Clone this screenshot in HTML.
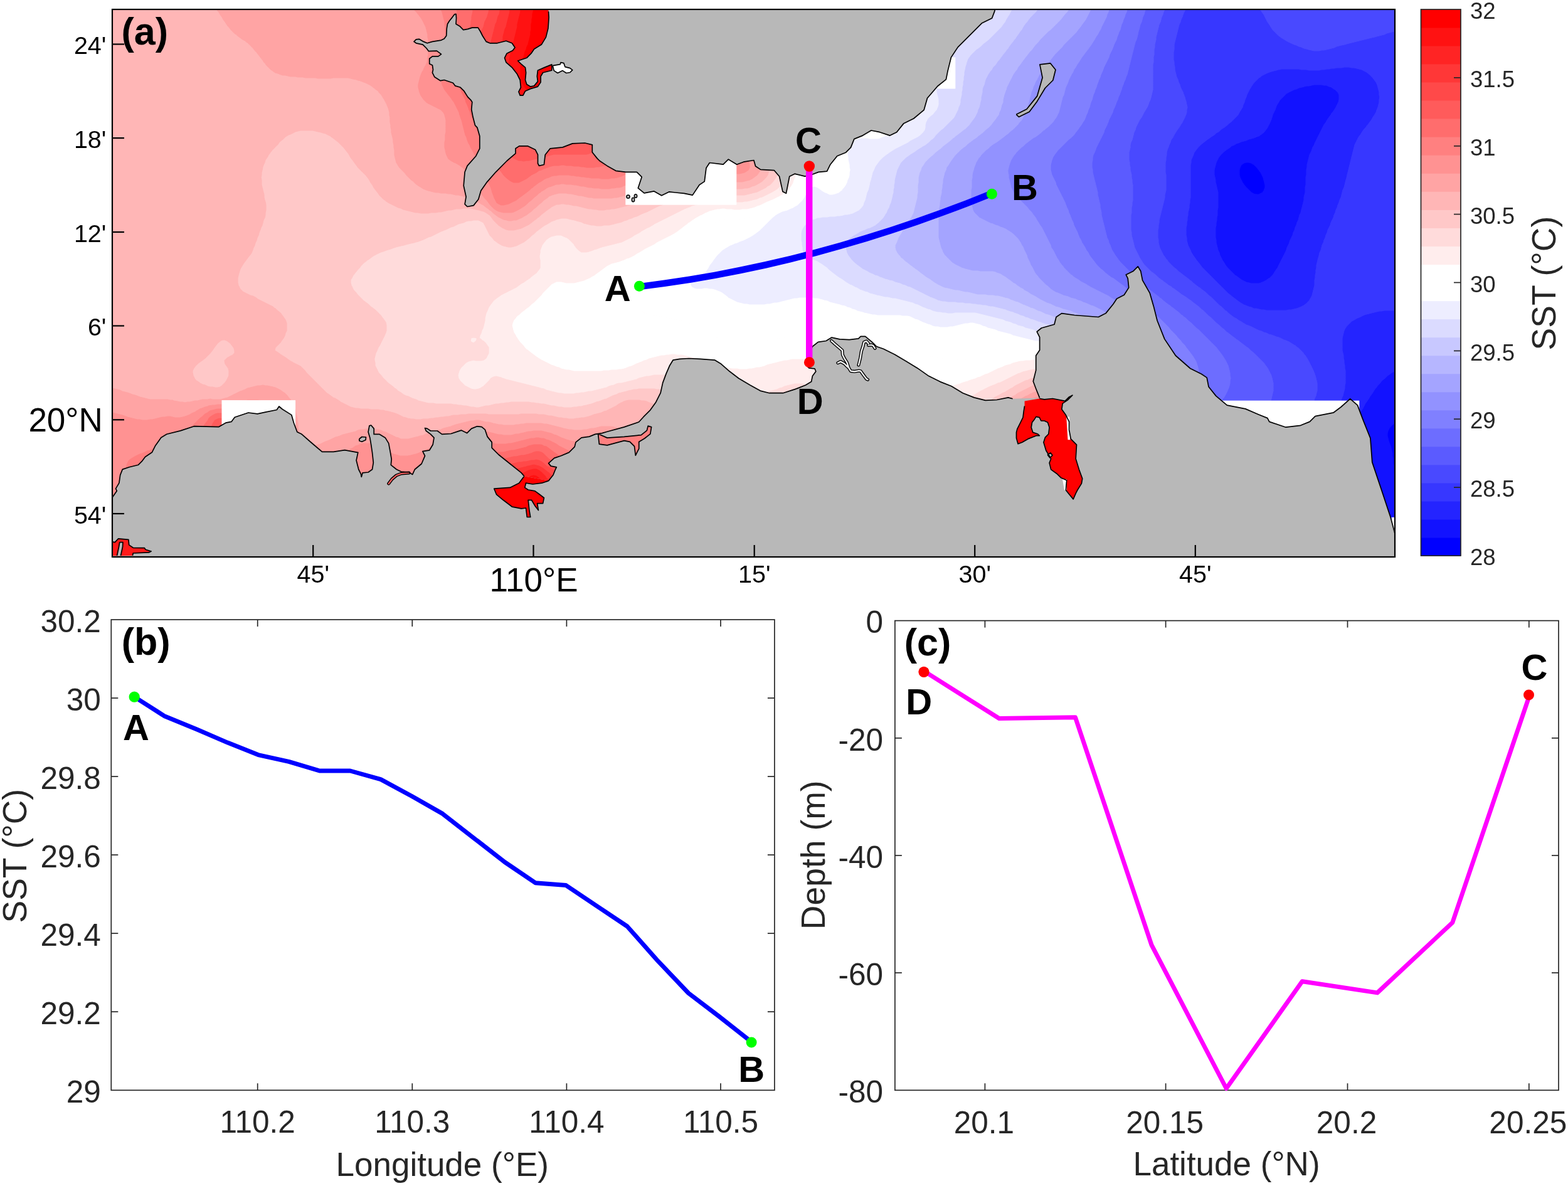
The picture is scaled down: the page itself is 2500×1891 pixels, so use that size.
<!DOCTYPE html>
<html><head><meta charset="utf-8"><title>SST figure</title>
<style>html,body{margin:0;padding:0;background:#fff;overflow:hidden}svg{display:block}</style>
</head><body>
<svg xmlns="http://www.w3.org/2000/svg" width="2500" height="1891" viewBox="0 0 2500 1891" font-family='"Liberation Sans", Arial, sans-serif'><rect x="179" y="15" width="2045" height="873" fill="#fbb"/>
<defs><clipPath id="mclip"><rect x="179" y="15" width="2045" height="872"/></clipPath></defs><g clip-path="url(#mclip)"><path d="M1987,259 1991,259 1995,260 1999,262 2003,266 2007,271 2010,275 2011,277 2014,283 2015,287 2016,291 2017,295 2017,299 2016,303 2013,307 2011,308 2007,310 2003,310 1999,309 1996,307 1991,303 1987,299 1984,295 1981,291 1979,287 1977,283 1976,279 1976,275 1976,271 1977,267 1979,263 1983,260 1987,259ZM2231,671 2231,675 2231,679 2231,683 2231,687 2231,691 2231,695 2231,699 2231,703 2231,707 2231,711 2231,715 2231,719 2231,723 2231,727 2231,731 2231,735 2231,739 2231,743 2231,747 2231,751 2231,755 2231,759 2231,763 2231,767 2231,771 2231,775 2231,779 2231,783 2231,787 2231,791 2231,795 2231,799 2231,803 2231,807 2231,811 2231,815 2231,819 2231,823 2231,827 2231,831 2231,835 2231,839 2231,843 2231,847 2231,851 2231,855 2231,859 2231,863 2231,867 2231,871 2231,875 2231,879 2231,883 2231,887 2231,891 2231,895 2227,895 2224,895 2224,891 2224,887 2224,883 2224,879 2224,875 2224,871 2224,867 2224,863 2224,859 2224,855 2224,851 2224,847 2224,843 2224,839 2224,835 2224,831 2224,827 2224,823 2224,819 2224,815 2224,811 2224,807 2224,803 2224,799 2224,795 2224,791 2224,787 2224,783 2223,779 2223,775 2223,771 2223,768 2223,763 2223,759 2222,755 2222,751 2222,747 2222,743 2221,739 2221,735 2221,731 2220,727 2220,723 2219,720 2218,715 2217,711 2215,707 2214,703 2213,699 2212,695 2212,691 2213,687 2215,683 2218,679 2223,675 2227,673 2230,671Z" fill="#0000ff" stroke="#0000ff" stroke-width="1.2" fill-rule="evenodd"/>
<path d="M2103,135 2107,135 2111,136 2115,136 2119,138 2122,139 2127,142 2129,143 2131,145 2133,147 2135,151 2135,155 2135,159 2134,163 2132,167 2131,169 2128,175 2125,179 2123,181 2122,183 2119,187 2116,191 2114,195 2111,199 2109,203 2107,207 2105,211 2103,215 2101,219 2099,223 2097,227 2095,231 2093,235 2092,239 2090,243 2088,247 2087,251 2086,255 2085,259 2084,263 2084,267 2083,271 2083,275 2083,279 2082,283 2082,287 2082,291 2082,295 2081,299 2081,303 2081,307 2080,311 2079,315 2079,319 2078,323 2077,327 2076,331 2075,334 2074,339 2072,343 2071,347 2070,351 2068,355 2067,358 2065,363 2064,367 2062,371 2061,375 2059,379 2057,383 2056,387 2054,391 2052,395 2051,398 2049,403 2047,407 2045,411 2043,414 2041,419 2039,422 2037,427 2035,430 2032,435 2029,439 2027,441 2025,443 2023,444 2019,447 2015,449 2011,451 2007,452 2003,452 1999,452 1995,452 1992,451 1987,450 1983,448 1979,446 1975,443 1971,440 1969,439 1967,437 1965,435 1963,433 1961,431 1959,429 1957,427 1955,424 1952,419 1949,415 1947,411 1945,407 1944,403 1942,399 1941,395 1940,391 1939,387 1939,384 1938,379 1938,375 1938,371 1938,367 1938,363 1939,359 1939,355 1940,351 1940,347 1941,343 1941,339 1941,335 1942,331 1942,327 1942,323 1942,319 1942,315 1942,311 1942,307 1941,303 1940,299 1939,295 1938,291 1938,287 1937,283 1936,279 1936,275 1936,271 1937,267 1938,263 1939,259 1941,255 1943,251 1946,247 1950,243 1955,239 1959,236 1963,233 1967,231 1971,229 1975,228 1979,226 1983,225 1987,224 1991,222 1995,221 1999,220 2002,219 2007,217 2010,215 2015,211 2018,207 2021,203 2023,199 2025,195 2027,191 2028,187 2029,183 2031,179 2033,175 2034,171 2036,167 2039,163 2041,159 2043,157 2045,155 2047,153 2049,151 2051,149 2054,147 2059,145 2063,143 2067,142 2071,140 2075,139 2079,138 2083,137 2087,137 2091,136 2095,135 2099,135 2103,135ZM1987,259 1983,260 1979,263 1977,267 1976,271 1976,275 1976,279 1977,283 1979,287 1981,291 1983,294 1987,299 1991,303 1995,307 1999,309 2003,310 2007,310 2011,308 2013,307 2015,304 2017,299 2017,295 2016,291 2015,287 2014,283 2012,279 2010,275 2007,271 2004,267 2000,263 1995,260 1991,259 1987,259ZM2227,590 2231,588 2231,591 2231,595 2231,599 2231,603 2231,607 2231,611 2231,615 2231,619 2231,623 2231,627 2231,631 2231,635 2231,639 2231,643 2231,647 2231,651 2231,655 2231,659 2231,663 2231,667 2231,671 2227,673 2223,675 2219,678 2215,683 2213,687 2212,691 2212,695 2213,699 2214,703 2215,706 2217,711 2218,715 2219,719 2220,723 2220,727 2221,731 2221,735 2221,739 2222,743 2222,747 2222,751 2222,755 2223,759 2223,763 2223,767 2223,771 2223,775 2223,779 2224,783 2224,787 2224,791 2224,795 2224,799 2224,803 2224,807 2224,811 2224,815 2224,819 2224,823 2224,827 2224,831 2224,835 2224,839 2224,843 2224,847 2224,851 2224,855 2224,859 2224,863 2224,867 2224,871 2224,875 2224,879 2224,883 2224,887 2224,891 2224,895 2219,895 2215,895 2211,895 2207,895 2203,895 2199,895 2195,895 2191,895 2187,895 2183,895 2179,895 2175,895 2171,895 2167,895 2163,895 2163,891 2162,887 2162,883 2162,879 2162,875 2162,871 2162,867 2161,863 2161,859 2161,855 2161,851 2161,847 2160,843 2160,839 2160,835 2160,831 2159,827 2159,823 2159,820 2159,815 2158,811 2158,807 2158,803 2158,799 2157,795 2157,791 2157,787 2157,783 2157,779 2156,775 2156,771 2156,767 2156,763 2155,759 2155,755 2155,751 2155,747 2155,743 2155,739 2155,735 2155,731 2155,727 2155,723 2155,719 2155,715 2155,711 2155,707 2156,703 2156,699 2157,695 2158,691 2158,687 2159,683 2161,679 2162,675 2163,671 2165,667 2167,663 2168,659 2170,655 2173,651 2175,647 2177,643 2179,641 2183,635 2185,631 2187,628 2190,623 2193,619 2195,617 2196,615 2199,612 2203,607 2207,604 2211,600 2215,597 2218,595 2223,592 2227,590Z" fill="#1212ff" stroke="#1212ff" stroke-width="1.2" fill-rule="evenodd"/>
<path d="M2039,111 2043,110 2047,110 2051,110 2055,110 2059,110 2063,110 2067,110 2071,110 2075,111 2079,111 2083,111 2087,112 2091,112 2095,112 2099,112 2103,112 2107,111 2111,111 2115,110 2119,110 2123,109 2127,109 2131,108 2135,108 2139,108 2143,107 2147,107 2151,107 2155,108 2159,108 2163,109 2167,110 2171,111 2175,113 2179,115 2183,118 2187,122 2191,127 2194,131 2195,134 2197,139 2198,143 2199,147 2199,151 2200,155 2199,159 2199,163 2198,167 2197,171 2195,175 2194,179 2192,183 2189,187 2187,190 2184,195 2181,199 2179,201 2178,203 2175,206 2171,211 2169,215 2167,217 2164,223 2162,227 2160,231 2159,235 2158,239 2157,243 2156,247 2155,250 2154,255 2153,259 2152,263 2151,267 2150,271 2149,275 2148,279 2147,283 2146,287 2145,291 2144,295 2143,298 2141,303 2140,307 2139,311 2138,315 2136,319 2135,322 2133,327 2132,331 2131,333 2129,339 2127,343 2126,347 2124,351 2123,353 2121,359 2119,363 2117,367 2116,371 2114,375 2113,379 2111,383 2110,387 2108,391 2107,395 2106,399 2104,403 2103,407 2102,411 2101,415 2100,419 2099,423 2099,426 2098,431 2098,435 2097,439 2097,443 2096,447 2096,451 2096,455 2095,459 2094,463 2093,467 2092,471 2091,474 2088,479 2084,483 2079,487 2075,489 2071,491 2067,492 2063,493 2059,494 2055,494 2051,495 2048,495 2043,495 2039,495 2035,495 2031,495 2027,495 2023,495 2019,495 2015,494 2011,494 2007,493 2003,492 1999,492 1995,490 1991,489 1987,488 1983,486 1979,484 1975,481 1972,479 1967,475 1963,472 1959,468 1955,465 1953,463 1951,461 1949,459 1947,457 1945,455 1943,453 1941,451 1939,449 1937,447 1935,445 1933,443 1931,441 1929,439 1927,437 1925,435 1923,433 1921,431 1919,429 1917,427 1915,424 1911,419 1908,415 1905,411 1903,408 1900,403 1898,399 1896,395 1895,393 1893,387 1892,383 1892,379 1891,375 1891,371 1891,367 1891,363 1892,359 1892,355 1893,351 1893,347 1894,343 1894,339 1895,336 1896,331 1896,327 1897,323 1897,319 1898,315 1898,311 1898,307 1898,303 1898,299 1898,295 1898,291 1898,287 1898,283 1898,279 1898,275 1898,271 1898,267 1898,263 1899,259 1899,255 1901,251 1902,247 1904,243 1907,239 1910,235 1914,231 1919,227 1923,224 1927,221 1930,219 1935,215 1939,212 1941,211 1943,210 1946,207 1951,203 1955,200 1959,197 1962,195 1966,191 1970,187 1974,183 1975,181 1976,179 1979,175 1981,171 1982,167 1984,163 1985,159 1987,155 1988,151 1990,147 1991,145 1994,139 1997,135 1999,132 2003,128 2007,124 2009,123 2011,121 2015,119 2019,117 2023,115 2027,114 2031,113 2035,112 2038,111ZM2101,135 2095,135 2091,136 2087,137 2083,137 2079,138 2076,139 2071,140 2067,142 2063,143 2059,145 2055,147 2051,149 2049,151 2047,153 2045,155 2043,157 2041,159 2039,162 2036,167 2035,169 2033,175 2031,179 2029,183 2028,187 2027,190 2025,195 2023,199 2021,203 2019,206 2015,211 2011,214 2007,217 2003,218 1999,220 1995,221 1991,222 1987,224 1983,225 1979,226 1977,227 1971,229 1968,231 1963,233 1961,235 1955,239 1951,242 1947,246 1943,251 1941,255 1939,259 1938,263 1937,267 1936,271 1936,275 1936,279 1937,283 1938,287 1938,291 1939,294 1940,299 1941,303 1942,307 1942,311 1942,315 1942,319 1942,323 1942,327 1942,331 1941,335 1941,339 1941,343 1940,347 1940,351 1939,355 1939,359 1938,363 1938,367 1938,371 1938,375 1938,379 1939,383 1939,387 1940,391 1941,395 1942,399 1944,403 1945,407 1947,411 1949,415 1951,418 1954,423 1957,427 1959,429 1961,431 1963,433 1965,435 1967,437 1969,439 1971,440 1975,443 1979,446 1981,447 1987,450 1991,451 1995,452 1999,452 2003,452 2007,452 2010,451 2015,449 2019,447 2023,444 2025,443 2027,441 2029,439 2031,436 2034,431 2037,427 2039,423 2041,419 2043,415 2045,411 2047,407 2049,403 2051,399 2052,395 2054,391 2055,389 2057,383 2059,379 2061,375 2062,371 2064,367 2065,363 2067,359 2068,355 2070,351 2071,347 2072,343 2074,339 2075,335 2076,331 2077,327 2078,323 2079,319 2079,315 2080,311 2081,307 2081,303 2081,299 2082,295 2082,291 2082,287 2082,283 2083,279 2083,275 2083,271 2084,267 2084,263 2085,259 2086,255 2087,251 2088,247 2090,243 2091,241 2093,235 2095,232 2097,227 2099,223 2101,219 2103,215 2105,211 2107,207 2109,203 2111,199 2114,195 2115,193 2119,187 2122,183 2123,181 2125,179 2127,176 2130,171 2132,167 2134,163 2135,159 2135,155 2135,151 2133,147 2131,145 2129,143 2127,142 2123,139 2119,138 2115,136 2111,136 2107,135 2103,135ZM2227,495 2231,495 2231,499 2231,503 2231,507 2231,511 2231,515 2231,519 2231,523 2231,527 2231,531 2231,535 2231,539 2231,543 2231,547 2231,551 2231,555 2231,559 2231,563 2231,567 2231,571 2231,575 2231,579 2231,583 2231,587 2227,590 2225,591 2219,594 2215,597 2212,599 2208,603 2203,607 2200,611 2196,615 2195,617 2193,619 2191,622 2188,627 2185,631 2183,634 2180,639 2177,643 2175,647 2173,651 2171,654 2168,659 2167,662 2165,667 2163,671 2162,675 2161,679 2159,683 2158,687 2158,691 2157,695 2156,699 2156,703 2155,707 2155,711 2155,714 2155,719 2155,723 2155,727 2155,731 2155,735 2155,739 2155,743 2155,747 2155,751 2155,755 2155,759 2156,763 2156,767 2156,771 2156,775 2157,779 2157,783 2157,787 2157,791 2157,795 2158,799 2158,803 2158,807 2158,811 2159,815 2159,819 2159,823 2159,827 2160,831 2160,835 2160,839 2160,843 2161,847 2161,851 2161,855 2161,859 2161,863 2162,867 2162,871 2162,875 2162,879 2162,883 2162,887 2163,891 2163,895 2159,895 2155,895 2151,895 2147,895 2143,895 2139,895 2135,895 2131,895 2127,895 2123,895 2119,895 2115,895 2111,895 2108,891 2108,887 2107,883 2107,879 2107,875 2107,871 2106,867 2106,863 2106,859 2105,855 2105,851 2105,847 2104,843 2104,839 2104,835 2103,831 2103,827 2103,823 2102,819 2102,815 2102,811 2102,807 2102,803 2102,799 2101,795 2101,791 2101,787 2101,783 2102,779 2102,775 2102,771 2102,767 2102,763 2103,759 2103,755 2104,751 2104,747 2105,743 2106,739 2106,735 2107,731 2108,727 2109,723 2110,719 2111,715 2112,711 2113,707 2114,703 2115,700 2117,695 2118,691 2119,688 2121,683 2122,679 2123,677 2125,671 2127,667 2128,663 2130,659 2131,657 2133,651 2135,647 2136,643 2138,639 2139,636 2141,631 2142,627 2143,623 2144,619 2144,615 2145,611 2145,607 2145,603 2145,599 2145,595 2145,591 2144,587 2144,583 2143,579 2143,575 2142,571 2142,567 2141,563 2140,559 2140,555 2140,551 2140,547 2140,543 2140,539 2141,535 2142,531 2143,527 2145,523 2147,520 2151,516 2155,512 2157,511 2159,510 2163,508 2167,506 2171,504 2173,503 2179,501 2183,500 2186,499 2191,498 2195,497 2199,496 2203,496 2207,495 2211,495 2215,495 2219,495 2223,495 2227,495Z" fill="#2424ff" stroke="#2424ff" stroke-width="1.2" fill-rule="evenodd"/>
<path d="M1895,7 1899,7 1903,7 1907,7 1911,7 1915,7 1919,7 1923,7 1927,7 1931,7 1935,7 1939,7 1943,7 1947,7 1951,7 1955,7 1959,7 1963,7 1967,7 1971,7 1975,7 1979,7 1983,7 1987,7 1991,7 1995,7 1999,7 2003,7 2006,11 2009,15 2011,17 2012,19 2015,23 2017,27 2019,30 2021,35 2023,38 2026,43 2029,47 2031,49 2033,51 2035,53 2037,55 2039,57 2042,59 2047,62 2051,65 2055,67 2059,69 2063,71 2067,72 2071,74 2074,75 2079,77 2083,78 2086,79 2091,80 2095,81 2099,81 2103,81 2107,80 2111,80 2114,79 2119,78 2123,77 2127,76 2131,74 2135,73 2139,72 2143,71 2147,70 2151,69 2155,68 2159,67 2163,66 2167,65 2171,64 2175,63 2179,62 2183,61 2187,60 2191,59 2195,58 2199,57 2203,56 2206,55 2211,53 2215,52 2219,51 2223,50 2227,50 2231,50 2231,55 2231,59 2231,63 2231,67 2231,71 2231,75 2231,79 2231,83 2231,87 2231,91 2231,95 2231,99 2231,103 2231,107 2231,111 2231,115 2231,119 2231,123 2231,127 2231,131 2231,135 2231,139 2231,143 2231,147 2231,151 2231,155 2231,159 2231,163 2231,167 2231,171 2231,175 2231,179 2231,183 2231,187 2231,191 2231,195 2231,199 2231,203 2231,207 2231,211 2231,215 2231,219 2231,223 2231,227 2231,231 2231,235 2231,239 2231,243 2231,247 2231,251 2231,255 2231,259 2231,263 2231,267 2231,271 2231,275 2231,279 2231,283 2231,287 2231,291 2231,295 2231,299 2231,303 2231,307 2231,311 2231,315 2231,319 2231,323 2231,327 2231,331 2231,335 2231,339 2231,343 2231,347 2231,351 2231,355 2231,359 2231,363 2231,367 2231,371 2231,375 2231,379 2231,383 2231,387 2231,391 2231,395 2231,399 2231,403 2231,407 2231,411 2231,415 2231,419 2231,423 2231,427 2231,431 2231,435 2231,439 2231,443 2231,447 2231,451 2231,455 2231,459 2231,463 2231,467 2231,471 2231,475 2231,479 2231,483 2231,487 2231,491 2231,495 2227,495 2224,495 2219,495 2215,495 2211,495 2207,495 2203,496 2199,496 2195,497 2191,498 2187,499 2183,500 2179,501 2175,502 2171,504 2167,506 2164,507 2159,510 2157,511 2155,512 2152,515 2148,519 2145,523 2143,527 2142,531 2141,535 2140,539 2140,543 2140,547 2140,551 2140,555 2140,559 2141,563 2142,567 2142,571 2143,575 2143,579 2144,583 2144,587 2145,591 2145,595 2145,599 2145,603 2145,607 2145,611 2144,615 2144,619 2143,623 2142,627 2141,631 2139,635 2138,639 2136,643 2135,647 2133,651 2132,655 2130,659 2128,663 2127,667 2125,671 2124,675 2122,679 2121,683 2119,687 2118,691 2117,695 2115,699 2114,703 2113,707 2112,711 2111,714 2110,719 2109,723 2108,727 2107,731 2106,735 2106,739 2105,743 2104,747 2104,751 2103,755 2103,759 2102,763 2102,767 2102,771 2102,775 2102,779 2101,783 2101,787 2101,791 2101,795 2102,799 2102,803 2102,807 2102,811 2102,815 2102,819 2103,823 2103,827 2103,831 2104,835 2104,839 2104,843 2105,847 2105,851 2105,855 2106,859 2106,863 2106,867 2107,871 2107,875 2107,879 2107,883 2108,887 2108,891 2108,895 2103,895 2099,895 2095,895 2091,895 2087,895 2083,895 2079,895 2075,895 2071,895 2067,895 2063,895 2059,895 2056,895 2055,891 2055,887 2054,883 2054,879 2053,875 2053,871 2052,867 2052,863 2051,859 2050,855 2050,851 2049,847 2048,843 2047,839 2047,835 2046,831 2045,827 2045,823 2044,819 2043,815 2043,811 2042,807 2042,803 2041,799 2041,795 2041,791 2041,787 2041,783 2041,779 2041,775 2041,771 2042,767 2042,763 2043,759 2044,755 2045,751 2046,747 2047,743 2048,739 2049,735 2051,731 2052,727 2054,723 2056,719 2058,715 2059,712 2061,707 2063,703 2065,699 2067,695 2069,691 2071,688 2073,683 2075,680 2077,675 2079,672 2082,667 2083,664 2086,659 2087,656 2090,651 2091,648 2093,643 2095,639 2096,635 2098,631 2099,627 2100,623 2100,619 2100,615 2100,611 2099,607 2098,603 2097,599 2096,595 2094,591 2092,587 2091,584 2088,579 2087,577 2084,571 2081,567 2079,565 2078,563 2075,560 2071,556 2067,553 2065,551 2063,550 2059,547 2055,545 2051,543 2047,542 2043,540 2040,539 2035,537 2031,536 2027,534 2023,533 2019,531 2015,530 2011,528 2008,527 2003,525 1999,523 1995,521 1991,520 1987,518 1983,516 1979,513 1975,511 1971,508 1969,507 1967,506 1963,503 1959,500 1955,496 1953,495 1951,493 1949,491 1947,489 1944,487 1940,483 1936,479 1932,475 1927,471 1923,467 1919,464 1915,461 1913,459 1911,458 1908,455 1903,452 1899,448 1897,447 1895,445 1892,443 1887,439 1883,436 1879,433 1877,431 1875,429 1872,427 1868,423 1864,419 1861,415 1859,413 1858,411 1855,407 1853,403 1851,399 1849,395 1848,391 1847,387 1847,383 1846,379 1846,375 1846,371 1846,367 1847,363 1847,359 1848,355 1848,351 1849,347 1850,343 1851,339 1852,335 1853,331 1854,327 1855,323 1856,319 1857,315 1857,311 1858,307 1859,303 1859,299 1859,295 1859,291 1859,287 1859,283 1859,279 1858,275 1858,271 1858,267 1858,263 1858,259 1859,255 1859,251 1860,247 1860,243 1861,239 1863,235 1864,231 1866,227 1867,224 1870,219 1871,216 1874,211 1877,207 1879,204 1882,199 1885,195 1887,191 1889,187 1891,183 1892,179 1892,175 1893,171 1892,167 1891,163 1890,159 1889,155 1887,151 1886,147 1884,143 1883,141 1881,135 1879,131 1878,127 1876,123 1875,119 1874,115 1873,111 1873,107 1872,103 1872,99 1871,95 1871,91 1871,87 1871,83 1872,79 1872,75 1872,71 1873,67 1874,63 1875,59 1876,55 1877,51 1878,47 1879,43 1880,39 1882,35 1883,31 1885,27 1886,23 1888,19 1890,15 1893,11 1895,7ZM2038,111 2035,112 2031,113 2027,114 2024,115 2019,117 2015,119 2011,121 2009,123 2007,124 2004,127 2000,131 1997,135 1995,138 1992,143 1990,147 1988,151 1987,154 1985,159 1984,163 1982,167 1981,171 1979,174 1976,179 1975,181 1974,183 1971,186 1967,190 1963,194 1959,197 1957,199 1952,203 1947,206 1943,210 1941,211 1939,212 1936,215 1931,218 1927,221 1924,223 1919,227 1915,230 1911,234 1907,239 1904,243 1903,246 1901,251 1899,255 1899,259 1898,263 1898,267 1898,271 1898,275 1898,279 1898,283 1898,287 1898,291 1898,295 1898,299 1898,303 1898,307 1898,311 1898,315 1897,319 1897,323 1896,327 1896,331 1895,335 1894,339 1894,343 1893,347 1893,351 1892,355 1892,359 1891,363 1891,367 1891,371 1891,375 1892,379 1892,383 1893,387 1894,391 1896,395 1898,399 1899,402 1902,407 1905,411 1907,414 1911,419 1914,423 1917,427 1919,429 1921,431 1923,433 1925,435 1927,437 1929,439 1931,441 1933,443 1935,445 1937,447 1939,449 1941,451 1943,453 1945,455 1947,457 1949,459 1951,461 1953,463 1955,465 1957,467 1962,471 1967,475 1971,478 1975,481 1978,483 1983,486 1986,487 1991,489 1995,490 1999,492 2003,492 2007,493 2011,494 2015,494 2019,495 2023,495 2027,495 2031,495 2035,495 2039,495 2043,495 2047,495 2051,495 2055,494 2059,494 2063,493 2067,492 2070,491 2075,489 2079,487 2083,484 2087,480 2090,475 2092,471 2093,467 2094,463 2095,459 2096,455 2096,451 2096,447 2097,443 2097,439 2098,435 2098,431 2099,427 2099,423 2100,419 2101,415 2102,411 2103,408 2104,403 2106,399 2107,395 2108,391 2110,387 2111,383 2113,379 2114,375 2116,371 2117,367 2119,363 2121,359 2122,355 2124,351 2126,347 2127,343 2129,339 2130,335 2132,331 2133,327 2135,323 2136,319 2138,315 2139,311 2140,307 2141,303 2143,299 2144,295 2145,291 2146,287 2147,284 2148,279 2149,275 2150,271 2151,267 2152,263 2153,259 2154,255 2155,251 2156,247 2157,243 2158,239 2159,235 2160,231 2162,227 2163,225 2166,219 2169,215 2171,212 2174,207 2178,203 2179,201 2181,199 2183,196 2187,191 2189,187 2191,184 2194,179 2195,176 2197,171 2198,167 2199,163 2199,159 2200,155 2199,151 2199,147 2198,143 2197,139 2196,135 2194,131 2191,127 2188,123 2184,119 2179,115 2175,113 2171,111 2167,110 2163,109 2159,108 2155,108 2151,107 2147,107 2143,107 2139,108 2135,108 2131,108 2127,109 2123,109 2119,110 2115,110 2111,111 2107,111 2103,112 2099,112 2095,112 2091,112 2087,112 2083,111 2080,111 2075,111 2071,110 2067,110 2063,110 2059,110 2055,110 2051,110 2047,110 2043,110 2039,111Z" fill="#3737ff" stroke="#3737ff" stroke-width="1.2" fill-rule="evenodd"/>
<path d="M1859,10 1860,7 1867,7 1871,7 1875,7 1879,7 1883,7 1887,7 1891,7 1895,7 1893,11 1891,13 1888,19 1887,21 1885,27 1883,31 1882,35 1880,39 1879,43 1878,47 1877,51 1876,55 1875,59 1874,63 1873,67 1872,71 1872,75 1872,79 1871,83 1871,87 1871,91 1871,95 1872,99 1872,103 1873,107 1873,111 1874,115 1875,119 1876,123 1878,127 1879,131 1881,135 1882,139 1884,143 1886,147 1887,150 1889,155 1890,159 1891,162 1892,167 1893,171 1892,175 1892,179 1891,182 1889,187 1887,191 1885,195 1883,198 1880,203 1877,207 1875,210 1872,215 1870,219 1867,223 1866,227 1864,231 1863,234 1861,239 1860,243 1860,247 1859,251 1859,255 1858,259 1858,263 1858,267 1858,271 1858,275 1859,279 1859,283 1859,287 1859,290 1859,295 1859,299 1859,303 1858,307 1857,311 1857,315 1856,319 1855,323 1854,327 1853,331 1852,335 1851,339 1850,343 1849,347 1848,351 1848,355 1847,359 1847,363 1846,367 1846,371 1846,375 1846,379 1847,383 1847,387 1848,391 1849,395 1851,399 1853,403 1855,407 1858,411 1859,413 1861,415 1863,418 1867,422 1871,426 1875,429 1877,431 1879,433 1882,435 1887,439 1891,442 1895,445 1897,447 1899,448 1902,451 1907,455 1911,458 1913,459 1915,461 1918,463 1923,467 1927,471 1931,474 1935,478 1939,482 1943,486 1947,489 1949,491 1951,493 1953,495 1955,496 1958,499 1963,503 1967,506 1969,507 1971,508 1975,511 1979,513 1982,515 1987,518 1990,519 1995,521 1999,523 2003,525 2007,527 2011,528 2015,530 2019,531 2023,533 2027,534 2030,535 2035,537 2039,538 2043,540 2047,542 2050,543 2055,545 2058,547 2063,550 2065,551 2067,553 2070,555 2074,559 2078,563 2079,565 2081,567 2083,570 2086,575 2088,579 2090,583 2092,587 2094,591 2095,594 2097,599 2098,603 2099,607 2100,611 2100,615 2100,619 2100,623 2099,626 2098,631 2096,635 2095,639 2093,643 2091,647 2090,651 2088,655 2086,659 2084,663 2082,667 2080,671 2077,675 2075,679 2073,683 2071,687 2069,691 2067,695 2065,699 2063,703 2061,707 2059,711 2058,715 2056,719 2054,723 2052,727 2051,731 2049,735 2048,739 2047,743 2046,747 2045,751 2044,755 2043,759 2042,763 2042,767 2041,771 2041,775 2041,779 2041,783 2041,787 2041,791 2041,795 2041,799 2042,803 2042,807 2043,811 2043,815 2044,819 2045,823 2045,827 2046,831 2047,835 2047,839 2048,843 2049,847 2050,851 2050,855 2051,859 2052,863 2052,867 2053,871 2053,875 2054,879 2054,883 2055,887 2055,891 2056,895 2051,895 2047,895 2043,895 2039,895 2035,895 2031,895 2027,895 2023,895 2019,895 2015,895 2011,895 2007,895 2003,895 2001,891 2000,887 1999,883 1998,879 1997,875 1995,871 1994,867 1992,863 1991,860 1989,855 1987,851 1985,847 1983,843 1981,839 1980,835 1978,831 1976,827 1973,823 1971,819 1969,815 1967,811 1965,807 1963,803 1961,799 1959,795 1957,791 1955,787 1954,783 1952,779 1950,775 1949,771 1948,767 1946,763 1946,759 1945,755 1945,751 1945,747 1946,743 1947,740 1949,735 1951,732 1954,727 1958,723 1961,719 1963,717 1965,715 1967,713 1969,711 1971,709 1974,707 1978,703 1982,699 1986,695 1990,691 1994,687 1997,683 1999,681 2001,679 2003,677 2007,672 2010,667 2013,663 2015,660 2018,655 2021,651 2023,647 2024,643 2026,639 2027,636 2028,631 2029,627 2030,623 2030,619 2030,615 2030,611 2029,607 2028,603 2027,600 2025,595 2023,591 2021,587 2019,585 2015,579 2011,575 2008,571 2003,567 1999,563 1995,559 1991,556 1987,553 1984,551 1979,547 1975,544 1971,541 1968,539 1963,535 1959,532 1955,529 1953,527 1951,525 1948,523 1944,519 1939,515 1935,511 1931,507 1927,504 1923,500 1919,496 1915,493 1913,491 1911,489 1908,487 1903,483 1899,480 1895,477 1892,475 1887,471 1883,469 1881,467 1875,463 1871,460 1869,459 1867,457 1864,455 1859,452 1855,449 1853,447 1851,446 1848,443 1843,439 1839,436 1835,433 1833,431 1831,429 1829,427 1827,425 1825,423 1823,420 1819,415 1817,411 1815,408 1813,403 1811,399 1809,395 1808,391 1807,388 1806,383 1805,379 1804,375 1804,371 1803,367 1803,363 1803,359 1803,355 1803,351 1803,347 1803,343 1804,339 1804,335 1804,331 1805,327 1805,323 1806,319 1806,315 1806,311 1806,307 1806,303 1806,299 1806,295 1805,291 1805,287 1804,283 1804,279 1803,275 1802,271 1802,267 1801,263 1801,259 1800,255 1800,251 1800,247 1800,243 1801,239 1802,235 1802,231 1803,227 1805,223 1806,219 1807,215 1808,211 1810,207 1811,204 1813,199 1815,195 1817,191 1819,188 1822,183 1824,179 1827,175 1829,171 1831,167 1832,163 1834,159 1835,156 1836,151 1837,147 1838,143 1838,139 1838,135 1838,131 1838,127 1838,123 1838,119 1838,115 1838,111 1838,107 1838,103 1839,99 1839,95 1839,91 1840,87 1840,83 1840,79 1841,75 1841,71 1842,67 1843,63 1843,59 1844,55 1845,51 1846,47 1847,44 1848,39 1850,35 1851,31 1852,27 1854,23 1855,20 1857,15 1858,11ZM2003,7 2007,7 2011,7 2015,7 2019,7 2023,7 2027,7 2031,7 2035,7 2039,7 2043,7 2047,7 2051,7 2055,7 2059,7 2063,7 2067,7 2071,7 2075,7 2079,7 2083,7 2087,7 2091,7 2095,7 2099,7 2103,7 2107,7 2111,7 2115,7 2119,7 2123,7 2127,7 2131,7 2135,7 2139,7 2143,7 2147,7 2151,7 2155,7 2159,7 2163,7 2167,7 2171,7 2175,7 2179,7 2183,7 2187,7 2191,7 2195,7 2199,7 2203,7 2207,7 2211,7 2215,7 2219,7 2223,7 2227,7 2231,7 2231,11 2231,15 2231,19 2231,23 2231,27 2231,31 2231,35 2231,39 2231,43 2231,47 2227,50 2223,50 2219,51 2215,52 2211,53 2207,55 2203,56 2199,57 2195,58 2192,59 2187,60 2183,61 2179,62 2175,63 2171,64 2167,65 2163,66 2159,67 2155,68 2151,69 2147,70 2144,71 2139,72 2135,73 2131,74 2127,76 2123,77 2119,78 2115,79 2111,80 2107,80 2103,81 2099,81 2095,81 2091,80 2087,79 2083,78 2079,77 2075,75 2071,74 2067,72 2064,71 2059,69 2055,67 2051,65 2048,63 2043,60 2039,57 2037,55 2035,53 2033,51 2031,49 2029,47 2027,44 2024,39 2021,35 2019,31 2017,27 2015,23 2012,19 2011,17 2009,15 2007,12 2003,7Z" fill="#4949ff" stroke="#4949ff" stroke-width="1.2" fill-rule="evenodd"/>
<path d="M1831,7 1835,7 1839,7 1843,7 1847,7 1851,7 1855,7 1859,7 1858,11 1857,15 1855,19 1854,23 1852,27 1851,31 1850,35 1848,39 1847,43 1846,47 1845,51 1844,55 1843,59 1843,63 1842,67 1841,71 1841,75 1840,79 1840,83 1840,87 1839,91 1839,94 1839,99 1838,103 1838,107 1838,111 1838,115 1838,119 1838,123 1838,127 1838,131 1838,135 1838,139 1838,143 1837,147 1836,151 1835,155 1834,159 1832,163 1831,166 1829,171 1827,174 1824,179 1823,181 1820,187 1817,191 1815,195 1813,199 1811,203 1810,207 1808,211 1807,215 1806,219 1805,223 1803,227 1802,231 1802,235 1801,239 1800,243 1800,247 1800,251 1800,255 1801,259 1801,263 1802,267 1802,271 1803,275 1804,279 1804,283 1805,287 1805,291 1806,295 1806,299 1806,303 1806,307 1806,311 1806,315 1806,319 1805,323 1805,327 1804,331 1804,335 1804,339 1803,343 1803,347 1803,351 1803,355 1803,359 1803,363 1803,367 1804,371 1804,375 1805,379 1806,383 1807,387 1808,391 1809,395 1811,399 1813,403 1815,407 1817,411 1819,414 1822,419 1825,423 1827,425 1829,427 1831,429 1833,431 1835,433 1838,435 1843,439 1847,443 1851,446 1853,447 1855,449 1858,451 1863,455 1867,457 1869,459 1871,460 1875,463 1879,466 1883,469 1886,471 1891,474 1895,477 1898,479 1903,483 1907,486 1911,489 1913,491 1915,493 1918,495 1922,499 1926,503 1931,507 1935,511 1939,515 1943,518 1947,522 1951,525 1953,527 1955,529 1958,531 1963,535 1967,538 1971,541 1974,543 1979,547 1983,550 1987,553 1990,555 1994,559 1999,563 2003,567 2007,571 2011,575 2015,579 2018,583 2021,587 2023,591 2025,595 2027,599 2028,603 2029,607 2030,611 2030,615 2030,619 2030,623 2029,627 2028,631 2027,635 2026,639 2024,643 2023,646 2021,651 2019,654 2016,659 2013,663 2011,666 2007,671 2004,675 2001,679 1999,681 1997,683 1995,686 1991,690 1987,694 1983,698 1979,702 1975,706 1971,709 1969,711 1967,713 1965,715 1963,717 1961,719 1959,721 1955,726 1951,731 1949,735 1947,739 1946,743 1945,747 1945,751 1945,755 1946,759 1946,763 1948,767 1949,771 1950,775 1952,779 1954,783 1955,786 1957,791 1959,795 1961,799 1963,803 1965,807 1967,810 1969,815 1971,818 1973,823 1975,826 1978,831 1979,834 1981,839 1983,842 1985,847 1987,851 1989,855 1991,859 1992,863 1994,867 1995,870 1997,875 1998,879 1999,883 2000,887 2001,891 2001,895 1995,895 1991,895 1987,895 1983,895 1979,895 1975,895 1971,895 1967,895 1963,895 1959,895 1955,895 1951,895 1947,895 1943,895 1939,891 1938,887 1936,883 1935,879 1933,875 1931,871 1929,867 1927,863 1925,859 1923,855 1921,851 1919,847 1917,843 1915,840 1912,835 1910,831 1907,827 1905,823 1903,820 1900,815 1897,811 1895,808 1892,803 1889,799 1887,795 1884,791 1883,789 1882,787 1879,783 1877,779 1875,776 1872,771 1870,767 1867,763 1865,759 1863,755 1861,751 1859,747 1857,743 1855,739 1854,735 1853,731 1852,727 1851,724 1851,719 1851,715 1851,712 1852,707 1854,703 1856,699 1859,696 1863,692 1867,688 1871,685 1874,683 1879,680 1881,679 1887,676 1889,675 1895,672 1898,671 1903,669 1907,667 1911,665 1915,663 1919,661 1922,659 1927,656 1931,653 1934,651 1939,647 1943,644 1947,639 1951,635 1953,631 1955,628 1957,623 1959,619 1960,615 1961,611 1961,607 1962,603 1961,599 1961,595 1960,591 1959,587 1958,583 1956,579 1954,575 1951,571 1949,567 1947,564 1943,559 1939,555 1936,551 1932,547 1928,543 1924,539 1920,535 1916,531 1912,527 1907,523 1903,519 1899,515 1895,512 1891,508 1887,505 1885,503 1883,502 1880,499 1875,495 1871,492 1867,489 1865,487 1863,486 1860,483 1855,480 1851,476 1849,475 1847,473 1844,471 1839,467 1835,464 1831,460 1829,459 1827,457 1825,455 1823,454 1820,451 1816,447 1811,443 1807,439 1803,435 1799,431 1795,427 1791,423 1787,419 1784,415 1781,411 1779,408 1776,403 1773,399 1771,395 1770,391 1768,387 1767,384 1765,379 1764,375 1763,372 1762,367 1761,363 1760,359 1759,356 1758,351 1757,347 1756,343 1756,339 1755,335 1754,331 1754,327 1753,323 1752,319 1751,315 1750,311 1750,307 1749,303 1748,299 1747,296 1746,291 1745,287 1744,283 1743,280 1742,275 1742,271 1741,267 1741,263 1741,259 1742,255 1742,251 1743,247 1745,243 1746,239 1748,235 1750,231 1751,229 1754,223 1755,221 1758,215 1759,212 1761,207 1763,204 1765,199 1767,195 1768,191 1770,187 1772,183 1774,179 1775,175 1777,171 1779,167 1780,163 1782,159 1783,156 1785,151 1786,147 1788,143 1789,139 1791,135 1792,131 1794,127 1795,124 1797,119 1798,115 1799,112 1800,107 1801,103 1802,99 1803,95 1804,91 1805,87 1806,83 1807,79 1808,75 1809,71 1810,67 1812,63 1813,59 1814,55 1815,51 1816,47 1817,43 1818,39 1820,35 1821,31 1822,27 1823,25 1825,19 1826,15 1828,11 1829,7Z" fill="#5b5bff" stroke="#5b5bff" stroke-width="1.2" fill-rule="evenodd"/>
<path d="M1799,9 1800,7 1803,7 1807,7 1811,7 1815,7 1819,7 1823,7 1827,7 1828,11 1827,13 1825,19 1824,23 1822,27 1821,31 1820,35 1818,39 1817,43 1816,47 1815,50 1814,55 1813,59 1812,63 1810,67 1809,71 1808,75 1807,79 1806,83 1805,87 1804,91 1803,95 1802,99 1801,103 1800,107 1799,111 1798,115 1797,119 1795,123 1794,127 1792,131 1791,134 1789,139 1788,143 1787,145 1785,151 1783,155 1782,159 1780,163 1779,166 1777,171 1775,175 1774,179 1772,183 1770,187 1768,191 1767,194 1765,199 1763,203 1761,207 1760,211 1758,215 1756,219 1754,223 1752,227 1750,231 1748,235 1747,238 1745,243 1743,247 1742,251 1742,255 1741,259 1741,263 1741,267 1742,271 1742,275 1743,279 1744,283 1745,287 1746,291 1747,295 1748,299 1749,303 1750,307 1750,311 1751,314 1752,319 1753,323 1754,327 1754,331 1755,335 1756,339 1756,343 1757,347 1758,351 1759,355 1760,359 1761,363 1762,367 1763,371 1764,375 1765,379 1767,383 1768,387 1770,391 1771,394 1773,399 1775,402 1778,407 1781,411 1783,414 1787,419 1791,423 1795,427 1799,431 1803,435 1807,439 1811,443 1815,446 1819,450 1823,454 1825,455 1827,457 1829,459 1831,460 1834,463 1839,467 1843,470 1847,473 1849,475 1851,476 1854,479 1859,483 1863,486 1865,487 1867,489 1870,491 1875,495 1879,498 1883,502 1885,503 1887,505 1890,507 1894,511 1899,515 1903,519 1907,523 1911,526 1915,530 1919,534 1923,538 1927,542 1931,546 1935,550 1939,554 1943,559 1946,563 1949,567 1951,570 1954,575 1955,577 1958,583 1959,587 1960,591 1961,595 1961,599 1962,603 1961,607 1961,611 1960,615 1959,618 1957,623 1955,627 1953,631 1951,634 1947,639 1944,643 1939,647 1935,651 1931,653 1929,655 1923,659 1919,661 1915,663 1911,665 1907,667 1903,669 1899,671 1895,672 1891,674 1887,676 1883,678 1879,680 1875,683 1871,685 1869,687 1864,691 1860,695 1856,699 1855,701 1852,707 1851,711 1851,715 1851,719 1851,723 1852,727 1853,731 1854,735 1855,738 1857,743 1859,747 1861,751 1863,755 1865,759 1867,763 1870,767 1871,770 1874,775 1877,779 1879,783 1882,787 1883,789 1884,791 1887,795 1889,799 1891,801 1895,807 1897,811 1899,814 1902,819 1905,823 1907,827 1910,831 1911,833 1914,839 1917,843 1919,847 1921,851 1923,854 1925,859 1927,862 1929,867 1931,870 1933,875 1935,879 1936,883 1938,887 1939,890 1941,895 1935,895 1931,895 1927,895 1923,895 1919,895 1915,895 1911,895 1907,895 1903,895 1899,895 1895,895 1892,895 1891,893 1889,887 1888,883 1887,880 1885,875 1884,871 1882,867 1881,863 1879,859 1877,855 1876,851 1874,847 1872,843 1871,841 1868,835 1867,832 1865,827 1863,824 1861,819 1859,815 1857,811 1855,807 1853,803 1851,799 1849,795 1847,791 1845,787 1843,783 1841,779 1839,775 1837,771 1836,767 1834,763 1832,759 1831,757 1829,751 1827,747 1826,743 1824,739 1823,736 1821,731 1820,727 1819,723 1818,719 1818,715 1818,711 1818,707 1818,703 1819,699 1820,695 1822,691 1823,689 1826,683 1829,679 1831,676 1835,672 1839,667 1843,663 1847,659 1851,655 1855,652 1859,649 1861,647 1863,646 1867,643 1871,640 1875,637 1878,635 1883,631 1887,629 1889,627 1891,626 1894,623 1899,619 1903,615 1906,611 1908,607 1910,603 1911,599 1911,596 1911,593 1910,587 1909,583 1908,579 1906,575 1904,571 1901,567 1899,564 1895,559 1892,555 1889,551 1887,549 1885,547 1883,545 1879,540 1875,535 1871,531 1867,527 1864,523 1860,519 1856,515 1852,511 1848,507 1843,503 1839,499 1835,495 1831,492 1827,488 1823,485 1821,483 1819,481 1817,479 1815,477 1812,475 1808,471 1804,467 1799,463 1795,459 1791,456 1787,453 1785,451 1779,447 1775,444 1773,443 1771,442 1767,439 1763,436 1759,432 1755,429 1753,427 1751,425 1749,423 1747,420 1743,415 1740,411 1737,407 1735,403 1732,399 1731,397 1728,391 1725,387 1723,383 1721,379 1719,375 1718,371 1716,367 1714,363 1712,359 1711,356 1709,351 1707,347 1706,343 1704,339 1703,336 1701,331 1699,327 1698,323 1696,319 1694,315 1692,311 1691,309 1688,303 1687,300 1684,295 1683,292 1681,287 1679,283 1677,279 1676,275 1675,271 1675,267 1675,263 1676,259 1677,255 1678,251 1681,247 1683,244 1687,239 1691,235 1695,231 1699,227 1703,223 1707,220 1711,216 1715,211 1718,207 1721,203 1723,201 1726,195 1729,191 1730,187 1732,183 1734,179 1735,176 1737,171 1738,167 1739,164 1741,159 1742,155 1743,152 1745,147 1746,143 1748,139 1749,135 1751,131 1752,127 1754,123 1755,120 1757,115 1759,111 1760,107 1762,103 1764,99 1766,95 1767,93 1769,87 1771,84 1773,79 1775,75 1776,71 1778,67 1779,64 1781,59 1783,55 1784,51 1786,47 1787,43 1788,39 1790,35 1791,32 1793,27 1794,23 1795,20 1797,15 1798,11Z" fill="#6d6dff" stroke="#6d6dff" stroke-width="1.2" fill-rule="evenodd"/>
<path d="M1771,8 1775,7 1779,7 1783,7 1787,7 1791,7 1795,7 1799,7 1798,11 1797,15 1796,19 1794,23 1793,27 1791,31 1790,35 1788,39 1787,43 1786,47 1784,51 1783,54 1781,59 1780,63 1778,67 1776,71 1775,74 1773,79 1771,83 1769,87 1768,91 1766,95 1764,99 1763,101 1760,107 1759,110 1757,115 1755,119 1754,123 1752,127 1751,130 1749,135 1748,139 1746,143 1745,147 1743,151 1742,155 1741,159 1739,163 1738,167 1737,171 1735,175 1734,179 1732,183 1731,186 1729,191 1727,194 1724,199 1721,203 1719,206 1715,211 1712,215 1708,219 1703,223 1699,227 1695,231 1691,235 1687,239 1684,243 1681,247 1679,250 1677,255 1676,259 1675,263 1675,267 1675,271 1676,275 1677,279 1679,283 1681,287 1683,291 1684,295 1686,299 1688,303 1690,307 1692,311 1694,315 1695,317 1698,323 1699,326 1701,331 1703,335 1704,339 1706,343 1707,346 1709,351 1711,355 1712,359 1714,363 1715,365 1718,371 1719,374 1721,379 1723,382 1725,387 1727,390 1730,395 1732,399 1735,403 1737,407 1739,410 1743,415 1746,419 1749,423 1751,425 1753,427 1755,429 1758,431 1762,435 1767,439 1771,442 1773,443 1775,444 1779,447 1783,450 1787,453 1790,455 1795,459 1799,463 1803,466 1807,470 1811,474 1815,477 1817,479 1819,481 1821,483 1823,485 1826,487 1830,491 1835,495 1839,499 1843,503 1847,506 1851,510 1855,514 1859,518 1863,522 1867,527 1871,531 1875,535 1878,539 1882,543 1885,547 1887,549 1889,551 1891,554 1895,559 1898,563 1901,567 1903,570 1906,575 1907,577 1909,583 1910,587 1911,591 1911,595 1911,599 1910,603 1908,607 1907,609 1903,615 1899,619 1895,623 1891,626 1889,627 1887,629 1884,631 1879,634 1875,637 1872,639 1867,643 1863,646 1861,647 1859,649 1856,651 1851,655 1847,659 1843,663 1839,667 1835,671 1832,675 1829,679 1827,682 1824,687 1822,691 1820,695 1819,698 1818,703 1818,707 1818,711 1818,715 1818,719 1819,722 1820,727 1821,731 1823,735 1824,739 1826,743 1827,747 1829,751 1830,755 1832,759 1834,763 1835,766 1837,771 1839,774 1841,779 1843,783 1845,787 1847,791 1849,795 1851,799 1853,803 1855,807 1857,811 1859,815 1861,819 1863,823 1865,827 1866,831 1868,835 1870,839 1872,843 1874,847 1875,850 1877,855 1879,859 1881,863 1882,867 1883,869 1885,875 1887,879 1888,883 1889,887 1891,891 1892,895 1887,895 1883,895 1879,895 1875,895 1871,895 1867,895 1863,895 1859,895 1855,895 1854,891 1853,887 1852,883 1851,879 1850,875 1849,871 1848,867 1847,863 1846,859 1845,855 1843,851 1842,847 1841,843 1839,839 1838,835 1837,831 1835,827 1834,823 1833,819 1831,815 1830,811 1828,807 1827,803 1825,799 1824,795 1823,792 1821,787 1820,783 1818,779 1817,775 1815,771 1814,767 1813,763 1811,759 1810,755 1809,751 1808,747 1806,743 1805,739 1804,735 1803,731 1802,727 1802,723 1801,719 1800,715 1800,711 1800,707 1800,703 1800,699 1801,695 1802,691 1804,687 1806,683 1807,680 1810,675 1811,672 1814,667 1816,663 1819,659 1821,655 1823,652 1827,647 1829,643 1831,640 1835,635 1837,631 1839,628 1843,623 1845,619 1847,616 1850,611 1851,608 1853,603 1855,599 1856,595 1857,591 1857,587 1857,583 1856,579 1856,575 1855,572 1853,567 1852,563 1850,559 1848,555 1846,551 1844,547 1841,543 1839,540 1836,535 1832,531 1831,529 1829,527 1827,524 1823,520 1819,515 1815,511 1811,507 1807,503 1803,499 1799,496 1795,492 1791,489 1789,487 1787,486 1784,483 1779,480 1775,477 1772,475 1767,472 1765,471 1759,468 1755,466 1751,464 1747,462 1743,460 1739,458 1735,456 1731,453 1727,451 1723,449 1720,447 1715,444 1711,441 1709,439 1707,438 1704,435 1700,431 1696,427 1695,425 1693,423 1691,420 1688,415 1685,411 1683,407 1681,403 1679,400 1676,395 1675,392 1673,387 1671,384 1669,379 1667,375 1665,371 1663,367 1661,363 1659,360 1656,355 1653,351 1651,348 1648,343 1645,339 1643,337 1641,335 1639,332 1635,328 1631,324 1627,320 1623,316 1619,311 1616,307 1615,305 1614,303 1612,299 1611,296 1610,291 1609,287 1608,283 1608,279 1607,275 1607,271 1608,267 1609,263 1610,259 1612,255 1614,251 1617,247 1619,245 1620,243 1623,240 1627,236 1631,233 1633,231 1635,229 1638,227 1643,223 1647,220 1649,219 1651,218 1655,215 1659,212 1663,208 1665,207 1667,205 1670,203 1674,199 1678,195 1681,191 1683,189 1686,183 1688,179 1689,175 1690,171 1691,167 1692,163 1693,159 1694,155 1696,151 1697,147 1698,143 1699,140 1701,135 1703,131 1704,127 1706,123 1708,119 1710,115 1712,111 1715,107 1717,103 1719,100 1723,95 1725,91 1727,89 1731,83 1734,79 1737,75 1739,72 1742,67 1745,63 1747,60 1750,55 1751,53 1752,51 1754,47 1756,43 1758,39 1760,35 1762,31 1763,28 1765,23 1767,19 1768,15 1770,11 1771,8Z" fill="#8080ff" stroke="#8080ff" stroke-width="1.2" fill-rule="evenodd"/>
<path d="M1743,7 1747,7 1751,7 1755,7 1759,7 1763,7 1767,7 1771,7 1770,11 1768,15 1767,19 1765,23 1764,27 1762,31 1760,35 1759,37 1756,43 1755,46 1752,51 1751,53 1750,55 1747,59 1745,63 1743,66 1740,71 1737,75 1735,78 1731,83 1728,87 1725,91 1723,94 1720,99 1717,103 1715,107 1712,111 1711,114 1708,119 1707,121 1704,127 1703,130 1701,135 1699,139 1698,143 1697,147 1696,151 1694,155 1693,159 1692,163 1691,167 1690,171 1689,175 1688,179 1686,183 1684,187 1681,191 1679,194 1675,198 1671,202 1667,205 1665,207 1663,208 1660,211 1655,215 1651,218 1649,219 1647,220 1643,223 1639,226 1635,229 1633,231 1631,233 1628,235 1624,239 1620,243 1619,245 1617,247 1615,250 1612,255 1611,257 1609,263 1608,267 1607,271 1607,275 1608,279 1608,283 1609,287 1610,291 1611,295 1612,299 1614,303 1615,305 1616,307 1619,311 1623,315 1626,319 1630,323 1634,327 1638,331 1641,335 1643,337 1645,339 1647,342 1651,347 1653,351 1655,354 1658,359 1661,363 1663,367 1665,371 1667,375 1669,379 1671,383 1673,387 1675,391 1676,395 1679,399 1681,403 1683,407 1685,411 1687,414 1690,419 1693,423 1695,425 1696,427 1699,430 1703,434 1707,438 1709,439 1711,441 1714,443 1719,446 1723,449 1727,451 1731,453 1734,455 1739,458 1741,459 1747,462 1749,463 1755,466 1757,467 1763,470 1767,472 1771,475 1775,477 1778,479 1783,483 1787,486 1789,487 1791,489 1794,491 1798,495 1803,499 1807,503 1811,507 1815,511 1819,515 1822,519 1826,523 1829,527 1831,529 1832,531 1835,534 1838,539 1841,543 1843,546 1846,551 1847,553 1850,559 1851,561 1853,567 1855,571 1856,575 1856,579 1857,583 1857,587 1857,591 1856,595 1855,598 1853,603 1852,607 1850,611 1847,615 1845,619 1843,622 1840,627 1837,631 1835,634 1832,639 1829,643 1827,646 1824,651 1821,655 1819,659 1816,663 1815,665 1812,671 1810,675 1808,679 1806,683 1804,687 1803,689 1801,695 1800,699 1800,703 1800,707 1800,711 1800,715 1801,719 1802,723 1802,727 1803,730 1804,735 1805,739 1806,743 1808,747 1809,751 1810,755 1811,758 1813,763 1814,767 1815,770 1817,775 1818,779 1819,781 1821,787 1823,791 1824,795 1825,799 1827,803 1828,807 1830,811 1831,814 1833,819 1834,823 1835,826 1837,831 1838,835 1839,838 1841,843 1842,847 1843,850 1845,855 1846,859 1847,863 1848,867 1849,871 1850,875 1851,879 1852,883 1853,887 1854,891 1855,895 1851,895 1847,895 1843,895 1839,895 1835,895 1831,895 1827,895 1824,891 1823,887 1823,883 1822,879 1822,875 1821,871 1821,867 1820,863 1819,859 1819,855 1818,851 1817,847 1816,843 1815,839 1814,835 1814,831 1813,827 1812,823 1811,820 1810,815 1809,811 1808,807 1807,804 1806,799 1805,795 1804,791 1803,787 1801,783 1800,779 1799,775 1798,771 1797,767 1796,763 1795,759 1795,755 1794,751 1793,747 1792,743 1791,739 1791,735 1790,731 1789,727 1789,723 1788,719 1788,715 1788,711 1788,707 1788,703 1789,699 1789,695 1790,691 1791,687 1792,683 1794,679 1795,675 1797,671 1798,667 1800,663 1802,659 1803,656 1805,651 1807,647 1809,643 1810,639 1812,635 1814,631 1815,628 1817,623 1818,619 1819,616 1821,611 1822,607 1822,603 1823,599 1824,595 1824,591 1824,587 1824,583 1823,579 1822,575 1822,571 1820,567 1819,563 1817,559 1816,555 1814,551 1811,547 1809,543 1807,540 1803,535 1800,531 1797,527 1795,525 1793,523 1791,521 1789,519 1787,517 1785,515 1783,513 1780,511 1775,507 1771,504 1767,501 1763,499 1759,496 1757,495 1751,492 1749,491 1743,488 1740,487 1735,485 1731,483 1727,482 1723,480 1720,479 1715,477 1711,476 1708,475 1703,473 1699,472 1696,471 1691,469 1687,467 1683,466 1679,463 1675,461 1673,459 1671,457 1668,455 1664,451 1660,447 1656,443 1655,441 1653,439 1651,436 1648,431 1646,427 1644,423 1642,419 1640,415 1639,413 1637,407 1635,403 1633,399 1631,395 1629,391 1627,387 1624,383 1621,379 1619,377 1617,375 1615,373 1612,371 1607,367 1603,365 1599,363 1595,362 1591,360 1588,359 1583,357 1579,356 1575,354 1571,352 1568,351 1563,348 1559,345 1557,343 1555,341 1553,339 1551,335 1550,331 1549,327 1548,323 1548,319 1548,315 1548,311 1548,307 1548,303 1549,299 1549,295 1549,291 1549,287 1550,283 1550,279 1551,275 1552,271 1553,267 1554,263 1556,259 1559,255 1561,251 1563,249 1564,247 1567,244 1571,240 1575,237 1577,235 1579,233 1582,231 1587,228 1591,225 1593,223 1599,219 1603,216 1607,213 1609,211 1611,209 1614,207 1618,203 1622,199 1625,195 1627,193 1629,191 1631,187 1633,183 1635,180 1637,175 1638,171 1639,168 1640,163 1641,159 1642,155 1643,152 1644,147 1646,143 1647,139 1649,135 1650,131 1653,127 1655,123 1657,119 1659,117 1663,111 1666,107 1669,103 1671,100 1675,95 1678,91 1682,87 1685,83 1687,81 1689,79 1691,77 1693,75 1695,72 1699,68 1703,64 1707,60 1711,56 1715,52 1719,47 1722,43 1725,39 1727,37 1731,31 1733,27 1735,23 1737,19 1739,15 1741,11 1742,7Z" fill="#9292ff" stroke="#9292ff" stroke-width="1.2" fill-rule="evenodd"/>
<path d="M1707,9 1708,7 1715,7 1719,7 1723,7 1727,7 1731,7 1735,7 1739,7 1742,7 1741,11 1739,15 1737,19 1735,23 1733,27 1731,31 1728,35 1725,39 1723,42 1719,47 1716,51 1712,55 1708,59 1704,63 1700,67 1696,71 1693,75 1691,77 1689,79 1687,81 1685,83 1683,85 1679,90 1675,95 1672,99 1669,103 1667,105 1663,111 1660,115 1657,119 1655,123 1653,127 1651,130 1649,135 1647,139 1646,143 1644,147 1643,151 1642,155 1641,159 1640,163 1639,167 1638,171 1637,175 1635,179 1633,183 1631,187 1629,191 1627,193 1625,195 1623,198 1619,202 1615,206 1611,209 1609,211 1607,213 1604,215 1599,219 1595,222 1591,225 1588,227 1583,230 1579,233 1577,235 1575,237 1572,239 1568,243 1564,247 1563,249 1561,251 1559,254 1556,259 1555,262 1553,267 1552,271 1551,274 1550,279 1550,283 1549,287 1549,291 1549,295 1549,299 1548,303 1548,307 1548,311 1548,315 1548,319 1548,323 1549,327 1550,331 1551,335 1553,339 1555,341 1557,343 1559,345 1561,347 1567,350 1571,352 1575,354 1579,356 1583,357 1587,359 1591,360 1595,362 1598,363 1603,365 1606,367 1611,370 1615,373 1617,375 1619,377 1621,379 1623,381 1627,387 1629,391 1631,394 1633,399 1635,403 1637,407 1638,411 1640,415 1642,419 1643,422 1646,427 1647,429 1650,435 1653,439 1655,441 1656,443 1659,446 1663,450 1667,454 1671,457 1673,459 1675,461 1678,463 1683,466 1686,467 1691,469 1695,471 1699,472 1703,473 1707,475 1711,476 1715,477 1719,479 1723,480 1727,482 1730,483 1735,485 1739,487 1743,488 1747,490 1751,492 1755,494 1759,496 1763,499 1767,501 1770,503 1775,507 1779,510 1783,513 1785,515 1787,517 1789,519 1791,521 1793,523 1795,525 1797,527 1799,530 1803,535 1806,539 1809,543 1811,546 1814,551 1815,554 1817,559 1819,563 1820,567 1822,571 1822,575 1823,578 1824,583 1824,587 1824,591 1824,595 1823,599 1822,603 1822,607 1821,611 1819,615 1818,619 1817,623 1815,627 1814,631 1812,635 1811,638 1809,643 1807,647 1805,651 1803,655 1802,659 1800,663 1799,665 1797,671 1795,675 1794,679 1792,683 1791,687 1790,691 1789,695 1789,699 1788,703 1788,707 1788,711 1788,715 1788,719 1789,723 1789,727 1790,731 1791,735 1791,738 1792,743 1793,747 1794,751 1795,755 1795,759 1796,763 1797,767 1798,771 1799,775 1800,779 1801,783 1803,787 1804,791 1805,795 1806,799 1807,803 1808,807 1809,811 1810,815 1811,819 1812,823 1813,827 1814,831 1814,835 1815,839 1816,843 1817,847 1818,851 1819,855 1819,859 1820,863 1821,867 1821,871 1822,875 1822,879 1823,883 1823,887 1824,891 1824,895 1819,895 1815,895 1811,895 1807,895 1803,895 1799,895 1798,891 1798,887 1798,883 1798,879 1797,875 1797,871 1797,867 1797,863 1797,859 1796,855 1796,851 1796,847 1795,843 1795,839 1794,835 1794,831 1793,827 1793,823 1792,819 1791,815 1791,812 1790,807 1790,803 1789,799 1788,795 1787,791 1787,788 1786,783 1785,779 1785,775 1784,771 1783,767 1783,763 1782,759 1782,755 1781,751 1780,747 1780,743 1779,739 1779,735 1779,731 1778,727 1778,723 1778,719 1778,715 1778,711 1778,707 1778,703 1779,699 1779,695 1780,691 1781,687 1782,683 1783,679 1784,675 1785,671 1786,667 1787,664 1789,659 1790,655 1791,651 1792,647 1794,643 1795,639 1796,635 1797,631 1798,627 1799,623 1800,619 1800,615 1801,611 1801,607 1801,603 1802,599 1801,595 1801,591 1801,587 1800,583 1799,579 1798,575 1797,571 1795,567 1794,563 1792,559 1790,555 1787,551 1784,547 1783,545 1781,543 1779,540 1775,536 1771,532 1767,528 1763,525 1761,523 1759,522 1755,519 1751,516 1749,515 1747,514 1743,512 1739,509 1735,508 1731,506 1727,504 1725,503 1719,501 1715,499 1711,498 1707,496 1703,495 1699,494 1695,493 1691,491 1687,490 1683,489 1679,487 1675,485 1671,484 1667,482 1663,480 1659,478 1655,476 1651,473 1647,471 1643,469 1640,467 1635,464 1631,461 1627,459 1623,456 1619,453 1615,451 1611,448 1607,445 1604,443 1599,440 1595,437 1591,436 1587,434 1583,433 1579,433 1575,433 1571,433 1567,433 1563,433 1559,432 1555,432 1551,432 1547,431 1543,430 1539,429 1535,428 1531,426 1527,424 1525,423 1519,419 1515,416 1511,412 1507,408 1504,403 1502,399 1500,395 1499,392 1498,387 1497,383 1496,379 1496,375 1496,371 1496,367 1496,363 1496,359 1496,355 1496,351 1496,347 1496,343 1496,339 1497,335 1497,331 1498,327 1498,323 1499,319 1499,315 1500,311 1501,307 1501,303 1502,299 1502,295 1503,291 1503,288 1504,283 1505,279 1506,275 1507,273 1509,267 1511,264 1514,259 1517,255 1519,252 1523,247 1527,243 1531,239 1535,236 1539,233 1541,231 1543,229 1546,227 1551,223 1555,220 1559,217 1562,215 1567,211 1571,207 1575,204 1579,200 1583,195 1587,191 1589,187 1591,184 1593,179 1595,175 1596,171 1597,167 1599,163 1599,159 1600,155 1601,151 1603,147 1604,143 1605,139 1607,135 1609,131 1611,127 1613,123 1615,120 1618,115 1621,111 1623,107 1626,103 1629,99 1631,96 1635,91 1638,87 1641,83 1643,81 1645,79 1647,76 1651,71 1655,67 1659,63 1662,59 1666,55 1670,51 1674,47 1679,43 1683,39 1687,35 1691,31 1694,27 1698,23 1701,19 1703,16 1706,11Z" fill="#a4a4ff" stroke="#a4a4ff" stroke-width="1.2" fill-rule="evenodd"/>
<path d="M1659,10 1662,7 1667,7 1671,7 1675,7 1679,7 1683,7 1687,7 1691,7 1695,7 1699,7 1703,7 1707,7 1706,11 1704,15 1701,19 1699,21 1695,26 1691,31 1687,35 1683,39 1679,43 1675,47 1671,50 1667,54 1663,58 1659,62 1655,67 1651,71 1648,75 1645,79 1643,81 1641,83 1639,86 1635,91 1632,95 1629,99 1627,102 1623,107 1621,111 1619,113 1615,119 1613,123 1611,127 1609,131 1607,135 1605,139 1604,143 1603,145 1601,151 1600,155 1599,159 1599,163 1597,167 1596,171 1595,175 1593,179 1592,183 1589,187 1587,190 1583,195 1580,199 1576,203 1571,207 1567,211 1563,214 1559,217 1557,219 1551,223 1547,226 1543,229 1541,231 1539,233 1536,235 1531,239 1527,243 1523,247 1520,251 1517,255 1515,258 1512,263 1509,267 1508,271 1506,275 1505,279 1504,283 1503,287 1503,291 1502,295 1502,299 1501,303 1501,307 1500,311 1499,315 1499,318 1498,323 1498,327 1497,331 1497,335 1496,339 1496,343 1496,347 1496,351 1496,355 1496,359 1496,363 1496,367 1496,371 1496,375 1496,379 1497,383 1498,387 1499,391 1500,395 1502,399 1503,402 1506,407 1510,411 1514,415 1518,419 1523,422 1527,424 1531,426 1533,427 1539,429 1543,430 1547,431 1551,432 1555,432 1559,432 1563,433 1567,433 1571,433 1575,433 1579,433 1583,433 1587,434 1589,435 1595,437 1598,439 1603,442 1607,445 1610,447 1615,451 1619,453 1621,455 1627,459 1631,461 1633,463 1639,466 1643,469 1647,471 1651,473 1654,475 1659,478 1661,479 1667,482 1669,483 1675,485 1679,487 1683,489 1687,490 1690,491 1695,493 1699,494 1703,495 1707,496 1711,498 1714,499 1719,501 1723,502 1727,504 1731,506 1734,507 1739,509 1742,511 1747,514 1749,515 1751,516 1755,519 1759,522 1761,523 1763,525 1766,527 1770,531 1774,535 1778,539 1781,543 1783,545 1784,547 1787,551 1790,555 1791,558 1794,563 1795,566 1797,571 1798,575 1799,578 1800,583 1801,587 1801,591 1801,595 1802,599 1801,603 1801,607 1801,611 1800,615 1800,619 1799,622 1798,627 1797,631 1796,635 1795,638 1794,643 1792,647 1791,651 1790,655 1789,659 1787,663 1786,667 1785,671 1784,675 1783,678 1782,683 1781,687 1780,691 1779,695 1779,699 1778,703 1778,707 1778,711 1778,715 1778,719 1778,723 1778,727 1779,731 1779,735 1779,739 1780,743 1780,747 1781,751 1782,755 1782,759 1783,763 1783,767 1784,771 1785,775 1785,779 1786,783 1787,787 1787,791 1788,795 1789,799 1790,803 1790,807 1791,811 1791,815 1792,819 1793,823 1793,827 1794,831 1794,835 1795,839 1795,842 1796,847 1796,851 1796,855 1797,859 1797,863 1797,867 1797,871 1797,875 1798,879 1798,883 1798,887 1798,891 1798,895 1791,895 1787,895 1783,895 1779,895 1775,895 1773,891 1774,887 1774,883 1775,879 1775,875 1775,871 1776,867 1776,863 1776,859 1776,855 1776,851 1776,847 1776,843 1776,839 1776,835 1776,831 1776,827 1775,823 1775,819 1775,815 1775,811 1774,807 1774,803 1774,799 1773,795 1773,791 1773,787 1772,783 1772,779 1771,775 1771,771 1771,767 1770,763 1770,759 1770,755 1769,751 1769,747 1769,743 1769,739 1768,735 1768,731 1768,727 1768,723 1768,719 1768,715 1769,711 1769,707 1769,703 1770,699 1770,695 1771,691 1771,687 1772,683 1773,679 1774,675 1775,671 1776,667 1777,663 1777,659 1778,655 1779,652 1780,647 1781,643 1782,639 1782,635 1783,632 1784,627 1784,623 1784,619 1785,615 1785,611 1785,607 1784,603 1784,599 1784,595 1783,592 1782,587 1781,583 1780,579 1778,575 1776,571 1775,569 1772,563 1769,559 1767,556 1763,551 1759,547 1755,543 1751,539 1747,536 1743,533 1740,531 1735,528 1731,526 1727,523 1723,522 1719,520 1715,518 1711,516 1708,515 1703,513 1699,512 1695,510 1691,509 1687,508 1683,506 1679,505 1675,503 1671,502 1667,501 1663,499 1659,497 1655,496 1651,494 1647,492 1644,491 1639,489 1635,487 1631,486 1627,484 1624,483 1619,481 1615,479 1611,478 1607,476 1603,475 1599,474 1595,473 1591,472 1587,472 1583,471 1579,471 1575,471 1571,470 1567,470 1563,470 1559,470 1555,469 1551,468 1547,467 1543,466 1539,466 1535,465 1531,464 1527,463 1524,463 1519,462 1515,461 1511,460 1507,459 1503,458 1499,456 1497,455 1491,452 1487,449 1484,447 1479,444 1475,441 1472,439 1467,435 1463,432 1459,429 1456,427 1451,423 1447,420 1443,417 1441,415 1439,413 1436,411 1435,409 1433,407 1431,405 1428,399 1427,395 1427,391 1429,387 1430,383 1432,379 1434,375 1437,371 1439,367 1441,363 1443,360 1446,355 1449,351 1451,348 1454,343 1455,340 1457,335 1458,331 1459,328 1460,323 1461,319 1462,315 1462,311 1463,307 1463,303 1463,300 1463,295 1464,291 1464,287 1464,283 1465,279 1466,275 1467,273 1469,267 1471,264 1474,259 1478,255 1482,251 1487,247 1491,243 1495,240 1499,237 1501,235 1503,233 1506,231 1511,227 1515,224 1519,220 1521,219 1523,217 1526,215 1531,211 1535,208 1539,205 1541,203 1543,201 1545,199 1547,196 1551,191 1554,187 1555,185 1558,179 1559,176 1561,171 1562,167 1563,163 1564,159 1564,155 1565,151 1566,147 1566,143 1567,139 1569,135 1570,131 1571,128 1573,123 1575,120 1578,115 1581,111 1583,108 1587,103 1590,99 1593,95 1595,92 1599,87 1602,83 1605,79 1607,77 1608,75 1611,72 1614,67 1617,63 1619,61 1620,59 1623,55 1626,51 1629,47 1631,43 1634,39 1637,35 1639,32 1643,27 1647,23 1651,19 1654,15 1658,11Z" fill="#b6b6ff" stroke="#b6b6ff" stroke-width="1.2" fill-rule="evenodd"/>
<path d="M1615,11 1617,7 1623,7 1627,7 1631,7 1635,7 1639,7 1643,7 1647,7 1651,7 1655,7 1659,7 1659,10 1655,14 1651,19 1647,23 1643,27 1640,31 1637,35 1635,37 1631,43 1629,47 1627,49 1623,55 1620,59 1619,61 1617,63 1615,66 1611,71 1608,75 1607,77 1605,79 1603,82 1599,87 1596,91 1593,95 1591,97 1587,103 1583,107 1581,111 1579,113 1575,119 1573,123 1571,127 1570,131 1569,135 1567,139 1566,143 1566,147 1565,151 1564,155 1564,159 1563,162 1562,167 1561,171 1559,175 1558,179 1556,183 1554,187 1551,191 1548,195 1545,199 1543,201 1541,203 1539,205 1536,207 1531,211 1527,214 1523,217 1521,219 1519,220 1516,223 1511,227 1507,230 1503,233 1501,235 1499,237 1496,239 1491,243 1487,247 1483,250 1479,254 1475,258 1472,263 1469,267 1468,271 1466,275 1465,279 1464,283 1464,287 1464,291 1463,295 1463,299 1463,303 1463,307 1462,311 1462,315 1461,319 1460,323 1459,327 1458,331 1457,335 1456,339 1454,343 1452,347 1449,351 1447,354 1444,359 1441,363 1439,367 1437,371 1435,374 1432,379 1431,382 1429,387 1427,391 1427,395 1428,399 1430,403 1433,407 1435,409 1436,411 1439,413 1441,415 1443,417 1446,419 1451,423 1455,426 1459,429 1462,431 1467,435 1471,438 1475,441 1478,443 1483,446 1487,449 1490,451 1495,454 1499,456 1503,458 1506,459 1511,460 1515,461 1519,462 1523,463 1527,463 1531,464 1535,465 1539,466 1543,466 1547,467 1551,468 1555,469 1559,470 1563,470 1567,470 1571,470 1575,471 1579,471 1583,471 1587,472 1591,472 1595,473 1599,474 1602,475 1607,476 1611,478 1614,479 1619,481 1623,482 1627,484 1631,486 1634,487 1639,489 1643,491 1647,492 1651,494 1655,496 1659,497 1663,499 1667,501 1671,502 1674,503 1679,505 1683,506 1685,507 1691,509 1695,510 1699,512 1703,513 1707,515 1711,516 1715,518 1718,519 1723,522 1726,523 1731,526 1733,527 1739,530 1743,533 1746,535 1751,539 1755,543 1759,547 1763,551 1766,555 1769,559 1771,562 1774,567 1776,571 1778,575 1779,578 1781,583 1782,587 1783,591 1784,595 1784,599 1784,603 1785,607 1785,611 1785,615 1784,619 1784,623 1784,627 1783,631 1782,635 1782,639 1781,643 1780,647 1779,651 1778,655 1777,659 1777,663 1776,667 1775,669 1774,675 1773,679 1772,683 1771,687 1771,691 1770,695 1770,699 1769,703 1769,707 1769,711 1768,715 1768,719 1768,723 1768,727 1768,731 1768,735 1769,739 1769,743 1769,747 1769,751 1770,755 1770,759 1770,763 1771,767 1771,770 1771,775 1772,779 1772,783 1773,787 1773,791 1773,795 1774,799 1774,803 1774,807 1775,811 1775,815 1775,819 1775,823 1776,827 1776,831 1776,835 1776,839 1776,843 1776,847 1776,851 1776,855 1776,859 1776,863 1776,867 1775,871 1775,875 1775,879 1774,883 1774,887 1773,891 1773,895 1767,895 1763,895 1759,895 1755,895 1751,895 1750,891 1751,887 1752,883 1752,879 1753,875 1754,871 1755,867 1755,863 1756,859 1756,855 1757,851 1757,847 1758,843 1758,839 1758,835 1759,831 1759,827 1759,823 1759,819 1759,815 1759,811 1759,807 1759,803 1759,799 1759,795 1759,791 1759,787 1759,783 1759,779 1759,775 1759,771 1759,767 1759,763 1759,759 1759,755 1759,751 1759,747 1758,743 1759,739 1759,735 1759,731 1759,727 1759,723 1759,719 1759,715 1760,711 1760,707 1760,703 1761,699 1761,695 1762,691 1763,687 1763,684 1764,679 1765,675 1765,671 1766,667 1767,663 1767,659 1768,655 1769,651 1769,647 1770,643 1770,639 1771,635 1771,631 1771,627 1771,623 1771,619 1771,615 1771,611 1770,607 1770,603 1769,599 1768,595 1767,592 1765,587 1764,583 1762,579 1760,575 1757,571 1755,568 1751,563 1748,559 1744,555 1739,551 1735,548 1731,545 1729,543 1723,540 1719,537 1715,535 1711,533 1707,531 1703,530 1699,528 1696,527 1691,525 1687,524 1683,522 1679,521 1675,520 1671,518 1667,517 1663,516 1659,514 1655,513 1651,511 1647,510 1643,509 1639,507 1635,506 1631,504 1628,503 1623,501 1619,500 1615,498 1611,497 1607,496 1603,494 1599,493 1595,492 1591,491 1587,490 1583,489 1579,489 1575,488 1571,487 1567,487 1563,486 1559,486 1555,485 1551,485 1547,484 1543,484 1539,484 1535,483 1532,483 1527,483 1523,482 1519,482 1515,482 1511,482 1507,481 1503,481 1499,480 1496,479 1491,477 1487,476 1483,474 1479,472 1475,470 1471,468 1467,466 1463,464 1459,462 1455,460 1453,459 1447,457 1443,455 1439,454 1435,452 1431,451 1427,450 1423,448 1419,447 1415,446 1411,445 1407,443 1403,442 1399,440 1395,439 1391,437 1387,435 1383,433 1379,431 1375,429 1373,427 1367,423 1363,420 1359,416 1355,411 1352,407 1351,405 1349,399 1348,395 1348,391 1349,387 1351,384 1355,379 1359,376 1363,374 1367,371 1371,369 1375,368 1379,366 1383,364 1386,363 1391,361 1394,359 1399,356 1403,352 1407,348 1410,343 1413,339 1415,335 1417,331 1418,327 1419,325 1421,319 1422,315 1423,311 1424,307 1424,303 1425,299 1425,295 1426,291 1426,287 1427,283 1428,279 1429,275 1430,271 1432,267 1434,263 1435,261 1436,259 1439,256 1443,252 1447,249 1450,247 1455,244 1459,241 1462,239 1467,236 1471,233 1474,231 1479,228 1483,224 1487,221 1489,219 1491,216 1495,212 1499,208 1503,205 1505,203 1507,201 1509,199 1511,197 1513,195 1515,193 1517,191 1519,189 1521,187 1523,183 1525,179 1527,175 1528,171 1530,167 1531,163 1531,159 1532,155 1533,151 1533,147 1534,143 1534,139 1535,135 1535,132 1536,127 1536,123 1537,119 1537,115 1538,111 1539,107 1540,103 1541,99 1542,95 1545,91 1547,88 1551,84 1555,80 1559,77 1561,75 1566,71 1571,67 1575,64 1579,60 1583,56 1587,52 1591,48 1595,44 1599,39 1602,35 1603,33 1604,31 1607,27 1609,23 1611,19 1613,15 1615,11Z" fill="#c8c8ff" stroke="#c8c8ff" stroke-width="1.2" fill-rule="evenodd"/>
<path d="M1575,11 1578,7 1583,7 1587,7 1591,7 1595,7 1599,7 1603,7 1607,7 1611,7 1615,7 1615,11 1613,15 1611,19 1609,23 1607,26 1604,31 1603,33 1602,35 1599,39 1596,43 1592,47 1588,51 1584,55 1580,59 1576,63 1571,67 1567,70 1563,74 1559,77 1556,79 1552,83 1548,87 1545,91 1543,94 1541,99 1540,103 1539,106 1538,111 1537,115 1537,119 1536,123 1536,127 1535,131 1535,135 1534,139 1534,143 1533,147 1533,151 1532,155 1531,159 1531,163 1530,167 1528,171 1527,175 1525,179 1523,183 1521,187 1519,189 1517,191 1515,193 1513,195 1511,197 1509,199 1507,201 1505,203 1503,205 1500,207 1496,211 1492,215 1489,219 1487,221 1484,223 1480,227 1475,231 1471,233 1468,235 1463,238 1459,241 1456,243 1451,246 1447,249 1444,251 1440,255 1436,259 1435,261 1434,263 1432,267 1430,271 1429,275 1428,279 1427,283 1426,287 1426,291 1425,295 1425,299 1424,303 1424,307 1423,310 1422,315 1421,319 1420,323 1418,327 1417,331 1415,334 1413,339 1411,342 1408,347 1404,351 1400,355 1395,359 1391,361 1387,363 1383,364 1379,366 1376,367 1371,369 1368,371 1363,374 1361,375 1355,379 1352,383 1349,387 1348,391 1348,395 1349,399 1350,403 1352,407 1355,411 1358,415 1362,419 1367,423 1371,426 1375,429 1379,431 1383,433 1386,435 1391,437 1395,439 1399,440 1403,442 1406,443 1411,445 1415,446 1418,447 1423,448 1427,450 1431,451 1435,452 1439,454 1443,455 1447,457 1451,458 1455,460 1459,462 1461,463 1467,466 1469,467 1475,470 1477,471 1483,474 1486,475 1491,477 1495,479 1499,480 1503,481 1507,481 1511,482 1515,482 1519,482 1523,482 1527,483 1531,483 1535,483 1539,484 1543,484 1547,484 1551,485 1555,485 1559,486 1563,486 1567,487 1571,487 1575,488 1579,489 1583,489 1587,490 1591,491 1595,492 1599,493 1603,494 1605,495 1611,497 1615,498 1617,499 1623,501 1627,503 1631,504 1635,506 1639,507 1643,509 1647,510 1650,511 1655,513 1659,514 1661,515 1667,517 1671,518 1675,520 1679,521 1683,522 1687,524 1691,525 1695,527 1699,528 1703,530 1706,531 1711,533 1715,535 1719,537 1722,539 1727,542 1731,545 1734,547 1739,551 1743,554 1747,558 1751,563 1754,567 1757,571 1759,574 1762,579 1763,582 1765,587 1767,591 1768,595 1769,599 1770,603 1770,607 1771,611 1771,615 1771,619 1771,623 1771,627 1771,630 1771,635 1770,639 1770,643 1769,647 1769,651 1768,655 1767,659 1767,663 1766,667 1765,671 1765,675 1764,679 1763,683 1763,687 1762,691 1761,695 1761,699 1760,703 1760,707 1760,711 1759,715 1759,719 1759,723 1759,727 1759,731 1759,735 1759,739 1758,743 1759,747 1759,751 1759,755 1759,759 1759,763 1759,767 1759,771 1759,774 1759,779 1759,783 1759,787 1759,791 1759,795 1759,799 1759,803 1759,807 1759,811 1759,815 1759,819 1759,823 1759,827 1759,831 1758,835 1758,839 1758,843 1757,847 1757,851 1756,855 1756,859 1755,863 1755,867 1754,871 1753,875 1752,879 1752,883 1751,886 1750,891 1749,895 1743,895 1739,895 1735,895 1731,895 1727,895 1723,895 1725,891 1727,887 1728,883 1730,879 1731,875 1732,871 1734,867 1735,863 1736,859 1737,855 1738,851 1739,847 1740,843 1740,839 1741,835 1742,831 1742,827 1743,823 1744,819 1744,815 1744,811 1745,807 1745,803 1746,799 1746,795 1746,791 1746,787 1747,783 1747,779 1747,775 1747,771 1747,767 1747,763 1748,759 1748,755 1748,751 1748,747 1748,743 1749,739 1749,735 1749,731 1749,727 1750,723 1750,719 1750,715 1751,711 1751,707 1752,703 1752,699 1753,695 1753,691 1754,687 1755,683 1755,680 1756,675 1756,671 1757,667 1757,663 1758,659 1758,655 1759,651 1759,647 1759,643 1760,639 1760,635 1760,631 1760,627 1759,623 1759,619 1758,615 1758,611 1757,607 1756,603 1755,600 1753,595 1751,591 1749,587 1747,583 1745,579 1743,577 1742,575 1739,572 1735,567 1731,564 1727,560 1723,557 1720,555 1715,552 1711,550 1707,547 1703,546 1699,544 1695,542 1691,540 1687,539 1683,538 1679,536 1675,535 1671,534 1667,532 1663,531 1659,530 1655,529 1651,528 1647,526 1643,525 1639,524 1636,523 1631,521 1627,520 1624,519 1619,517 1615,516 1611,514 1607,513 1603,512 1599,510 1595,509 1591,508 1588,507 1583,506 1579,505 1575,504 1571,503 1567,502 1563,501 1559,500 1555,499 1551,499 1547,499 1543,499 1539,499 1535,499 1531,499 1527,499 1523,499 1519,500 1515,500 1511,500 1507,499 1503,499 1499,498 1495,498 1491,497 1487,496 1483,494 1479,493 1475,491 1471,490 1467,488 1463,486 1459,485 1455,483 1451,482 1447,481 1443,480 1439,479 1435,478 1431,477 1427,476 1423,476 1419,475 1415,474 1411,474 1407,473 1403,472 1399,471 1395,470 1391,469 1387,468 1385,467 1379,465 1375,463 1371,462 1367,460 1363,458 1359,456 1355,454 1351,451 1347,449 1344,447 1339,444 1335,441 1332,439 1327,435 1323,431 1319,428 1315,425 1312,423 1307,419 1303,417 1299,415 1295,414 1291,412 1287,410 1283,407 1281,403 1279,399 1279,395 1278,391 1278,387 1277,383 1277,379 1277,375 1277,371 1278,367 1279,365 1283,359 1287,355 1291,353 1294,351 1299,349 1303,347 1307,347 1311,346 1315,346 1319,346 1323,345 1327,345 1331,345 1335,344 1339,344 1343,343 1347,342 1351,342 1355,341 1359,340 1363,338 1367,336 1369,335 1371,333 1373,331 1375,328 1377,323 1379,319 1380,315 1381,311 1382,307 1384,303 1385,299 1386,295 1387,291 1388,287 1389,283 1390,279 1391,276 1393,271 1395,267 1397,263 1399,260 1403,255 1407,251 1411,248 1415,245 1417,243 1423,239 1427,237 1431,235 1435,233 1439,231 1443,229 1446,227 1451,224 1454,223 1459,220 1461,219 1467,215 1471,212 1474,207 1475,203 1475,199 1476,195 1478,191 1479,189 1481,187 1483,185 1485,183 1490,179 1493,175 1495,171 1496,167 1496,163 1496,159 1495,156 1494,151 1493,147 1493,143 1493,139 1493,135 1493,131 1494,127 1494,123 1495,120 1496,115 1496,111 1497,107 1498,103 1498,99 1499,95 1500,91 1501,87 1502,83 1503,81 1505,75 1507,72 1510,67 1513,63 1515,60 1519,56 1523,52 1527,48 1531,45 1534,43 1539,39 1543,37 1545,35 1551,31 1555,28 1557,27 1559,26 1562,23 1567,19 1571,15 1575,11Z" fill="#dbdbff" stroke="#dbdbff" stroke-width="1.2" fill-rule="evenodd"/>
<path d="M1471,11 1475,8 1479,7 1483,7 1487,7 1491,7 1495,7 1499,7 1503,7 1507,7 1511,7 1515,7 1519,7 1523,7 1527,7 1531,7 1535,7 1539,7 1543,7 1547,7 1551,7 1555,7 1559,7 1563,7 1567,7 1571,7 1575,7 1575,11 1571,15 1567,19 1563,23 1559,26 1557,27 1555,28 1551,31 1547,34 1543,37 1539,39 1535,42 1531,45 1529,47 1524,51 1520,55 1516,59 1513,63 1511,66 1508,71 1505,75 1504,79 1502,83 1501,87 1500,91 1499,95 1498,99 1498,103 1497,107 1496,111 1496,115 1495,119 1494,123 1494,127 1493,131 1493,135 1493,139 1493,143 1493,147 1494,151 1495,155 1496,159 1496,163 1496,167 1495,170 1493,175 1491,177 1487,182 1483,185 1481,187 1479,189 1478,191 1476,195 1475,199 1475,203 1474,207 1471,211 1467,215 1463,218 1459,220 1455,222 1451,224 1447,227 1443,229 1439,231 1435,233 1431,235 1427,237 1424,239 1419,242 1415,245 1412,247 1407,251 1403,255 1400,259 1397,263 1395,266 1393,271 1391,275 1390,279 1389,283 1388,287 1387,290 1386,295 1385,299 1384,303 1382,307 1381,311 1380,315 1379,319 1377,323 1376,327 1373,331 1371,333 1369,335 1367,336 1363,338 1359,340 1355,341 1351,342 1347,342 1344,343 1339,344 1335,344 1331,345 1327,345 1323,345 1319,346 1315,346 1311,346 1307,347 1303,347 1299,349 1295,350 1291,353 1287,355 1283,359 1280,363 1278,367 1277,371 1277,375 1277,379 1277,383 1278,387 1278,391 1279,395 1279,399 1281,403 1283,407 1287,410 1289,411 1295,414 1298,415 1303,417 1306,419 1311,422 1315,425 1318,427 1322,431 1327,435 1331,438 1335,441 1338,443 1343,446 1347,449 1350,451 1355,454 1358,455 1363,458 1366,459 1371,462 1374,463 1379,465 1383,466 1387,468 1391,469 1395,470 1398,471 1403,472 1407,473 1411,474 1415,474 1419,475 1423,476 1427,476 1431,477 1435,478 1439,479 1443,480 1447,481 1451,482 1455,483 1459,485 1463,486 1467,488 1471,490 1474,491 1479,493 1483,494 1487,496 1491,497 1495,498 1499,498 1503,499 1507,499 1511,500 1515,500 1519,500 1523,499 1527,499 1531,499 1535,499 1539,499 1543,499 1547,499 1551,499 1555,499 1559,500 1563,501 1567,502 1571,503 1575,504 1579,505 1583,506 1587,507 1591,508 1595,509 1599,510 1603,512 1607,513 1611,514 1615,516 1619,517 1623,519 1627,520 1631,521 1635,523 1639,524 1643,525 1647,526 1651,528 1655,529 1659,530 1662,531 1667,532 1671,534 1675,535 1679,536 1683,538 1687,539 1691,540 1695,542 1697,543 1703,546 1706,547 1711,550 1713,551 1719,554 1723,557 1725,559 1730,563 1735,567 1738,571 1742,575 1743,577 1745,579 1747,583 1749,587 1751,590 1753,595 1755,599 1756,603 1757,607 1758,611 1758,615 1759,619 1759,623 1760,627 1760,631 1760,635 1760,639 1759,643 1759,647 1759,651 1758,655 1758,659 1757,663 1757,667 1756,671 1756,675 1755,679 1755,683 1754,687 1753,691 1753,695 1752,699 1752,703 1751,707 1751,710 1750,715 1750,719 1750,723 1749,727 1749,731 1749,735 1749,739 1748,743 1748,747 1748,751 1748,755 1748,759 1747,763 1747,767 1747,771 1747,775 1747,779 1747,783 1746,787 1746,791 1746,795 1746,799 1745,803 1745,807 1744,811 1744,815 1744,819 1743,823 1742,827 1742,831 1741,835 1740,839 1740,843 1739,846 1738,851 1737,855 1736,859 1735,862 1734,867 1732,871 1731,875 1730,879 1728,883 1727,886 1725,891 1723,895 1719,895 1715,895 1711,895 1707,895 1703,895 1699,895 1695,895 1698,891 1699,889 1700,887 1703,883 1705,879 1707,875 1709,871 1711,867 1713,863 1715,859 1716,855 1718,851 1719,848 1721,843 1722,839 1723,836 1725,831 1726,827 1727,823 1728,819 1729,815 1729,811 1730,807 1731,803 1732,799 1732,795 1733,791 1733,787 1734,783 1734,779 1735,775 1735,771 1736,767 1736,763 1736,759 1737,755 1737,751 1738,747 1738,743 1739,739 1739,736 1740,731 1740,727 1741,723 1741,719 1742,715 1742,711 1743,707 1743,703 1744,699 1744,695 1745,691 1746,687 1746,683 1747,679 1747,676 1748,671 1748,667 1749,663 1749,659 1749,655 1749,651 1750,647 1750,643 1750,639 1749,635 1749,631 1749,627 1748,623 1747,619 1746,615 1745,611 1744,607 1743,604 1741,599 1739,596 1736,591 1735,589 1734,587 1731,584 1727,579 1723,575 1719,571 1715,568 1713,567 1711,566 1707,563 1703,561 1699,559 1695,557 1691,555 1687,554 1683,552 1679,551 1675,550 1671,549 1667,547 1663,546 1659,545 1655,544 1651,544 1649,543 1643,542 1639,541 1635,540 1631,539 1627,538 1623,537 1619,536 1616,535 1611,533 1607,532 1603,531 1599,530 1595,529 1591,528 1587,526 1583,525 1579,524 1576,523 1571,521 1567,520 1565,519 1559,517 1555,516 1551,515 1547,515 1543,516 1539,516 1535,517 1531,518 1528,519 1523,520 1519,521 1515,521 1511,522 1507,522 1503,522 1499,522 1495,521 1491,521 1487,520 1483,518 1479,517 1475,516 1471,514 1467,512 1464,511 1459,509 1456,507 1451,505 1447,504 1443,504 1439,504 1435,503 1431,503 1427,503 1423,503 1419,503 1415,503 1411,503 1407,503 1404,503 1399,503 1395,502 1391,502 1387,501 1383,500 1379,499 1375,498 1371,497 1367,496 1363,494 1359,493 1355,491 1351,490 1347,488 1343,487 1339,486 1335,485 1331,484 1328,483 1323,482 1319,480 1315,479 1311,478 1307,477 1303,476 1299,476 1295,475 1291,475 1287,475 1283,475 1279,475 1275,475 1271,476 1267,476 1263,477 1259,478 1255,479 1251,480 1247,481 1243,482 1239,483 1235,483 1231,484 1227,485 1223,485 1219,486 1215,486 1211,486 1207,486 1203,486 1199,486 1195,486 1191,485 1187,485 1183,484 1179,483 1175,482 1171,480 1168,479 1163,476 1159,473 1156,471 1151,467 1147,465 1143,463 1139,462 1135,461 1131,461 1127,460 1123,460 1119,461 1115,461 1111,461 1107,460 1105,459 1103,458 1101,455 1101,451 1103,447 1107,447 1111,446 1115,445 1118,443 1122,439 1123,437 1124,435 1127,431 1129,427 1131,423 1134,419 1137,415 1139,412 1143,408 1147,403 1151,399 1155,396 1159,394 1163,391 1167,390 1171,388 1174,387 1179,385 1183,384 1187,382 1191,380 1193,379 1199,376 1203,373 1206,371 1211,367 1215,363 1219,360 1223,355 1227,351 1231,347 1235,344 1239,341 1242,339 1247,337 1251,336 1254,335 1259,333 1263,331 1267,329 1270,327 1275,323 1279,319 1282,315 1284,311 1286,307 1288,303 1291,299 1295,298 1299,297 1303,299 1307,301 1310,303 1315,306 1319,308 1323,310 1327,310 1331,309 1335,308 1339,305 1342,303 1343,301 1345,299 1347,296 1350,291 1351,288 1353,283 1354,279 1354,275 1355,271 1354,267 1354,263 1353,259 1352,255 1352,251 1351,247 1351,243 1351,239 1352,235 1354,231 1357,227 1359,225 1362,223 1367,221 1371,220 1375,220 1379,220 1383,220 1387,221 1391,221 1395,221 1399,221 1403,220 1405,219 1411,217 1415,215 1419,213 1422,211 1425,207 1427,204 1429,199 1430,195 1431,192 1432,187 1434,183 1435,180 1437,175 1438,171 1439,168 1440,163 1440,159 1440,155 1440,151 1439,147 1438,143 1437,139 1436,135 1435,132 1433,127 1431,123 1430,119 1428,115 1426,111 1424,107 1423,104 1421,99 1419,95 1418,91 1417,87 1416,83 1416,79 1416,75 1417,71 1418,67 1420,63 1422,59 1425,55 1427,52 1431,47 1435,43 1439,39 1443,35 1447,31 1451,27 1455,24 1459,20 1461,19 1463,17 1466,15 1471,11ZM1255,23 1259,22 1263,21 1267,21 1271,20 1275,20 1279,20 1283,20 1287,20 1291,20 1295,21 1299,21 1303,22 1307,23 1311,24 1315,25 1319,26 1322,27 1327,29 1331,31 1335,32 1339,35 1343,37 1347,39 1351,42 1355,45 1357,47 1362,51 1366,55 1369,59 1371,62 1374,67 1375,69 1377,75 1377,79 1376,83 1375,87 1374,91 1372,95 1371,98 1368,103 1367,105 1366,107 1363,111 1361,115 1359,118 1355,123 1353,127 1351,129 1350,131 1347,134 1343,139 1339,143 1335,147 1331,150 1327,153 1323,155 1319,157 1315,158 1311,159 1307,160 1303,161 1299,162 1295,162 1291,162 1287,163 1283,163 1279,163 1275,163 1271,163 1267,163 1263,163 1259,163 1255,163 1252,163 1247,163 1243,163 1239,162 1235,162 1231,161 1227,160 1223,159 1219,158 1215,156 1212,155 1207,152 1203,149 1201,147 1199,145 1196,143 1193,139 1191,137 1189,135 1187,132 1184,127 1181,123 1179,119 1178,115 1176,111 1175,107 1175,103 1174,99 1174,95 1175,91 1176,87 1177,83 1178,79 1179,77 1182,71 1184,67 1187,63 1190,59 1194,55 1198,51 1203,47 1207,44 1211,41 1214,39 1219,36 1223,34 1227,32 1231,30 1235,28 1239,27 1243,26 1247,24 1251,23 1255,23Z" fill="#ededff" stroke="#ededff" stroke-width="1.2" fill-rule="evenodd"/>
<path d="M1179,8 1183,7 1187,7 1191,7 1195,7 1199,7 1203,7 1207,7 1211,7 1215,7 1219,7 1223,7 1227,7 1231,7 1235,7 1239,7 1243,7 1247,7 1251,7 1255,7 1259,7 1263,7 1267,7 1271,7 1275,7 1279,7 1283,7 1287,7 1291,7 1295,7 1299,7 1303,7 1307,7 1311,7 1315,7 1319,7 1323,7 1327,7 1331,7 1335,7 1339,7 1343,7 1347,7 1351,7 1355,7 1359,7 1363,7 1367,7 1371,7 1375,7 1379,7 1383,7 1387,7 1391,7 1395,7 1399,7 1403,7 1407,7 1411,7 1415,7 1419,7 1423,7 1427,7 1431,7 1435,7 1439,7 1443,7 1447,7 1451,7 1455,7 1459,7 1463,7 1467,7 1471,7 1475,7 1471,11 1467,14 1463,17 1461,19 1459,20 1456,23 1451,27 1447,31 1443,35 1439,39 1435,43 1431,47 1428,51 1425,55 1423,58 1420,63 1418,67 1417,71 1416,75 1416,79 1416,83 1417,87 1418,91 1419,94 1421,99 1423,103 1424,107 1426,111 1428,115 1430,119 1431,122 1433,127 1434,131 1436,135 1437,139 1438,143 1439,146 1440,151 1440,155 1440,159 1440,163 1439,167 1438,171 1437,175 1435,179 1434,183 1432,187 1431,191 1430,195 1429,199 1427,203 1425,207 1423,210 1419,213 1416,215 1411,217 1407,218 1403,220 1399,221 1395,221 1391,221 1387,221 1383,220 1379,220 1375,220 1371,220 1367,221 1363,223 1359,225 1357,227 1355,230 1352,235 1351,239 1351,242 1351,247 1352,251 1352,255 1353,259 1354,263 1354,267 1355,271 1354,275 1354,279 1353,283 1351,287 1350,291 1348,295 1345,299 1343,301 1342,303 1339,305 1337,307 1331,309 1327,310 1323,310 1319,308 1316,307 1311,304 1307,301 1304,299 1299,297 1295,298 1292,299 1288,303 1287,305 1284,311 1283,313 1279,319 1275,323 1271,327 1267,329 1264,331 1259,333 1255,335 1251,336 1247,337 1243,339 1239,341 1236,343 1231,347 1227,351 1223,355 1219,359 1215,363 1211,367 1207,370 1203,373 1200,375 1195,378 1191,380 1187,382 1185,383 1179,385 1175,387 1171,388 1167,390 1164,391 1159,394 1157,395 1151,399 1147,403 1143,407 1140,411 1137,415 1135,418 1131,423 1129,427 1127,430 1124,435 1123,437 1122,439 1119,442 1115,445 1111,446 1107,447 1103,447 1101,451 1101,455 1103,458 1105,459 1107,460 1111,461 1115,461 1119,461 1123,460 1127,460 1131,461 1135,461 1139,462 1142,463 1147,465 1151,467 1155,470 1159,473 1161,475 1167,478 1171,480 1175,482 1179,483 1183,484 1187,485 1191,485 1195,486 1199,486 1203,486 1207,486 1211,486 1215,486 1219,486 1223,485 1227,485 1231,484 1235,483 1239,483 1243,482 1247,481 1251,480 1255,479 1259,478 1263,477 1267,476 1271,476 1275,475 1279,475 1283,475 1287,475 1291,475 1295,475 1299,476 1303,476 1307,477 1311,478 1314,479 1319,480 1323,482 1327,483 1331,484 1335,485 1339,486 1342,487 1347,488 1351,490 1355,491 1359,493 1363,494 1367,496 1371,497 1375,498 1378,499 1383,500 1387,501 1391,502 1395,502 1399,503 1403,503 1407,503 1411,503 1415,503 1419,503 1423,503 1427,503 1431,503 1435,503 1439,504 1443,504 1447,504 1451,505 1455,507 1459,509 1463,510 1467,512 1471,514 1474,515 1479,517 1483,518 1487,520 1491,521 1495,521 1499,522 1503,522 1507,522 1511,522 1515,521 1519,521 1523,520 1527,519 1531,518 1535,517 1539,516 1543,516 1547,515 1551,515 1555,516 1559,517 1563,518 1567,520 1571,521 1575,523 1579,524 1583,525 1587,526 1591,528 1595,529 1599,530 1603,531 1607,532 1611,533 1615,535 1619,536 1623,537 1627,538 1631,539 1635,540 1639,541 1643,542 1647,543 1651,544 1655,544 1659,545 1663,546 1667,547 1671,549 1675,550 1679,551 1683,552 1687,554 1690,555 1695,557 1699,559 1703,561 1707,563 1711,566 1713,567 1715,568 1718,571 1723,575 1727,579 1731,583 1734,587 1735,589 1736,591 1739,595 1741,599 1743,603 1744,607 1745,611 1746,615 1747,619 1748,623 1749,627 1749,631 1749,635 1750,639 1750,643 1750,647 1749,651 1749,655 1749,659 1749,663 1748,667 1748,671 1747,675 1747,679 1746,683 1746,687 1745,691 1744,695 1744,699 1743,703 1743,707 1742,711 1742,715 1741,719 1741,723 1740,727 1740,731 1739,735 1739,739 1738,743 1738,747 1737,751 1737,755 1736,759 1736,763 1736,767 1735,771 1735,775 1734,779 1734,783 1733,787 1733,791 1732,795 1732,799 1731,802 1730,807 1729,811 1729,815 1728,819 1727,822 1726,827 1725,831 1723,835 1722,839 1721,843 1719,847 1718,851 1716,855 1715,858 1713,863 1711,867 1709,871 1707,875 1705,879 1703,882 1700,887 1699,889 1698,891 1695,895 1691,895 1687,895 1683,895 1679,895 1675,895 1671,895 1667,895 1663,895 1659,895 1663,891 1667,887 1671,883 1675,879 1678,875 1681,871 1683,869 1684,867 1687,863 1690,859 1693,855 1695,851 1697,847 1699,844 1702,839 1703,836 1705,831 1707,828 1709,823 1710,819 1712,815 1713,811 1715,807 1716,803 1717,799 1718,795 1719,791 1720,787 1720,783 1721,779 1722,775 1723,771 1724,767 1724,763 1725,759 1726,755 1726,751 1727,748 1728,743 1729,739 1729,735 1730,731 1731,727 1731,723 1732,719 1733,715 1733,711 1734,707 1735,703 1735,699 1736,695 1736,691 1737,687 1738,683 1738,679 1739,675 1739,672 1739,667 1740,663 1740,659 1740,655 1740,651 1740,647 1740,643 1740,639 1739,635 1739,631 1738,627 1737,623 1736,619 1735,616 1733,611 1731,607 1729,603 1727,599 1724,595 1721,591 1719,589 1717,587 1715,585 1713,583 1711,582 1708,579 1703,576 1699,574 1695,571 1691,570 1687,568 1684,567 1679,565 1675,564 1671,563 1667,562 1663,561 1659,560 1655,560 1651,559 1647,559 1643,558 1639,558 1635,558 1631,557 1627,557 1623,557 1619,557 1615,557 1611,557 1607,557 1603,557 1599,557 1595,557 1591,557 1587,558 1583,559 1579,560 1575,561 1571,562 1567,564 1563,566 1559,568 1555,570 1552,571 1547,573 1543,573 1539,574 1535,574 1531,574 1527,574 1523,573 1519,573 1515,573 1511,573 1507,572 1503,572 1499,571 1495,571 1491,570 1487,569 1483,568 1479,568 1475,566 1471,565 1467,564 1463,563 1459,562 1455,561 1451,560 1447,560 1443,560 1439,560 1435,560 1431,560 1427,561 1423,562 1419,562 1415,563 1412,563 1407,563 1403,563 1399,563 1395,562 1391,561 1387,559 1383,558 1379,557 1375,555 1371,554 1367,553 1363,551 1359,550 1355,549 1351,548 1347,546 1343,545 1339,544 1335,543 1331,542 1327,542 1323,541 1319,540 1315,540 1311,539 1308,539 1303,538 1299,538 1295,538 1291,537 1287,537 1283,537 1279,537 1275,537 1271,537 1267,537 1263,537 1259,537 1255,538 1251,538 1247,539 1243,539 1239,540 1235,541 1231,541 1227,542 1223,543 1220,543 1215,544 1211,544 1207,545 1203,545 1199,546 1195,546 1191,546 1187,547 1183,547 1179,546 1175,546 1171,546 1167,545 1163,545 1159,544 1155,543 1151,542 1147,540 1144,539 1139,537 1135,535 1131,533 1128,531 1123,528 1119,525 1115,523 1111,521 1107,519 1103,517 1099,515 1095,514 1091,513 1087,512 1084,511 1079,510 1075,509 1071,508 1067,507 1063,507 1059,506 1055,505 1051,504 1047,504 1043,503 1039,502 1035,502 1031,500 1028,499 1023,496 1021,495 1019,493 1016,487 1015,484 1015,479 1015,475 1015,471 1016,467 1018,463 1019,460 1021,455 1023,451 1025,447 1027,445 1028,443 1031,440 1035,436 1039,433 1041,431 1043,430 1047,427 1051,424 1053,423 1055,422 1059,419 1063,417 1066,415 1071,412 1073,411 1075,410 1079,407 1083,405 1085,403 1087,402 1090,399 1095,395 1099,391 1103,387 1107,383 1110,379 1114,375 1118,371 1123,367 1127,363 1131,361 1133,359 1139,356 1143,354 1147,352 1151,351 1155,351 1159,350 1163,350 1167,350 1171,350 1175,350 1179,350 1183,349 1187,349 1191,348 1195,347 1199,346 1203,344 1206,343 1211,341 1214,339 1219,336 1221,335 1227,332 1231,330 1235,328 1239,326 1243,324 1246,323 1251,321 1255,319 1259,317 1261,315 1266,311 1270,307 1271,305 1274,299 1275,297 1278,291 1279,289 1280,287 1283,283 1286,279 1289,275 1291,272 1295,267 1298,263 1300,259 1301,255 1302,251 1302,247 1302,243 1302,239 1301,235 1299,231 1297,227 1295,223 1292,219 1289,215 1287,213 1285,211 1279,207 1275,204 1273,203 1267,200 1265,199 1259,197 1255,196 1251,194 1247,193 1243,192 1239,192 1236,191 1231,190 1227,189 1223,189 1219,188 1215,187 1211,186 1207,185 1203,183 1199,181 1196,179 1191,176 1187,173 1185,171 1183,170 1180,167 1175,163 1171,160 1167,156 1165,155 1163,153 1161,151 1159,149 1156,147 1152,143 1148,139 1144,135 1141,131 1139,129 1135,123 1133,119 1131,115 1129,111 1128,107 1127,103 1127,99 1127,95 1127,91 1128,87 1128,83 1129,79 1131,75 1132,71 1134,67 1135,64 1138,59 1139,56 1142,51 1145,47 1147,44 1150,39 1153,35 1155,33 1157,31 1159,28 1163,24 1167,19 1171,15 1175,12 1179,8ZM1253,23 1247,24 1243,26 1239,27 1235,28 1231,30 1227,32 1223,34 1221,35 1215,38 1211,41 1208,43 1203,47 1199,50 1195,54 1191,58 1187,63 1184,67 1183,69 1180,75 1178,79 1177,83 1176,87 1175,90 1174,95 1174,99 1175,103 1175,107 1176,111 1178,115 1179,118 1181,123 1183,126 1186,131 1189,135 1191,137 1193,139 1195,142 1199,145 1201,147 1203,149 1206,151 1211,154 1215,156 1219,158 1222,159 1227,160 1231,161 1235,162 1239,162 1243,163 1247,163 1251,163 1255,163 1259,163 1263,163 1267,163 1271,163 1275,163 1279,163 1283,163 1287,163 1291,162 1295,162 1299,162 1303,161 1307,160 1311,159 1315,158 1319,157 1323,155 1327,153 1330,151 1335,147 1339,143 1343,139 1346,135 1350,131 1351,129 1353,127 1355,124 1358,119 1361,115 1363,112 1366,107 1367,105 1368,103 1370,99 1372,95 1374,91 1375,88 1376,83 1377,79 1377,75 1376,71 1374,67 1372,63 1369,59 1367,57 1363,52 1359,48 1355,45 1352,43 1347,39 1343,37 1340,35 1335,32 1332,31 1327,29 1323,27 1319,26 1315,25 1311,24 1309,23 1303,22 1299,21 1295,21 1291,20 1287,20 1283,20 1279,20 1275,20 1271,20 1267,21 1263,21 1259,22 1255,23Z" fill="#ffffff" stroke="#ffffff" stroke-width="1.2" fill-rule="evenodd"/>
<path d="M1135,8 1139,7 1143,7 1147,7 1151,7 1155,7 1159,7 1163,7 1167,7 1171,7 1175,7 1179,7 1176,11 1172,15 1167,19 1164,23 1160,27 1157,31 1155,33 1153,35 1151,38 1147,43 1145,47 1143,50 1140,55 1138,59 1136,63 1134,67 1132,71 1131,74 1129,79 1128,83 1128,87 1127,91 1127,95 1127,99 1127,103 1128,107 1129,111 1131,115 1133,119 1135,123 1138,127 1141,131 1143,133 1147,138 1151,142 1155,146 1159,149 1161,151 1163,153 1165,155 1167,156 1170,159 1175,163 1179,166 1183,170 1185,171 1187,173 1190,175 1195,179 1199,181 1203,183 1207,185 1211,186 1214,187 1219,188 1223,189 1227,189 1231,190 1235,191 1239,192 1243,192 1247,193 1251,194 1255,196 1259,197 1263,198 1267,200 1271,202 1275,204 1279,207 1283,210 1287,213 1289,215 1291,218 1295,223 1297,227 1299,231 1301,235 1302,239 1302,243 1302,247 1302,251 1301,255 1300,259 1299,261 1295,267 1292,271 1289,275 1287,277 1283,283 1280,287 1279,289 1278,291 1276,295 1274,299 1272,303 1270,307 1267,310 1263,314 1259,317 1255,319 1251,321 1247,323 1243,324 1239,326 1237,327 1231,330 1229,331 1223,334 1219,336 1215,339 1211,341 1207,343 1203,344 1199,346 1195,347 1191,348 1187,349 1183,349 1179,350 1175,350 1171,350 1167,350 1163,350 1159,350 1155,351 1152,351 1147,352 1143,354 1140,355 1135,358 1131,361 1128,363 1123,367 1119,370 1115,374 1111,378 1107,383 1103,387 1099,391 1095,395 1091,398 1087,402 1085,403 1083,405 1079,407 1075,410 1073,411 1071,412 1067,415 1063,417 1059,419 1055,422 1053,423 1051,424 1047,427 1043,430 1041,431 1039,433 1036,435 1032,439 1028,443 1027,445 1025,447 1023,451 1021,455 1020,459 1018,463 1016,467 1015,471 1015,474 1015,479 1015,483 1016,487 1018,491 1021,495 1023,496 1027,499 1031,500 1035,502 1039,502 1042,503 1047,504 1051,504 1055,505 1059,506 1063,507 1066,507 1071,508 1075,509 1079,510 1083,511 1087,512 1091,513 1095,514 1098,515 1103,517 1107,519 1111,521 1115,523 1119,525 1122,527 1127,530 1131,533 1135,535 1139,537 1143,539 1147,540 1151,542 1155,543 1159,544 1163,545 1167,545 1171,546 1175,546 1179,546 1183,547 1187,547 1191,546 1195,546 1199,546 1203,545 1207,545 1211,544 1215,544 1219,543 1223,543 1227,542 1231,541 1235,541 1239,540 1243,539 1246,539 1251,538 1255,538 1259,537 1263,537 1267,537 1271,537 1275,537 1279,537 1283,537 1287,537 1291,537 1295,538 1299,538 1303,538 1307,539 1311,539 1315,540 1319,540 1323,541 1327,542 1331,542 1335,543 1339,544 1343,545 1347,546 1351,548 1355,549 1359,550 1362,551 1367,553 1371,554 1374,555 1379,557 1383,558 1386,559 1391,561 1395,562 1399,563 1403,563 1407,563 1411,563 1415,563 1419,562 1423,562 1427,561 1431,560 1435,560 1439,560 1443,560 1447,560 1451,560 1455,561 1459,562 1463,563 1467,564 1471,565 1475,566 1479,568 1483,568 1487,569 1491,570 1495,571 1499,571 1503,572 1507,572 1511,573 1515,573 1519,573 1523,573 1527,574 1531,574 1535,574 1539,574 1543,573 1547,573 1551,571 1555,570 1559,568 1561,567 1567,564 1569,563 1575,561 1579,560 1582,559 1587,558 1591,557 1595,557 1599,557 1603,557 1607,557 1611,557 1615,557 1619,557 1623,557 1627,557 1631,557 1635,558 1639,558 1643,558 1647,559 1651,559 1655,560 1659,560 1663,561 1667,562 1671,563 1675,564 1679,565 1683,566 1687,568 1691,570 1694,571 1699,574 1701,575 1707,579 1711,582 1713,583 1715,585 1717,587 1719,589 1721,591 1723,594 1727,599 1729,603 1731,606 1733,611 1735,615 1736,619 1737,623 1738,627 1739,631 1739,635 1740,639 1740,643 1740,647 1740,651 1740,655 1740,659 1740,663 1739,667 1739,671 1739,675 1738,679 1738,683 1737,687 1736,691 1736,695 1735,699 1735,703 1734,707 1733,711 1733,715 1732,719 1731,723 1731,727 1730,731 1729,735 1729,739 1728,743 1727,747 1726,751 1726,755 1725,759 1724,763 1724,767 1723,770 1722,775 1721,779 1720,783 1720,787 1719,790 1718,795 1717,799 1716,803 1715,806 1713,811 1712,815 1711,818 1709,823 1707,827 1705,831 1704,835 1702,839 1700,843 1697,847 1695,851 1693,855 1691,857 1687,863 1684,867 1683,869 1681,871 1679,874 1675,878 1671,883 1667,887 1663,891 1659,894 1655,895 1651,895 1647,895 1643,895 1639,895 1635,895 1631,895 1627,895 1623,895 1619,895 1615,895 1611,895 1607,895 1603,895 1599,895 1595,895 1591,895 1587,895 1583,895 1579,895 1575,895 1571,895 1567,895 1563,895 1559,895 1555,895 1551,895 1547,895 1543,895 1539,895 1535,895 1531,895 1527,895 1523,895 1519,895 1515,895 1511,895 1507,895 1503,895 1499,895 1495,895 1491,895 1487,895 1483,895 1479,895 1475,895 1471,895 1467,895 1463,895 1459,895 1455,895 1451,895 1447,895 1443,895 1439,895 1435,895 1431,895 1427,895 1423,895 1419,895 1415,895 1411,895 1407,895 1403,895 1399,895 1395,895 1391,895 1387,895 1383,895 1379,895 1375,895 1371,895 1367,895 1363,895 1359,895 1355,895 1351,895 1347,895 1343,895 1339,895 1335,895 1331,895 1327,895 1323,895 1319,895 1315,895 1311,895 1307,895 1303,895 1299,895 1295,895 1291,895 1287,895 1283,895 1279,895 1275,895 1271,895 1267,895 1263,895 1259,895 1255,895 1251,895 1247,895 1243,895 1239,895 1235,895 1231,895 1227,895 1223,895 1219,895 1215,895 1211,895 1207,895 1203,895 1199,895 1195,895 1191,895 1187,895 1183,895 1179,895 1175,895 1171,895 1167,895 1163,895 1159,895 1155,895 1151,895 1147,895 1143,895 1139,895 1135,895 1131,895 1127,895 1123,895 1119,895 1115,895 1111,895 1107,895 1103,895 1099,895 1095,895 1091,895 1095,892 1099,890 1103,888 1106,887 1111,885 1115,884 1119,882 1123,881 1127,880 1131,878 1135,877 1139,876 1143,875 1147,874 1151,873 1155,872 1159,871 1163,870 1167,870 1171,869 1175,868 1179,867 1183,867 1187,866 1191,866 1195,865 1199,864 1203,864 1207,864 1211,863 1215,863 1219,862 1223,862 1227,862 1231,861 1235,861 1239,861 1243,861 1247,861 1251,860 1255,860 1259,860 1263,860 1267,860 1271,860 1275,860 1279,860 1283,860 1287,860 1291,860 1295,860 1299,860 1303,860 1307,860 1311,860 1315,860 1319,861 1323,861 1327,861 1331,861 1335,861 1339,862 1343,862 1347,862 1351,863 1355,863 1359,863 1363,864 1367,864 1371,865 1375,865 1379,866 1383,866 1387,867 1391,867 1395,868 1399,869 1403,869 1407,870 1411,871 1415,871 1419,872 1423,873 1427,873 1431,874 1435,875 1439,876 1443,876 1447,877 1451,878 1455,879 1459,880 1463,880 1467,881 1471,882 1475,882 1478,883 1483,884 1487,885 1491,885 1495,886 1499,887 1503,888 1507,888 1511,889 1515,890 1519,891 1523,891 1527,892 1531,892 1535,893 1539,893 1543,894 1547,894 1551,894 1555,894 1559,894 1563,894 1567,894 1571,894 1575,893 1579,893 1583,892 1587,892 1591,891 1595,890 1599,889 1603,888 1606,887 1611,885 1615,884 1617,883 1623,881 1626,879 1631,877 1634,875 1639,872 1643,869 1646,867 1651,864 1655,860 1657,859 1659,857 1661,855 1663,853 1665,851 1667,849 1669,847 1671,845 1673,843 1675,841 1679,836 1682,831 1685,827 1687,824 1690,819 1693,815 1695,811 1697,807 1699,803 1700,799 1702,795 1703,792 1705,787 1706,783 1707,780 1708,775 1710,771 1711,767 1712,763 1713,759 1714,755 1715,751 1716,747 1717,743 1718,739 1719,735 1720,731 1721,727 1722,723 1722,719 1723,717 1724,711 1725,707 1726,703 1727,699 1727,696 1728,691 1729,687 1729,683 1730,679 1730,675 1731,671 1731,667 1731,664 1731,659 1731,655 1731,651 1731,647 1731,643 1730,639 1729,635 1728,631 1727,627 1726,623 1725,619 1723,616 1721,611 1719,608 1715,603 1712,599 1708,595 1703,591 1699,588 1695,586 1691,584 1687,582 1683,580 1680,579 1675,578 1671,577 1667,576 1663,575 1660,575 1655,575 1651,574 1647,574 1643,575 1639,575 1635,575 1631,576 1627,576 1623,577 1619,578 1616,579 1611,581 1607,582 1604,583 1599,585 1595,587 1591,588 1587,590 1583,592 1579,594 1577,595 1571,597 1567,599 1563,601 1559,602 1557,603 1551,605 1547,606 1543,608 1539,609 1535,610 1531,612 1527,613 1523,614 1519,616 1515,617 1511,618 1507,620 1503,621 1499,622 1496,623 1491,624 1487,625 1483,626 1479,627 1475,628 1471,629 1467,630 1463,631 1460,631 1455,632 1451,632 1447,632 1443,633 1439,633 1435,633 1431,633 1427,633 1423,632 1419,632 1415,631 1411,630 1407,630 1403,628 1399,627 1395,626 1391,624 1389,623 1383,620 1380,619 1375,616 1371,614 1367,611 1363,609 1361,607 1355,603 1351,600 1349,599 1343,595 1339,593 1336,591 1331,588 1329,587 1323,584 1320,583 1315,581 1311,579 1307,578 1303,577 1299,576 1295,575 1291,574 1287,574 1283,573 1279,573 1275,573 1271,573 1267,573 1263,573 1259,574 1255,575 1251,575 1247,576 1243,577 1239,578 1236,579 1231,580 1227,581 1223,582 1219,584 1215,585 1211,586 1207,586 1204,587 1199,588 1195,588 1191,589 1187,589 1183,589 1179,589 1175,588 1171,588 1167,588 1163,587 1159,587 1155,586 1151,585 1147,584 1143,583 1139,582 1135,581 1131,579 1127,578 1123,577 1119,575 1115,574 1111,572 1107,571 1103,570 1099,569 1095,568 1091,567 1087,566 1083,566 1079,566 1075,565 1071,565 1067,566 1063,566 1059,567 1055,567 1051,568 1047,569 1043,570 1039,571 1035,572 1031,574 1027,575 1023,577 1019,578 1015,580 1011,582 1009,583 1003,585 999,587 995,588 991,589 987,589 983,590 979,590 975,590 971,591 968,591 963,591 959,592 955,592 951,592 947,592 943,592 939,592 935,592 931,592 927,592 923,592 919,592 915,592 911,591 907,590 903,590 899,589 895,588 891,586 887,585 883,583 879,582 875,580 871,578 867,576 863,574 859,571 855,569 852,567 847,563 843,560 839,557 837,555 835,553 831,548 827,543 824,539 822,535 819,531 818,527 817,523 816,519 817,515 819,511 822,507 823,505 825,503 827,502 830,499 835,495 839,492 843,489 845,487 847,485 850,483 854,479 858,475 862,471 865,467 867,465 869,463 871,461 873,459 875,457 877,455 879,453 882,451 887,449 891,449 895,449 899,450 903,451 906,451 911,451 915,451 919,450 923,449 927,448 930,447 935,445 939,443 943,441 947,439 951,436 955,433 958,431 963,427 967,424 969,423 975,420 979,419 983,418 987,417 991,415 995,414 999,412 1002,411 1007,409 1010,407 1015,404 1018,403 1023,400 1027,397 1031,395 1035,393 1039,391 1043,389 1046,387 1051,384 1053,383 1059,380 1061,379 1067,376 1071,374 1075,371 1079,369 1082,367 1087,363 1091,360 1095,357 1097,355 1099,354 1103,351 1107,348 1111,346 1115,344 1119,342 1123,340 1127,338 1131,336 1135,335 1139,334 1143,333 1147,333 1151,332 1155,332 1159,333 1163,333 1167,333 1171,334 1175,334 1179,334 1183,333 1187,333 1191,333 1195,332 1198,331 1203,330 1207,328 1210,327 1215,325 1219,323 1223,321 1227,320 1231,318 1235,316 1239,314 1243,312 1247,310 1251,307 1255,304 1259,299 1262,295 1263,293 1265,287 1267,283 1268,279 1270,275 1271,271 1272,267 1273,263 1273,259 1274,255 1274,251 1273,247 1272,243 1271,240 1269,235 1267,232 1263,227 1259,223 1255,220 1251,217 1248,215 1243,213 1239,211 1235,209 1231,208 1228,207 1223,206 1219,205 1215,204 1211,203 1207,202 1203,201 1199,200 1195,198 1191,195 1187,193 1184,191 1179,188 1175,185 1171,183 1167,180 1165,179 1163,178 1159,175 1155,173 1152,171 1147,168 1143,165 1139,163 1135,161 1132,159 1127,156 1123,153 1120,151 1115,148 1111,145 1108,143 1104,139 1100,135 1096,131 1093,127 1091,123 1090,119 1089,115 1088,111 1088,107 1088,103 1089,99 1089,95 1090,91 1091,88 1093,83 1094,79 1095,76 1097,71 1099,67 1101,63 1103,59 1105,55 1107,51 1109,47 1111,43 1114,39 1115,37 1119,31 1121,27 1123,25 1127,19 1130,15 1133,11 1135,8Z" fill="#ffffff" stroke="#ffffff" stroke-width="1.2" fill-rule="evenodd"/>
<path d="M1103,10 1105,7 1111,7 1115,7 1119,7 1123,7 1127,7 1131,7 1135,7 1133,11 1131,14 1127,19 1124,23 1121,27 1119,30 1116,35 1114,39 1111,43 1109,47 1107,51 1105,55 1103,58 1101,63 1099,67 1097,71 1095,75 1094,79 1093,83 1091,87 1090,91 1089,95 1089,99 1088,103 1088,107 1088,111 1089,115 1090,119 1091,122 1093,127 1095,129 1099,134 1103,138 1107,142 1111,145 1114,147 1119,151 1123,153 1126,155 1131,158 1135,161 1139,163 1143,165 1145,167 1151,170 1155,173 1159,175 1163,178 1165,179 1167,180 1171,183 1175,185 1178,187 1183,190 1187,193 1191,195 1195,198 1198,199 1203,201 1207,202 1211,203 1215,204 1219,205 1223,206 1227,207 1231,208 1235,209 1239,211 1243,213 1247,215 1251,217 1254,219 1259,223 1263,227 1266,231 1269,235 1271,239 1272,243 1273,247 1274,251 1274,255 1273,259 1273,263 1272,267 1271,271 1270,275 1268,279 1267,283 1265,287 1264,291 1262,295 1259,299 1256,303 1251,307 1247,310 1245,311 1239,314 1237,315 1231,318 1228,319 1223,321 1219,323 1215,325 1211,327 1207,328 1203,330 1199,331 1195,332 1191,333 1187,333 1183,333 1179,334 1175,334 1171,334 1167,333 1163,333 1159,333 1155,332 1151,332 1147,333 1143,333 1139,334 1135,335 1131,336 1127,338 1124,339 1119,342 1116,343 1111,346 1109,347 1103,351 1099,354 1097,355 1095,357 1092,359 1087,363 1083,366 1079,369 1076,371 1071,374 1069,375 1063,378 1059,380 1055,382 1051,384 1047,386 1043,389 1039,391 1035,393 1031,395 1027,397 1024,399 1019,402 1015,404 1011,407 1007,409 1003,411 999,412 995,414 992,415 987,417 983,418 979,419 975,420 971,422 967,424 963,427 959,430 955,433 952,435 947,439 943,441 940,443 935,445 931,447 927,448 923,449 919,450 915,451 911,451 907,451 903,451 899,450 895,449 891,449 887,449 883,451 879,453 877,455 875,457 873,459 871,461 869,463 867,465 865,467 863,470 859,474 855,478 851,482 847,485 845,487 843,489 840,491 835,495 831,498 827,502 825,503 823,505 822,507 819,510 817,515 816,519 817,523 818,527 819,530 822,535 823,537 827,543 830,547 834,551 837,555 839,557 842,559 847,563 851,566 855,569 858,571 863,574 865,575 871,578 873,579 879,582 882,583 887,585 891,586 895,588 899,589 903,590 907,590 911,591 915,592 919,592 923,592 927,592 931,592 935,592 939,592 943,592 947,592 951,592 955,592 959,592 963,591 967,591 971,591 975,590 979,590 983,590 987,589 991,589 995,588 998,587 1003,585 1007,584 1011,582 1015,580 1018,579 1023,577 1027,575 1031,574 1035,572 1039,571 1043,570 1047,569 1051,568 1055,567 1059,567 1063,566 1067,566 1071,565 1075,565 1079,566 1083,566 1087,566 1091,567 1095,568 1099,569 1103,570 1107,571 1111,572 1115,574 1119,575 1123,577 1127,578 1130,579 1135,581 1139,582 1143,583 1147,584 1151,585 1155,586 1159,587 1162,587 1167,588 1171,588 1175,588 1179,589 1183,589 1187,589 1191,589 1195,588 1199,588 1203,587 1207,586 1211,586 1215,585 1219,584 1223,582 1227,581 1231,580 1235,579 1239,578 1243,577 1247,576 1251,575 1255,575 1259,574 1263,573 1267,573 1271,573 1275,573 1279,573 1283,573 1287,574 1291,574 1295,575 1299,576 1303,577 1307,578 1310,579 1315,581 1319,583 1323,584 1327,586 1331,588 1335,590 1339,593 1343,595 1347,598 1351,600 1355,603 1359,606 1363,609 1367,611 1371,614 1373,615 1379,618 1383,620 1387,622 1391,624 1395,626 1399,627 1403,628 1407,630 1411,630 1414,631 1419,632 1423,632 1427,633 1431,633 1435,633 1439,633 1443,633 1447,632 1451,632 1455,632 1459,631 1463,631 1467,630 1471,629 1475,628 1479,627 1483,626 1487,625 1491,624 1495,623 1499,622 1503,621 1507,620 1511,618 1515,617 1519,616 1521,615 1527,613 1531,612 1533,611 1539,609 1543,608 1545,607 1551,605 1555,604 1559,602 1563,601 1567,599 1571,597 1575,596 1579,594 1583,592 1585,591 1591,588 1594,587 1599,585 1603,583 1607,582 1611,581 1615,579 1619,578 1623,577 1627,576 1631,576 1635,575 1638,575 1643,575 1647,574 1651,574 1655,575 1659,575 1663,575 1667,576 1671,577 1675,578 1679,579 1683,580 1687,582 1690,583 1695,586 1697,587 1703,591 1707,594 1711,598 1715,603 1718,607 1721,611 1723,615 1725,619 1726,623 1727,626 1728,631 1729,635 1730,639 1731,643 1731,647 1731,651 1731,655 1731,659 1731,663 1731,667 1731,671 1730,675 1730,679 1729,683 1729,687 1728,691 1727,695 1727,699 1726,703 1725,707 1724,711 1723,715 1722,719 1722,723 1721,727 1720,731 1719,734 1718,739 1717,743 1716,747 1715,751 1714,755 1713,759 1712,763 1711,766 1710,771 1708,775 1707,779 1706,783 1705,787 1703,791 1702,795 1700,799 1699,802 1697,807 1695,811 1693,815 1691,818 1688,823 1685,827 1683,830 1679,835 1676,839 1673,843 1671,845 1669,847 1667,849 1665,851 1663,853 1661,855 1659,857 1657,859 1655,860 1652,863 1647,867 1643,869 1640,871 1635,874 1631,877 1627,879 1623,881 1619,882 1615,884 1611,885 1607,887 1603,888 1599,889 1595,890 1591,891 1587,892 1583,892 1579,893 1575,893 1571,894 1567,894 1563,894 1559,894 1555,894 1551,894 1547,894 1543,894 1539,893 1535,893 1531,892 1527,892 1523,891 1519,891 1515,890 1511,889 1507,888 1503,888 1500,887 1495,886 1491,885 1487,885 1483,884 1479,883 1475,882 1471,882 1467,881 1463,880 1459,880 1456,879 1451,878 1447,877 1443,876 1439,876 1435,875 1431,874 1427,873 1423,873 1419,872 1415,871 1411,871 1407,870 1403,869 1399,869 1395,868 1391,867 1388,867 1383,866 1379,866 1375,865 1371,865 1367,864 1363,864 1359,863 1355,863 1351,863 1347,862 1343,862 1339,862 1335,861 1331,861 1327,861 1323,861 1319,861 1315,860 1311,860 1307,860 1303,860 1299,860 1295,860 1291,860 1287,860 1283,860 1279,860 1275,860 1271,860 1267,860 1263,860 1259,860 1255,860 1251,860 1247,861 1243,861 1239,861 1235,861 1231,861 1227,862 1223,862 1219,862 1215,863 1211,863 1207,864 1203,864 1199,864 1195,865 1191,866 1187,866 1183,867 1179,867 1175,868 1171,869 1167,870 1163,870 1160,871 1155,872 1151,873 1147,874 1143,875 1139,876 1135,877 1131,878 1127,880 1123,881 1119,882 1117,883 1111,885 1107,887 1103,888 1099,890 1097,891 1091,894 1088,895 1083,895 1079,895 1075,895 1071,895 1067,895 1063,895 1059,895 1055,895 1051,895 1047,895 1043,895 1039,895 1035,895 1031,895 1027,895 1030,891 1034,887 1039,883 1043,880 1047,877 1049,875 1051,874 1054,871 1059,868 1063,865 1066,863 1071,860 1075,857 1079,855 1083,853 1086,851 1091,848 1093,847 1099,844 1103,842 1107,840 1111,838 1115,836 1119,834 1123,832 1126,831 1131,829 1135,827 1139,825 1143,823 1147,822 1151,820 1154,819 1159,817 1163,816 1167,814 1171,813 1175,811 1179,810 1183,809 1187,807 1191,806 1195,805 1199,804 1202,803 1207,802 1211,800 1215,799 1219,798 1223,797 1227,796 1231,795 1235,794 1239,794 1243,793 1247,792 1251,791 1255,790 1259,789 1263,788 1267,788 1270,787 1275,786 1279,785 1283,784 1287,783 1291,783 1295,782 1299,781 1303,780 1307,779 1311,778 1315,777 1319,776 1323,776 1327,775 1331,774 1335,773 1339,772 1343,771 1347,770 1351,769 1355,768 1359,768 1362,767 1367,766 1371,766 1375,765 1379,765 1383,766 1387,766 1391,767 1395,768 1399,770 1402,771 1407,773 1409,775 1415,778 1419,781 1422,783 1427,787 1431,789 1433,791 1439,795 1443,798 1447,801 1450,803 1455,806 1459,809 1463,811 1467,814 1469,815 1475,818 1479,821 1483,823 1487,825 1491,827 1495,829 1499,831 1503,833 1507,835 1511,837 1515,838 1519,840 1523,841 1527,843 1531,844 1535,845 1539,847 1543,848 1547,849 1551,849 1555,850 1559,851 1563,851 1567,852 1571,852 1575,852 1579,852 1583,852 1587,852 1591,852 1595,851 1598,851 1603,850 1607,849 1611,848 1615,847 1619,846 1623,844 1626,843 1631,841 1634,839 1639,837 1641,835 1647,831 1651,829 1653,827 1655,825 1658,823 1662,819 1666,815 1670,811 1673,807 1675,805 1676,803 1679,799 1682,795 1684,791 1687,787 1689,783 1691,779 1692,775 1694,771 1696,767 1698,763 1699,759 1701,755 1702,751 1703,749 1705,743 1706,739 1708,735 1709,731 1710,727 1711,724 1712,719 1713,715 1715,711 1716,707 1717,703 1717,699 1718,695 1719,691 1720,687 1720,683 1721,679 1721,675 1722,671 1722,667 1722,663 1722,659 1722,655 1722,651 1722,647 1721,643 1720,639 1719,635 1718,631 1716,627 1715,624 1713,619 1711,616 1707,611 1704,607 1699,603 1695,600 1691,597 1687,595 1683,593 1679,592 1676,591 1671,590 1667,589 1663,589 1659,589 1655,589 1651,589 1647,589 1643,590 1639,591 1635,592 1631,593 1627,595 1623,596 1619,598 1615,600 1611,602 1609,603 1603,606 1601,607 1595,610 1592,611 1587,613 1583,614 1579,616 1575,618 1572,619 1567,622 1564,623 1559,626 1555,629 1551,631 1547,634 1545,635 1543,636 1539,639 1535,642 1531,645 1528,647 1523,650 1519,653 1517,655 1511,659 1507,662 1503,665 1500,667 1495,671 1491,674 1489,675 1487,676 1483,679 1479,682 1475,685 1472,687 1467,690 1463,693 1460,695 1455,698 1453,699 1451,700 1447,703 1443,705 1439,707 1435,709 1431,711 1427,712 1423,714 1419,715 1415,716 1411,717 1407,717 1403,717 1399,717 1395,716 1391,714 1387,712 1383,710 1379,707 1375,703 1371,700 1367,696 1363,692 1359,687 1355,683 1352,679 1349,675 1347,673 1345,671 1343,668 1339,663 1336,659 1332,655 1331,653 1329,651 1327,648 1323,644 1319,639 1315,635 1311,631 1307,627 1303,624 1299,621 1296,619 1291,616 1289,615 1283,613 1279,612 1275,612 1271,612 1267,612 1263,613 1259,614 1255,615 1251,616 1247,618 1243,619 1239,621 1235,622 1231,623 1227,624 1223,626 1219,627 1215,627 1211,628 1207,629 1203,629 1199,630 1195,630 1191,630 1187,630 1183,630 1179,629 1175,629 1171,628 1167,628 1163,627 1159,626 1155,625 1151,623 1147,622 1143,621 1139,620 1135,618 1131,617 1127,615 1123,614 1119,612 1116,611 1111,609 1107,607 1103,606 1099,605 1095,603 1091,602 1087,601 1083,600 1079,600 1075,599 1071,598 1067,598 1063,598 1059,598 1055,598 1051,598 1047,598 1043,598 1039,599 1035,600 1031,600 1027,601 1023,602 1021,603 1015,605 1011,606 1007,607 1003,608 999,609 995,610 991,611 987,611 983,612 979,614 975,615 971,616 967,618 963,619 959,620 955,621 951,622 947,623 943,624 939,624 935,625 931,626 927,626 923,627 919,627 915,628 911,628 907,628 903,628 899,628 895,627 891,627 887,626 883,625 879,624 876,623 871,622 867,620 863,619 859,618 855,617 851,616 847,615 843,614 839,613 835,612 831,611 827,610 823,609 819,608 816,607 811,606 807,605 803,603 799,602 795,601 791,600 787,601 784,603 780,607 776,611 772,615 767,618 763,620 759,621 755,621 751,620 748,619 743,616 741,615 739,613 736,611 733,607 731,603 730,599 731,595 732,591 734,587 738,583 742,579 747,576 750,575 755,574 759,575 763,575 767,575 771,574 775,571 777,567 779,563 779,559 779,555 777,551 775,548 771,544 769,543 767,541 764,539 765,535 767,531 768,527 770,523 771,521 772,515 773,511 773,507 774,503 775,500 777,495 778,491 781,487 783,484 787,479 791,476 795,473 798,471 803,468 806,467 811,464 814,463 819,460 821,459 823,458 827,455 831,452 833,451 835,450 839,447 843,444 847,441 850,439 855,435 859,431 861,427 861,423 861,419 861,415 860,411 860,407 861,403 861,399 862,395 864,391 867,387 870,383 875,379 879,377 883,376 887,375 891,375 895,375 899,377 903,378 907,381 909,383 911,385 913,387 915,389 916,391 919,395 923,399 927,402 931,402 935,402 939,401 943,400 947,398 951,397 955,395 959,394 963,393 967,392 970,391 975,390 979,389 983,388 987,387 991,386 995,384 997,383 1003,380 1007,378 1011,375 1015,373 1018,371 1023,368 1025,367 1031,364 1035,362 1039,359 1043,357 1047,355 1051,353 1055,351 1059,349 1063,347 1067,345 1071,343 1075,341 1079,339 1083,337 1087,335 1091,333 1095,331 1099,330 1103,328 1107,327 1111,326 1115,325 1119,324 1123,323 1127,322 1131,321 1135,321 1139,320 1143,320 1147,320 1151,320 1155,320 1159,321 1163,321 1167,321 1171,322 1175,322 1179,322 1183,322 1187,321 1191,321 1195,320 1199,319 1203,318 1207,317 1211,315 1215,314 1219,312 1223,310 1227,308 1231,306 1235,303 1239,301 1241,299 1243,297 1245,295 1247,293 1249,291 1251,287 1253,283 1254,279 1255,275 1256,271 1256,267 1256,263 1256,259 1256,255 1255,252 1253,247 1252,243 1249,239 1247,236 1243,232 1239,228 1237,227 1235,226 1231,223 1227,221 1223,219 1219,218 1215,216 1211,215 1207,214 1203,212 1199,211 1195,209 1191,208 1187,206 1183,204 1181,203 1175,200 1173,199 1167,196 1164,195 1159,193 1156,191 1151,189 1147,187 1143,186 1139,184 1137,183 1131,181 1127,179 1123,178 1119,176 1116,175 1111,173 1107,171 1103,170 1099,168 1096,167 1091,165 1087,163 1083,161 1079,159 1075,157 1072,155 1067,151 1063,148 1059,144 1055,139 1053,135 1052,131 1051,127 1051,123 1052,119 1052,115 1053,111 1054,107 1056,103 1057,99 1059,95 1060,91 1062,87 1063,85 1066,79 1067,76 1069,71 1071,68 1073,63 1075,60 1077,55 1079,52 1082,47 1083,45 1086,39 1088,35 1091,31 1093,27 1095,23 1098,19 1099,17 1103,11ZM755,538 759,539 760,543 755,547 751,545 750,543 751,539 755,538Z" fill="#ffeded" stroke="#ffeded" stroke-width="1.2" fill-rule="evenodd"/>
<path d="M1079,10 1081,7 1087,7 1091,7 1095,7 1099,7 1103,7 1103,10 1100,15 1098,19 1095,23 1093,27 1091,30 1088,35 1087,37 1084,43 1082,47 1080,51 1077,55 1075,59 1073,63 1071,67 1069,71 1067,75 1066,79 1064,83 1062,87 1060,91 1059,94 1057,99 1056,103 1054,107 1053,111 1052,115 1052,119 1051,123 1051,127 1052,131 1053,135 1055,139 1058,143 1062,147 1066,151 1071,154 1075,157 1079,159 1083,161 1087,163 1091,165 1095,166 1099,168 1103,170 1106,171 1111,173 1115,175 1119,176 1123,178 1126,179 1131,181 1135,182 1139,184 1143,186 1146,187 1151,189 1155,191 1159,193 1163,194 1167,196 1171,198 1175,200 1179,202 1183,204 1187,206 1189,207 1195,209 1199,211 1203,212 1207,214 1211,215 1215,216 1219,218 1222,219 1227,221 1231,223 1235,226 1237,227 1239,228 1242,231 1246,235 1249,239 1251,242 1253,247 1255,251 1256,255 1256,259 1256,263 1256,267 1256,271 1255,275 1254,279 1253,283 1251,287 1249,291 1247,293 1245,295 1243,297 1241,299 1239,301 1236,303 1231,306 1229,307 1223,310 1221,311 1215,314 1211,315 1207,317 1203,318 1199,319 1195,320 1191,321 1187,321 1183,322 1179,322 1175,322 1171,322 1167,321 1163,321 1159,321 1155,320 1151,320 1147,320 1143,320 1139,320 1135,321 1131,321 1127,322 1123,323 1119,324 1115,325 1111,326 1107,327 1103,328 1099,330 1096,331 1091,333 1087,335 1083,337 1079,339 1075,341 1071,343 1067,345 1063,347 1059,349 1055,351 1051,353 1047,355 1043,357 1040,359 1035,362 1032,363 1027,366 1023,368 1019,371 1015,373 1011,375 1007,378 1005,379 999,382 995,384 991,386 987,387 983,388 979,389 975,390 971,391 967,392 963,393 959,394 956,395 951,397 947,398 945,399 939,401 935,402 931,402 927,402 923,399 919,395 916,391 915,389 913,387 911,385 909,383 907,381 904,379 899,377 895,375 892,375 887,375 883,376 879,377 875,379 871,382 867,387 864,391 863,394 861,399 861,403 860,407 860,411 861,415 861,419 861,423 861,427 859,430 855,435 851,438 847,441 845,443 839,447 835,450 833,451 831,452 827,455 823,458 821,459 819,460 815,462 811,464 807,466 803,468 799,470 795,473 792,475 787,479 784,483 781,487 779,490 777,495 775,499 774,503 773,507 773,511 772,515 771,519 770,523 768,527 767,531 765,535 764,539 767,541 769,543 771,544 774,547 777,551 779,554 779,559 779,563 777,567 775,571 771,574 767,575 763,575 759,575 755,574 751,575 747,576 743,578 739,582 735,586 732,591 731,594 730,599 731,603 733,607 735,609 739,613 741,615 743,616 747,618 751,620 755,621 759,621 763,620 766,619 771,616 775,612 779,608 783,603 787,601 791,600 795,601 799,602 801,603 807,605 811,606 815,607 819,608 823,609 827,610 831,611 835,612 839,613 843,614 847,615 851,616 855,617 859,618 862,619 867,620 871,622 875,623 879,624 883,625 887,626 891,627 895,627 899,628 903,628 907,628 911,628 915,628 919,627 922,627 927,626 931,626 935,625 939,624 943,624 947,623 951,622 955,621 959,620 963,619 967,618 971,616 974,615 979,614 983,612 987,611 991,611 995,610 999,609 1003,608 1007,607 1011,606 1015,605 1019,603 1023,602 1027,601 1031,600 1035,600 1039,599 1043,598 1047,598 1051,598 1055,598 1059,598 1063,598 1067,598 1071,598 1075,599 1079,600 1083,600 1087,601 1091,602 1095,603 1099,605 1103,606 1106,607 1111,609 1115,610 1119,612 1123,614 1127,615 1131,617 1135,618 1138,619 1143,621 1147,622 1149,623 1155,625 1159,626 1163,627 1167,628 1171,628 1175,629 1179,629 1183,630 1187,630 1191,630 1195,630 1199,630 1203,629 1207,629 1211,628 1215,627 1219,627 1223,626 1227,624 1231,623 1235,622 1239,621 1243,619 1247,618 1251,616 1255,615 1259,614 1263,613 1267,612 1271,612 1275,612 1279,612 1283,613 1287,614 1291,616 1295,618 1299,621 1302,623 1307,627 1311,631 1315,635 1319,639 1322,643 1326,647 1329,651 1331,653 1332,655 1335,658 1339,663 1342,667 1345,671 1347,673 1349,675 1351,678 1355,683 1359,687 1362,691 1366,695 1370,699 1375,703 1379,707 1383,710 1385,711 1391,714 1394,715 1399,717 1403,717 1407,717 1411,717 1415,716 1419,715 1423,714 1427,712 1430,711 1435,709 1439,707 1443,705 1446,703 1451,700 1453,699 1455,698 1459,695 1463,693 1466,691 1471,688 1475,685 1478,683 1483,679 1487,676 1489,675 1491,674 1495,671 1499,668 1503,665 1506,663 1511,659 1515,656 1519,653 1522,651 1527,648 1531,645 1533,643 1539,639 1543,636 1545,635 1547,634 1551,631 1555,629 1558,627 1563,624 1567,622 1571,620 1575,618 1579,616 1582,615 1587,613 1591,611 1595,610 1599,608 1603,606 1607,604 1611,602 1615,600 1617,599 1623,596 1626,595 1631,593 1635,592 1639,591 1643,590 1647,589 1651,589 1655,589 1659,589 1663,589 1667,589 1671,590 1675,591 1679,592 1683,593 1687,595 1691,597 1694,599 1699,603 1703,606 1707,611 1710,615 1713,619 1715,623 1716,627 1718,631 1719,634 1720,639 1721,643 1722,647 1722,651 1722,655 1722,659 1722,663 1722,667 1722,671 1721,675 1721,679 1720,683 1720,687 1719,691 1718,695 1717,699 1717,703 1716,707 1715,711 1713,715 1712,719 1711,723 1710,727 1709,731 1708,735 1706,739 1705,743 1704,747 1702,751 1701,755 1699,759 1698,763 1696,767 1695,769 1692,775 1691,778 1689,783 1687,786 1684,791 1683,793 1679,799 1676,803 1675,805 1673,807 1671,810 1667,814 1663,818 1659,822 1655,825 1653,827 1651,829 1648,831 1643,834 1639,837 1635,839 1631,841 1627,843 1623,844 1619,846 1615,847 1611,848 1607,849 1603,850 1599,851 1595,851 1591,852 1587,852 1583,852 1579,852 1575,852 1571,852 1567,852 1563,851 1560,851 1555,850 1551,849 1547,849 1543,848 1541,847 1535,845 1531,844 1528,843 1523,841 1519,840 1515,838 1511,837 1507,835 1503,833 1499,831 1495,829 1491,827 1487,825 1483,823 1479,821 1476,819 1471,816 1467,814 1463,811 1459,809 1456,807 1451,803 1447,801 1445,799 1439,795 1435,792 1431,789 1428,787 1423,784 1419,781 1416,779 1411,776 1407,773 1403,771 1399,770 1395,768 1391,767 1387,766 1383,766 1379,765 1375,765 1371,766 1367,766 1363,767 1359,768 1355,768 1351,769 1347,770 1343,771 1339,772 1335,773 1331,774 1327,775 1323,776 1319,776 1315,777 1311,778 1308,779 1303,780 1299,781 1295,782 1291,783 1287,783 1283,784 1279,785 1275,786 1271,787 1267,788 1263,788 1259,789 1255,790 1251,791 1247,792 1243,793 1239,794 1235,794 1231,795 1227,796 1223,797 1219,798 1216,799 1211,800 1207,802 1203,803 1199,804 1195,805 1191,806 1188,807 1183,809 1179,810 1176,811 1171,813 1167,814 1163,816 1159,817 1155,819 1151,820 1147,822 1144,823 1139,825 1135,827 1131,829 1127,830 1123,832 1119,834 1117,835 1111,838 1109,839 1103,842 1101,843 1095,846 1091,848 1087,850 1083,853 1079,855 1075,857 1073,859 1067,863 1063,865 1060,867 1055,871 1051,874 1049,875 1047,877 1044,879 1039,883 1035,886 1031,890 1027,894 1023,895 1019,895 1015,895 1011,895 1007,895 1003,895 999,895 995,895 998,891 999,889 1003,883 1006,879 1010,875 1013,871 1015,869 1017,867 1019,865 1021,863 1023,861 1025,859 1027,857 1029,855 1031,853 1033,851 1038,847 1042,843 1047,839 1051,835 1055,832 1059,828 1063,825 1065,823 1067,821 1070,819 1075,815 1079,811 1083,808 1087,805 1089,803 1091,802 1094,799 1099,795 1103,792 1107,789 1109,787 1111,785 1114,783 1118,779 1123,775 1127,771 1131,768 1135,764 1139,760 1143,756 1147,751 1150,747 1153,743 1155,741 1158,735 1160,731 1162,727 1163,724 1164,719 1165,715 1164,711 1164,707 1163,704 1161,699 1159,695 1157,691 1155,688 1151,683 1147,679 1143,675 1139,671 1135,668 1131,664 1127,661 1125,659 1119,655 1115,652 1111,649 1108,647 1103,644 1099,641 1096,639 1091,636 1089,635 1083,632 1081,631 1075,628 1072,627 1067,625 1063,624 1059,623 1055,622 1051,621 1047,621 1043,620 1039,620 1035,620 1031,620 1027,620 1023,620 1019,620 1015,621 1011,621 1007,622 1003,623 999,624 995,625 991,626 987,627 983,629 979,630 975,632 971,634 968,635 963,637 959,639 955,640 951,641 947,643 943,644 939,645 935,646 931,647 927,648 923,648 919,649 915,649 911,650 907,650 903,650 899,650 895,649 891,649 887,648 883,647 879,647 875,646 871,645 867,644 863,644 859,643 855,643 851,642 847,642 843,641 839,641 835,641 831,641 827,641 823,641 819,641 815,641 811,642 807,642 803,643 799,643 795,644 791,644 787,645 783,646 779,647 775,647 771,648 767,649 763,650 759,650 755,649 751,649 747,648 743,647 740,647 735,646 731,646 727,645 723,645 719,644 715,644 711,644 707,644 703,644 699,644 695,644 691,643 687,643 683,643 679,642 675,641 671,640 668,639 663,637 659,636 655,634 651,632 648,631 643,629 640,627 635,623 631,620 629,619 627,617 624,615 619,611 615,607 611,603 607,599 604,595 603,593 602,591 600,587 599,585 598,579 597,575 597,571 598,567 599,564 601,559 603,555 605,551 607,547 609,543 611,540 613,535 615,531 616,527 616,523 616,519 615,515 613,511 611,508 607,504 603,499 599,495 595,492 591,489 589,487 587,485 584,483 579,479 575,475 571,471 568,467 564,463 563,461 562,459 560,455 559,451 559,447 561,443 563,439 567,435 570,431 573,427 575,425 579,420 583,417 585,415 587,414 591,411 595,408 597,407 603,404 606,403 611,401 615,399 619,398 623,397 627,395 631,394 635,393 639,392 643,391 647,390 651,389 655,388 659,387 663,386 667,385 671,384 675,382 679,380 682,379 687,377 690,375 695,373 699,371 703,369 707,368 711,366 715,364 718,363 723,361 727,359 731,357 735,356 738,355 743,353 747,352 751,352 755,351 759,351 763,351 767,353 771,355 773,359 775,362 777,367 779,371 781,375 783,377 785,379 787,382 791,385 793,387 799,390 803,392 807,393 811,394 815,394 819,393 823,392 825,391 831,388 833,387 835,386 838,383 843,379 847,376 851,373 853,371 855,369 858,367 863,363 867,360 869,359 875,355 879,353 883,352 887,350 891,349 895,348 899,348 903,348 907,349 911,350 915,351 919,352 923,353 927,354 931,356 935,357 939,358 943,359 946,359 951,360 955,360 959,360 963,359 967,359 971,359 975,358 979,357 983,356 986,355 991,354 995,352 999,351 1003,349 1007,348 1009,347 1015,345 1019,343 1023,341 1027,340 1031,338 1035,336 1039,334 1043,332 1045,331 1051,328 1054,327 1059,325 1063,323 1067,322 1071,320 1073,319 1079,317 1083,315 1087,314 1091,313 1095,312 1099,311 1103,310 1107,309 1111,309 1115,309 1119,308 1123,308 1127,308 1131,308 1135,308 1139,308 1143,309 1147,309 1151,309 1155,310 1159,310 1163,310 1167,311 1170,311 1175,311 1179,311 1183,311 1187,311 1191,310 1195,309 1199,308 1203,307 1207,306 1211,304 1213,303 1219,300 1223,297 1226,295 1231,291 1235,287 1237,283 1239,279 1240,275 1241,271 1241,267 1241,263 1241,259 1240,255 1239,252 1236,247 1235,245 1231,240 1227,236 1223,233 1220,231 1215,228 1213,227 1207,224 1204,223 1199,221 1195,220 1191,218 1187,217 1183,215 1179,214 1175,212 1172,211 1167,209 1163,208 1160,207 1155,205 1151,204 1147,203 1143,202 1139,201 1135,200 1131,199 1127,198 1123,197 1119,196 1115,195 1111,194 1107,193 1103,192 1099,191 1095,190 1091,189 1087,188 1084,187 1079,185 1075,184 1072,183 1067,181 1063,179 1059,177 1055,176 1051,173 1047,171 1043,169 1040,167 1035,163 1031,160 1027,156 1024,151 1022,147 1021,143 1020,139 1020,135 1021,131 1022,127 1023,123 1024,119 1026,115 1027,112 1029,107 1031,103 1033,99 1035,95 1037,91 1039,87 1041,83 1043,79 1045,75 1047,71 1049,67 1051,63 1053,59 1055,55 1057,51 1059,48 1061,43 1063,40 1066,35 1067,32 1070,27 1071,25 1072,23 1074,19 1076,15 1079,11ZM751,539 750,543 751,545 755,547 759,544 761,539 755,538 751,539ZM1647,603 1643,604 1639,606 1636,607 1631,609 1627,611 1623,613 1620,615 1615,618 1613,619 1611,620 1607,623 1603,625 1599,627 1595,629 1591,631 1587,633 1584,635 1579,639 1575,642 1571,645 1569,647 1567,649 1565,651 1563,653 1561,655 1559,657 1557,659 1555,661 1554,663 1551,666 1547,671 1544,675 1543,677 1542,679 1539,683 1536,687 1535,689 1532,695 1530,699 1528,703 1526,707 1524,711 1523,714 1521,719 1520,723 1519,727 1519,731 1518,735 1518,739 1518,743 1518,747 1519,751 1519,755 1520,759 1522,763 1523,766 1526,771 1527,773 1531,779 1534,783 1538,787 1542,791 1547,795 1551,798 1553,799 1559,802 1563,804 1567,806 1570,807 1575,809 1579,810 1583,811 1586,811 1591,812 1595,812 1599,812 1603,812 1607,812 1611,811 1615,811 1619,810 1623,809 1627,807 1631,806 1635,804 1638,803 1643,800 1645,799 1647,798 1651,795 1655,792 1659,788 1661,787 1663,785 1665,783 1667,780 1671,776 1675,771 1677,767 1679,765 1682,759 1685,755 1687,751 1689,747 1691,743 1693,739 1695,735 1697,731 1698,727 1700,723 1701,719 1703,715 1704,711 1705,707 1707,703 1708,699 1709,695 1710,691 1711,687 1711,683 1712,679 1712,675 1713,671 1713,667 1713,663 1713,659 1713,655 1713,651 1712,647 1711,643 1710,639 1709,635 1707,631 1705,627 1703,624 1699,619 1696,615 1691,611 1687,608 1685,607 1679,604 1675,603 1671,602 1667,602 1663,601 1659,601 1655,602 1651,602 1647,603Z" fill="#ffdbdb" stroke="#ffdbdb" stroke-width="1.2" fill-rule="evenodd"/>
<path d="M1059,9 1060,7 1067,7 1071,7 1075,7 1079,7 1079,10 1076,15 1075,18 1072,23 1071,25 1070,27 1068,31 1066,35 1064,39 1061,43 1059,47 1057,51 1055,55 1053,59 1051,63 1049,67 1047,71 1045,75 1043,79 1041,83 1039,86 1037,91 1035,95 1033,99 1031,103 1029,107 1028,111 1026,115 1024,119 1023,123 1022,127 1021,131 1020,135 1020,139 1021,143 1022,147 1023,150 1026,155 1030,159 1035,163 1039,166 1043,169 1047,171 1051,173 1054,175 1059,177 1062,179 1067,181 1071,183 1075,184 1079,185 1083,187 1087,188 1091,189 1095,190 1099,191 1103,192 1107,193 1111,194 1114,195 1119,196 1123,197 1127,198 1131,199 1135,200 1139,201 1143,202 1147,203 1151,204 1155,205 1159,207 1163,208 1167,209 1171,211 1175,212 1179,214 1183,215 1187,217 1191,218 1193,219 1199,221 1203,223 1207,224 1211,226 1215,228 1219,230 1223,233 1226,235 1230,239 1234,243 1236,247 1239,251 1240,255 1241,259 1241,263 1241,267 1241,271 1240,275 1239,279 1237,283 1235,286 1231,291 1227,295 1223,297 1221,299 1215,302 1211,304 1207,306 1203,307 1199,308 1195,309 1191,310 1187,311 1183,311 1179,311 1175,311 1171,311 1167,311 1163,310 1159,310 1155,310 1151,309 1147,309 1143,309 1139,308 1135,308 1131,308 1127,308 1123,308 1119,308 1115,309 1111,309 1107,309 1103,310 1099,311 1095,312 1091,313 1087,314 1084,315 1079,317 1075,318 1071,320 1067,322 1064,323 1059,325 1055,327 1051,328 1047,330 1043,332 1039,334 1037,335 1031,338 1028,339 1023,341 1019,343 1015,345 1011,346 1007,348 1003,349 999,351 995,352 991,354 987,355 983,356 979,357 975,358 971,359 968,359 963,359 959,360 955,360 951,360 947,359 943,359 939,358 935,357 931,356 927,354 923,353 919,352 916,351 911,350 907,349 903,348 899,348 895,348 891,349 887,350 885,351 879,353 876,355 871,358 867,360 863,363 859,366 855,369 853,371 851,373 848,375 844,379 839,383 835,386 833,387 831,388 827,390 823,392 819,393 815,394 811,394 807,393 803,392 800,391 795,388 791,385 788,383 785,379 783,377 781,375 779,371 777,367 775,363 773,359 771,355 767,353 763,351 759,351 755,351 751,352 747,352 743,353 739,355 735,356 731,357 727,359 723,361 719,362 715,364 711,366 708,367 703,369 699,371 695,373 691,375 687,377 683,378 679,380 675,382 672,383 667,385 663,386 660,387 655,388 651,389 647,390 644,391 639,392 635,393 631,394 628,395 623,397 619,398 616,399 611,401 607,402 603,404 599,406 595,408 591,411 587,414 585,415 583,417 580,419 576,423 573,427 571,429 567,434 563,439 561,443 559,446 559,451 560,455 562,459 563,461 564,463 567,466 571,471 575,475 579,479 583,482 587,485 589,487 591,489 594,491 599,495 603,499 607,503 610,507 613,511 615,514 616,519 616,523 616,527 615,530 613,535 611,539 609,543 607,547 605,551 603,554 601,559 599,563 598,567 597,571 597,575 598,579 598,583 600,587 602,591 603,593 604,595 607,598 611,603 615,607 619,611 623,614 627,617 629,619 631,620 634,623 639,626 643,629 647,631 651,632 655,634 657,635 663,637 667,639 671,640 675,641 679,642 683,643 686,643 691,643 695,644 699,644 703,644 707,644 711,644 715,644 719,644 723,645 727,645 731,646 735,646 739,647 743,647 747,648 751,649 755,649 759,650 763,650 767,649 771,648 775,647 779,647 783,646 787,645 791,644 795,644 799,643 803,643 807,642 811,642 815,641 819,641 823,641 827,641 831,641 835,641 839,641 843,641 847,642 851,642 855,643 858,643 863,644 867,644 871,645 875,646 879,647 883,647 887,648 891,649 895,649 899,650 903,650 907,650 911,650 915,649 919,649 923,648 927,648 930,647 935,646 939,645 943,644 946,643 951,641 955,640 958,639 963,637 967,636 971,634 975,632 977,631 983,629 987,627 991,626 995,625 999,624 1002,623 1007,622 1011,621 1015,621 1019,620 1023,620 1027,620 1031,620 1035,620 1039,620 1043,620 1047,621 1051,621 1055,622 1059,623 1063,624 1067,625 1071,627 1075,628 1079,630 1083,632 1087,634 1091,636 1095,639 1099,641 1102,643 1107,646 1111,649 1114,651 1119,655 1123,658 1127,661 1129,663 1134,667 1139,671 1143,675 1147,679 1151,683 1154,687 1157,691 1159,694 1161,699 1163,703 1164,707 1164,711 1165,715 1164,719 1163,723 1162,727 1160,731 1159,734 1156,739 1153,743 1151,746 1147,751 1144,755 1140,759 1136,763 1132,767 1128,771 1123,775 1119,778 1115,782 1111,785 1109,787 1107,789 1104,791 1099,795 1095,798 1091,802 1089,803 1087,805 1084,807 1080,811 1075,815 1071,818 1067,821 1065,823 1063,825 1060,827 1056,831 1051,835 1047,839 1043,842 1039,846 1035,850 1031,853 1029,855 1027,857 1025,859 1023,861 1021,863 1019,865 1017,867 1015,869 1013,871 1011,874 1007,878 1003,883 1000,887 998,891 995,895 991,895 987,895 983,895 979,895 975,895 977,891 979,887 981,883 983,880 986,875 989,871 991,868 994,863 997,859 999,857 1000,855 1003,852 1007,847 1010,843 1011,841 1013,839 1015,836 1019,831 1022,827 1025,823 1027,821 1028,819 1031,816 1035,811 1038,807 1041,803 1043,800 1047,795 1050,791 1053,787 1055,784 1059,779 1061,775 1063,773 1067,767 1069,763 1071,760 1074,755 1075,753 1076,751 1078,747 1080,743 1082,739 1083,735 1084,731 1085,727 1086,723 1087,719 1087,715 1087,711 1087,707 1087,703 1086,699 1085,695 1084,691 1082,687 1080,683 1079,681 1078,679 1075,675 1073,671 1071,669 1069,667 1067,664 1063,660 1059,656 1057,655 1055,653 1052,651 1047,648 1043,645 1039,643 1035,642 1031,640 1027,639 1023,639 1019,638 1015,638 1011,638 1007,638 1003,638 999,639 995,640 991,642 987,644 983,647 979,649 976,651 971,653 967,655 963,656 959,658 955,659 951,660 947,661 943,663 939,664 935,665 931,666 927,666 923,667 919,667 915,668 911,668 907,668 903,667 899,667 895,666 891,666 887,665 883,664 879,663 875,663 871,662 867,661 863,661 859,661 855,660 851,660 847,660 843,660 839,660 835,660 831,660 827,661 823,661 819,661 815,661 811,661 807,661 803,661 799,661 795,661 791,661 787,661 783,661 779,661 775,660 771,660 767,660 763,660 759,660 755,660 751,660 747,660 743,661 739,661 735,661 731,662 727,662 723,662 719,663 715,664 711,664 707,665 703,665 699,666 695,666 691,667 687,667 683,668 679,668 675,668 671,669 667,669 663,669 659,668 655,668 651,667 647,666 643,665 639,663 635,661 631,660 627,658 623,657 619,656 615,655 611,654 607,654 603,653 599,653 595,653 591,653 587,652 583,652 579,652 575,652 571,651 567,651 563,650 559,649 555,647 551,645 547,643 543,641 540,639 535,636 531,634 527,631 523,628 521,627 519,625 517,623 515,621 513,619 511,617 509,615 507,613 505,611 503,609 501,607 499,605 497,603 495,601 493,599 491,597 489,595 487,592 483,588 479,584 477,583 475,582 471,580 467,578 463,576 459,573 456,571 451,567 447,565 444,563 439,559 437,555 441,551 446,547 449,543 451,540 454,535 455,532 457,527 457,523 457,519 457,515 456,511 453,507 451,504 447,499 443,496 439,492 437,491 435,489 431,487 427,485 424,483 419,481 415,479 411,477 408,475 403,472 400,471 395,469 391,467 387,465 385,463 383,461 382,459 380,455 379,451 379,447 379,443 380,439 381,435 382,431 384,427 386,423 389,419 391,416 395,411 398,407 401,403 403,399 404,395 406,391 407,388 409,383 410,379 412,375 413,371 415,367 416,363 418,359 419,356 420,351 422,347 423,343 423,339 424,335 424,331 424,327 423,323 422,319 421,315 421,311 420,307 419,304 418,299 417,295 417,291 417,287 416,283 417,279 417,275 418,271 419,267 420,263 422,259 423,256 426,251 427,249 431,243 434,239 438,235 442,231 445,227 447,225 449,223 454,219 459,216 463,214 467,212 471,210 475,209 479,208 483,208 487,208 491,208 495,208 499,208 503,209 507,210 511,211 515,212 519,213 522,215 527,217 530,219 535,223 539,226 543,230 547,234 551,239 554,243 557,247 559,250 562,255 565,259 567,262 571,267 575,271 579,275 583,279 586,283 589,287 591,291 594,295 595,297 599,303 602,307 605,311 607,313 609,315 611,317 614,319 619,323 623,325 626,327 631,329 635,331 639,332 643,334 647,335 651,336 655,337 659,338 663,339 667,339 671,340 675,340 679,340 683,340 687,339 691,339 695,339 699,338 703,338 707,337 711,336 715,335 719,335 723,334 727,333 731,333 735,333 739,332 743,332 747,332 751,332 755,333 759,334 763,335 767,336 771,337 775,339 779,342 783,346 787,351 791,355 795,359 799,362 803,364 807,366 811,367 814,367 819,367 823,366 827,365 831,364 833,363 839,360 843,358 847,355 851,352 855,349 857,347 859,346 862,343 867,339 871,336 875,333 877,331 883,328 887,326 891,326 895,325 899,325 903,326 907,326 911,327 915,328 919,328 923,329 927,330 930,331 935,332 939,333 943,333 947,334 951,334 955,335 959,335 963,335 967,334 971,334 975,333 979,333 983,332 986,331 991,330 995,329 999,328 1003,327 1007,326 1011,325 1015,324 1019,322 1023,321 1027,319 1031,317 1035,315 1039,313 1043,311 1047,309 1051,307 1055,305 1059,304 1063,302 1067,300 1071,298 1075,297 1079,295 1083,294 1087,293 1091,292 1095,292 1099,291 1103,291 1107,291 1111,291 1115,292 1119,292 1123,293 1127,293 1131,294 1135,295 1139,296 1143,296 1147,297 1151,298 1155,299 1159,299 1163,300 1167,300 1171,301 1175,301 1179,301 1183,301 1187,300 1191,300 1194,299 1199,297 1203,296 1207,294 1211,292 1215,289 1217,287 1219,285 1221,283 1223,280 1225,275 1227,271 1227,268 1227,263 1226,259 1225,255 1223,251 1220,247 1217,243 1215,242 1212,239 1207,236 1203,234 1199,232 1195,230 1191,228 1188,227 1183,225 1179,224 1175,223 1171,222 1167,221 1163,220 1159,219 1156,219 1151,218 1147,218 1143,217 1139,217 1135,217 1131,217 1127,216 1123,216 1119,216 1115,216 1111,216 1107,215 1103,215 1099,214 1095,214 1091,213 1087,212 1083,211 1079,210 1075,208 1071,207 1067,205 1063,204 1059,202 1055,200 1051,198 1047,195 1043,193 1040,191 1035,188 1031,186 1027,183 1023,180 1019,176 1017,175 1015,173 1013,171 1011,169 1009,167 1007,164 1004,159 1002,155 1000,151 1000,147 1000,143 1000,139 1001,135 1002,131 1003,127 1004,123 1006,119 1007,115 1009,111 1011,107 1012,103 1014,99 1016,95 1018,91 1020,87 1022,83 1024,79 1026,75 1028,71 1030,67 1032,63 1034,59 1036,55 1038,51 1040,47 1042,43 1044,39 1046,35 1048,31 1050,27 1052,23 1054,19 1056,15 1058,11ZM355,542 359,542 362,543 367,547 370,551 373,555 374,559 374,563 371,566 369,567 367,568 363,570 359,573 358,579 361,583 363,585 365,591 365,595 365,599 363,603 361,607 359,610 355,614 351,617 347,618 343,618 339,617 335,617 331,616 327,614 323,613 319,611 315,608 313,607 311,605 310,603 308,599 307,596 307,591 309,587 311,584 315,580 319,577 321,575 327,571 331,567 335,563 339,559 341,555 343,552 347,547 351,544 355,542ZM419,558 422,559 418,559ZM1651,602 1655,602 1659,601 1663,601 1667,602 1671,602 1675,603 1679,604 1683,606 1687,608 1691,611 1695,614 1699,618 1702,623 1705,627 1707,631 1709,635 1710,639 1711,643 1712,647 1713,651 1713,655 1713,659 1713,663 1713,667 1713,671 1712,675 1712,679 1711,683 1711,687 1710,691 1709,695 1708,699 1707,702 1705,707 1704,711 1703,714 1701,719 1700,723 1698,727 1697,731 1695,735 1693,739 1691,743 1689,747 1687,751 1685,755 1683,758 1680,763 1677,767 1675,770 1672,775 1668,779 1665,783 1663,785 1661,787 1659,788 1656,791 1651,795 1647,798 1645,799 1643,800 1639,802 1635,804 1631,806 1628,807 1623,809 1619,810 1615,811 1611,811 1607,812 1603,812 1599,812 1595,812 1591,812 1587,811 1583,811 1579,810 1575,809 1571,807 1567,806 1563,804 1561,803 1555,800 1551,798 1547,795 1543,792 1539,788 1535,784 1531,779 1528,775 1526,771 1524,767 1522,763 1520,759 1519,755 1519,751 1518,747 1518,743 1518,739 1518,735 1519,731 1519,727 1520,723 1521,719 1523,715 1524,711 1526,707 1527,704 1530,699 1531,696 1534,691 1536,687 1539,683 1542,679 1543,677 1544,675 1547,671 1550,667 1554,663 1555,661 1557,659 1559,657 1561,655 1563,653 1565,651 1567,649 1569,647 1571,645 1573,643 1579,639 1583,636 1587,633 1591,631 1595,629 1598,627 1603,625 1606,623 1611,620 1613,619 1615,618 1619,615 1623,613 1627,611 1631,609 1635,607 1639,606 1643,604 1647,603 1651,602ZM1649,615 1643,617 1639,619 1635,621 1631,623 1627,625 1624,627 1619,630 1617,631 1615,632 1611,635 1607,638 1603,641 1601,643 1599,644 1596,647 1592,651 1589,655 1587,657 1583,663 1581,667 1579,670 1577,675 1575,679 1574,683 1572,687 1571,691 1570,695 1570,699 1569,703 1569,707 1568,711 1568,715 1568,719 1568,723 1569,727 1569,731 1570,735 1571,738 1573,743 1575,747 1577,751 1579,754 1583,758 1587,762 1591,765 1595,767 1599,769 1603,771 1607,772 1611,772 1615,773 1619,773 1623,773 1627,772 1631,772 1635,771 1639,769 1643,767 1647,765 1651,763 1655,760 1659,757 1661,755 1666,751 1669,747 1671,745 1673,743 1675,740 1679,735 1682,731 1683,729 1686,723 1688,719 1690,715 1692,711 1694,707 1695,705 1697,699 1698,695 1700,691 1701,687 1702,683 1702,679 1703,675 1703,671 1704,667 1704,663 1704,659 1703,655 1703,651 1702,647 1701,643 1699,639 1697,635 1695,631 1692,627 1688,623 1683,619 1679,617 1675,615 1671,614 1667,613 1663,613 1659,613 1655,613 1651,614 1649,615ZM559,879 563,879 567,879 571,879 575,879 579,880 583,881 587,882 591,883 595,884 599,886 603,889 605,891 607,893 609,895 603,895 599,895 595,895 591,895 587,895 583,895 579,895 575,895 571,895 567,895 563,895 559,895 555,895 551,895 547,895 543,895 539,895 535,895 531,895 527,895 523,895 519,895 515,895 511,895 507,895 503,895 507,892 510,891 515,889 519,888 523,886 527,885 531,884 534,883 539,882 543,881 547,880 551,880 555,879 559,879Z" fill="#ffc8c8" stroke="#ffc8c8" stroke-width="1.2" fill-rule="evenodd"/>
<path d="M175,7 179,7 183,7 187,7 191,7 195,7 199,7 203,7 207,7 211,7 215,7 219,7 223,7 227,7 231,7 235,7 239,7 243,7 247,7 251,7 255,7 259,7 263,7 267,7 271,7 275,7 279,7 283,7 287,7 291,7 295,7 299,7 303,7 307,7 311,7 315,7 319,7 323,7 327,7 331,7 335,7 339,7 343,11 346,15 349,19 351,23 354,27 355,29 356,31 359,35 362,39 365,43 367,45 371,50 375,54 377,55 379,57 382,59 387,63 391,65 393,67 395,68 398,71 402,75 406,79 409,83 411,86 415,91 418,95 421,99 423,101 424,103 427,106 431,110 435,113 438,115 443,117 447,119 451,120 455,120 459,121 463,122 467,122 471,122 475,123 479,123 483,123 487,124 491,124 495,124 499,124 503,124 507,125 511,125 515,125 519,125 523,125 527,125 531,124 535,124 539,124 543,124 547,124 551,124 555,124 559,125 563,126 567,127 571,128 575,129 579,131 583,132 587,134 591,136 595,139 599,142 603,145 604,147 607,150 611,155 613,159 615,163 617,167 619,171 620,175 621,179 621,183 622,187 622,191 622,195 623,199 623,203 624,207 624,211 625,215 626,219 627,223 627,227 628,231 628,235 629,239 629,243 629,247 630,251 631,255 632,259 634,263 637,267 639,269 641,271 643,273 645,275 647,278 651,282 655,286 659,289 661,291 663,293 666,295 671,298 675,301 679,303 683,304 687,305 691,306 695,307 699,307 703,308 707,308 711,308 715,309 719,309 723,310 727,311 731,311 735,312 739,313 743,314 747,315 751,316 755,318 759,320 763,322 767,325 770,327 775,330 779,333 781,335 783,336 786,339 791,343 795,346 797,347 803,350 807,351 811,352 815,352 819,351 823,351 827,349 831,347 835,345 839,343 843,340 847,337 849,335 851,333 854,331 858,327 863,323 867,319 871,316 875,313 879,311 883,310 887,309 891,308 895,308 899,308 903,308 907,309 911,309 915,310 919,311 923,312 927,312 931,313 935,314 939,315 942,315 947,316 951,316 955,316 959,316 963,316 967,316 971,316 975,316 979,315 983,315 987,314 991,313 995,312 999,311 1003,310 1007,309 1011,307 1015,306 1019,304 1023,302 1027,300 1031,297 1035,295 1039,292 1043,289 1046,287 1051,283 1055,279 1059,276 1063,272 1067,268 1071,263 1073,259 1075,255 1074,251 1073,247 1071,244 1067,239 1063,235 1059,231 1055,228 1051,224 1047,221 1045,219 1043,218 1040,215 1035,211 1031,208 1027,205 1025,203 1023,201 1020,199 1016,195 1011,191 1007,187 1003,183 1000,179 997,175 995,172 992,167 991,165 989,159 988,155 987,151 987,147 987,143 987,139 988,135 988,131 989,127 990,123 991,121 993,115 994,111 996,107 997,103 999,99 1001,95 1003,91 1005,87 1006,83 1008,79 1010,75 1012,71 1014,67 1015,65 1018,59 1019,57 1022,51 1023,48 1025,43 1027,40 1029,35 1031,31 1033,27 1035,23 1036,19 1038,15 1040,11 1042,7 1047,7 1051,7 1055,7 1059,7 1058,11 1056,15 1055,17 1052,23 1051,25 1048,31 1047,34 1044,39 1043,42 1040,47 1039,50 1036,55 1035,57 1032,63 1031,65 1028,71 1027,73 1024,79 1023,81 1020,87 1019,89 1016,95 1015,97 1012,103 1011,106 1009,111 1007,115 1006,119 1004,123 1003,127 1002,131 1001,135 1000,139 1000,143 1000,147 1000,151 1002,155 1003,158 1006,163 1009,167 1011,169 1013,171 1015,173 1017,175 1019,176 1022,179 1027,183 1031,186 1033,187 1039,191 1043,193 1046,195 1051,198 1054,199 1059,202 1062,203 1067,205 1071,207 1075,208 1079,210 1083,211 1087,212 1091,213 1095,214 1099,214 1103,215 1107,215 1111,216 1115,216 1119,216 1123,216 1127,216 1131,217 1135,217 1139,217 1143,217 1147,218 1151,218 1155,219 1159,219 1163,220 1167,221 1171,222 1175,223 1179,224 1183,225 1187,227 1191,228 1195,230 1198,231 1203,234 1206,235 1211,238 1215,242 1217,243 1219,245 1223,251 1225,255 1226,259 1227,263 1227,267 1227,271 1225,275 1224,279 1221,283 1219,285 1217,287 1215,289 1212,291 1207,294 1203,296 1199,297 1195,299 1191,300 1187,300 1183,301 1179,301 1175,301 1171,301 1167,300 1163,300 1159,299 1156,299 1151,298 1147,297 1143,296 1139,296 1136,295 1131,294 1127,293 1123,293 1119,292 1115,292 1111,291 1107,291 1103,291 1099,291 1095,292 1091,292 1087,293 1083,294 1080,295 1075,297 1071,298 1067,300 1063,302 1060,303 1055,305 1052,307 1047,309 1044,311 1039,313 1036,315 1031,317 1027,319 1023,321 1019,322 1017,323 1011,325 1007,326 1004,327 999,328 995,329 991,330 987,331 983,332 979,333 975,333 971,334 967,334 963,335 959,335 955,335 951,334 947,334 943,333 939,333 935,332 931,331 927,330 923,329 919,328 915,328 912,327 907,326 903,326 899,325 895,325 891,326 887,326 883,328 879,330 875,333 872,335 867,339 863,342 859,346 857,347 855,349 852,351 847,355 843,358 841,359 835,362 831,364 827,365 823,366 819,367 815,367 811,367 807,366 803,364 801,363 795,359 791,355 787,351 784,347 781,343 775,339 771,337 767,336 764,335 759,334 755,333 751,332 747,332 743,332 739,332 735,333 731,333 727,333 723,334 719,335 715,335 711,336 707,337 703,338 699,338 695,339 692,339 687,339 683,340 679,340 675,340 671,340 667,339 663,339 659,338 655,337 651,336 647,335 643,334 639,332 635,331 631,329 627,327 623,325 619,323 615,320 611,317 609,315 607,313 605,311 603,308 599,303 596,299 594,295 591,291 589,287 587,284 583,279 579,275 575,271 571,267 568,263 565,259 563,256 559,251 557,247 555,244 551,239 548,235 544,231 540,227 535,223 531,220 527,217 523,215 519,213 515,212 512,211 507,210 503,209 499,208 495,208 491,208 487,208 483,208 479,208 475,209 471,210 467,212 463,214 460,215 455,218 451,222 447,225 445,227 443,230 439,234 435,238 431,243 428,247 426,251 423,255 422,259 420,263 419,266 418,271 417,275 417,279 416,283 417,287 417,291 417,295 418,299 419,303 420,307 421,311 421,315 422,319 423,322 424,327 424,331 424,335 423,339 423,343 422,347 420,351 419,355 418,359 416,363 415,366 413,371 412,375 410,379 409,383 407,387 406,391 404,395 403,398 401,403 399,406 395,411 392,415 389,419 387,422 384,427 383,429 381,435 380,439 379,443 379,447 379,451 380,455 382,459 383,461 385,463 387,465 391,467 395,469 399,471 403,472 407,474 411,477 415,479 419,481 423,483 427,485 431,487 435,489 437,491 439,492 442,495 447,499 450,503 453,507 455,510 457,515 457,519 457,523 457,527 455,531 454,535 452,539 449,543 447,546 443,550 439,554 438,559 443,562 447,565 450,567 455,570 459,573 462,575 467,578 469,579 475,582 477,583 479,584 482,587 486,591 489,595 491,597 493,599 495,601 497,603 499,605 501,607 503,609 505,611 507,613 509,615 511,617 513,619 515,621 517,623 519,625 521,627 523,628 527,631 531,634 534,635 539,638 543,641 547,643 551,645 555,647 559,649 563,650 567,651 571,651 575,652 579,652 583,652 587,652 591,653 595,653 599,653 603,653 607,654 611,654 614,655 619,656 623,657 627,658 630,659 635,661 639,663 643,665 647,666 650,667 655,668 659,668 663,669 667,669 671,669 675,668 679,668 683,668 687,667 691,667 695,666 699,666 703,665 707,665 711,664 715,664 719,663 723,662 727,662 731,662 735,661 739,661 743,661 747,660 751,660 755,660 759,660 763,660 767,660 771,660 775,660 779,661 783,661 787,661 791,661 795,661 799,661 803,661 807,661 811,661 815,661 819,661 823,661 827,661 831,660 835,660 839,660 843,660 847,660 851,660 855,660 859,661 863,661 867,661 871,662 875,663 879,663 883,664 887,665 891,666 895,666 899,667 903,667 907,668 911,668 915,668 919,667 922,667 927,666 931,666 935,665 939,664 942,663 947,661 951,660 955,659 959,658 963,656 967,655 971,653 975,651 979,649 983,647 987,644 989,643 995,640 998,639 1003,638 1007,638 1011,638 1015,638 1019,638 1023,639 1027,639 1031,640 1035,642 1038,643 1043,645 1046,647 1051,650 1055,653 1057,655 1059,656 1062,659 1066,663 1069,667 1071,669 1073,671 1075,674 1078,679 1079,681 1080,683 1082,687 1083,690 1085,695 1086,699 1087,703 1087,707 1087,711 1087,715 1087,719 1086,723 1085,727 1084,731 1083,735 1082,739 1080,743 1079,745 1076,751 1075,753 1074,755 1072,759 1069,763 1067,766 1064,771 1061,775 1059,778 1056,783 1053,787 1051,789 1047,795 1044,799 1041,803 1039,805 1035,811 1032,815 1028,819 1027,821 1025,823 1023,826 1019,831 1016,835 1013,839 1011,841 1010,843 1007,846 1003,851 1000,855 999,857 997,859 995,862 992,867 989,871 987,874 984,879 981,883 979,887 977,891 975,894 971,895 967,895 963,895 959,895 958,891 961,887 963,883 965,879 967,876 970,871 972,867 975,863 977,859 979,856 982,851 983,849 984,847 987,843 989,839 991,836 994,831 995,829 996,827 998,823 1001,819 1003,815 1005,811 1007,807 1009,803 1011,799 1013,795 1015,791 1016,787 1018,783 1019,780 1021,775 1022,771 1024,767 1025,763 1026,759 1027,755 1028,751 1028,747 1029,743 1029,739 1029,735 1029,731 1029,727 1029,723 1028,719 1027,715 1026,711 1024,707 1021,703 1019,700 1015,696 1011,693 1007,691 1003,689 999,687 995,686 991,684 987,683 983,682 979,681 975,680 971,680 967,680 963,680 959,680 955,681 951,682 947,683 943,683 939,684 935,685 931,685 927,686 923,686 919,686 915,686 911,685 907,685 903,684 899,683 895,682 891,681 887,680 883,679 879,678 875,677 871,676 867,676 863,675 859,675 855,675 851,675 847,675 843,675 839,675 835,676 831,676 827,677 823,677 819,678 815,678 811,678 807,678 803,678 799,677 795,677 791,676 787,675 783,674 779,673 775,673 771,672 768,671 763,670 759,670 755,671 751,671 747,672 743,673 739,674 736,675 731,676 727,677 723,679 719,680 715,681 711,682 708,683 703,685 699,686 695,687 691,688 687,690 683,691 679,692 675,694 671,695 667,696 663,697 659,698 656,699 651,700 647,700 643,700 639,700 637,699 631,697 627,695 623,693 619,691 615,689 611,688 607,686 603,685 599,685 595,684 591,684 587,684 583,684 579,685 575,685 571,686 567,688 563,689 559,690 556,691 551,692 547,693 543,695 539,696 535,697 531,699 527,701 523,703 519,704 515,706 512,707 507,709 503,710 499,710 495,710 491,709 487,707 483,705 481,703 479,700 477,695 477,691 476,687 475,683 475,679 475,675 474,671 474,667 473,663 472,659 471,655 470,651 469,647 467,644 464,639 463,637 461,635 459,632 455,628 451,625 448,623 443,620 441,619 435,617 431,616 427,615 423,615 419,614 415,615 411,615 407,616 403,617 399,618 396,619 391,621 387,622 383,624 379,626 375,628 371,630 367,632 363,634 360,635 355,636 351,637 347,637 343,637 339,637 335,636 331,637 327,637 323,637 319,638 315,639 311,639 307,640 303,641 299,641 295,642 291,641 287,641 283,640 279,639 275,638 271,638 267,637 263,637 259,637 255,637 251,637 247,637 243,637 239,637 235,636 231,635 227,634 223,633 219,632 215,630 211,629 207,627 203,626 199,625 195,624 191,622 187,621 183,620 179,619 175,618 171,616 171,611 171,607 171,603 171,599 171,595 171,591 171,587 171,583 171,579 171,575 171,571 171,567 171,563 171,559 171,555 171,551 171,547 171,543 171,539 171,535 171,531 171,527 171,523 171,519 171,515 171,511 171,507 171,503 171,499 171,495 171,491 171,487 171,483 171,479 171,475 171,471 171,467 171,463 171,459 171,455 171,451 171,447 171,443 171,439 171,435 171,431 171,427 171,423 171,419 171,415 171,411 171,407 171,403 171,399 171,395 171,391 171,387 171,383 171,379 171,375 171,371 171,367 171,363 171,359 171,355 171,351 171,347 171,343 171,339 171,335 171,331 171,327 171,323 171,319 171,315 171,311 171,307 171,303 171,299 171,295 171,291 171,287 171,283 171,279 171,275 171,271 171,267 171,263 171,259 171,255 171,251 171,247 171,243 171,239 171,235 171,231 171,227 171,223 171,219 171,215 171,211 171,207 171,203 171,199 171,195 171,191 171,187 171,183 171,179 171,175 171,171 171,167 171,163 171,159 171,155 171,151 171,147 171,143 171,139 171,135 171,131 171,127 171,123 171,119 171,115 171,111 171,107 171,103 171,99 171,95 171,91 171,87 171,83 171,79 171,75 171,71 171,67 171,63 171,59 171,55 171,51 171,47 171,43 171,39 171,35 171,31 171,27 171,23 171,19 171,15 171,11 171,7 175,7ZM1141,235 1135,237 1131,238 1127,240 1123,242 1119,245 1116,247 1113,251 1112,255 1113,259 1115,262 1119,266 1123,269 1125,271 1127,272 1131,275 1135,277 1138,279 1143,282 1146,283 1151,285 1155,286 1159,288 1163,289 1167,289 1171,290 1175,290 1179,290 1183,290 1187,289 1191,288 1195,287 1199,285 1202,283 1207,279 1210,275 1211,273 1213,267 1213,263 1212,259 1210,255 1207,251 1203,247 1199,244 1195,241 1191,239 1187,238 1183,236 1179,235 1175,234 1171,234 1167,233 1163,233 1159,233 1155,233 1151,233 1147,234 1143,235ZM352,543 347,547 344,551 341,555 339,558 335,563 331,567 327,571 323,574 319,577 316,579 312,583 309,587 307,591 307,594 308,599 310,603 311,605 313,607 315,608 319,611 323,613 327,614 331,616 335,617 339,617 343,618 347,618 351,617 354,615 358,611 361,607 363,603 365,599 365,595 365,591 364,587 361,583 359,580 358,575 362,571 367,568 369,567 371,566 374,563 374,559 373,555 371,552 367,547 363,544 359,542 355,542 352,543ZM418,559 422,559 419,558ZM1651,614 1655,613 1659,613 1663,613 1667,613 1671,614 1675,615 1679,617 1683,619 1687,622 1691,626 1695,631 1697,635 1699,638 1701,643 1702,647 1703,651 1703,655 1704,659 1704,663 1704,667 1703,671 1703,675 1702,679 1702,683 1701,687 1700,691 1698,695 1697,699 1696,703 1694,707 1692,711 1691,714 1688,719 1687,722 1684,727 1682,731 1679,735 1676,739 1673,743 1671,745 1669,747 1667,750 1663,754 1659,757 1657,759 1651,763 1647,765 1644,767 1639,769 1635,771 1631,772 1627,772 1623,773 1619,773 1615,773 1611,772 1607,772 1604,771 1599,769 1595,767 1591,765 1588,763 1584,759 1580,755 1577,751 1575,747 1573,743 1571,739 1570,735 1569,731 1569,727 1568,723 1568,719 1568,715 1568,711 1569,707 1569,703 1570,699 1570,695 1571,691 1572,687 1574,683 1575,679 1577,675 1579,671 1581,667 1583,663 1586,659 1589,655 1591,652 1595,648 1599,644 1601,643 1603,641 1606,639 1611,635 1615,632 1617,631 1619,630 1623,627 1627,625 1631,623 1635,621 1639,619 1643,617 1647,615 1651,614ZM1646,627 1643,628 1639,630 1635,632 1631,635 1627,637 1624,639 1620,643 1615,647 1612,651 1609,655 1607,658 1604,663 1602,667 1601,671 1600,675 1599,678 1598,683 1598,687 1599,691 1599,694 1600,699 1600,703 1601,707 1602,711 1604,715 1605,719 1607,722 1611,727 1615,731 1619,734 1623,736 1627,737 1631,738 1635,738 1639,738 1643,737 1647,736 1649,735 1655,732 1657,731 1659,730 1663,727 1667,723 1671,719 1674,715 1677,711 1679,709 1682,703 1685,699 1687,695 1688,691 1690,687 1691,683 1692,679 1693,675 1693,671 1694,667 1694,663 1693,659 1693,655 1692,651 1691,647 1689,643 1687,639 1684,635 1683,633 1681,631 1675,627 1671,625 1667,624 1663,624 1659,624 1655,624 1651,625 1647,626ZM519,843 523,842 527,841 531,841 535,840 539,840 543,840 547,840 551,840 555,840 559,840 563,841 567,842 571,842 575,843 579,844 583,845 587,846 591,848 595,849 598,851 603,853 606,855 611,858 615,861 617,863 619,865 622,867 626,871 630,875 631,877 633,879 635,882 639,887 642,891 645,895 639,895 635,895 631,895 627,895 623,895 619,895 615,895 611,895 607,893 605,891 603,889 600,887 595,884 592,883 587,882 583,881 579,880 575,879 571,879 567,879 563,879 559,879 555,879 551,880 547,880 543,881 539,882 535,883 531,884 527,885 523,886 521,887 515,889 511,891 507,892 503,894 499,895 495,895 491,895 487,895 483,895 479,895 475,895 471,895 467,895 463,895 459,895 455,895 451,895 447,895 443,895 439,895 435,895 431,895 427,895 423,895 419,895 415,895 419,893 423,891 427,889 431,887 435,885 439,883 443,881 446,879 451,876 453,875 459,872 463,869 467,867 471,865 474,863 479,860 483,858 487,856 491,853 495,852 499,850 503,848 506,847 511,845 515,844 518,843ZM175,886 179,887 183,888 187,890 190,891 195,893 199,894 195,895 191,895 187,895 183,895 179,895 175,895 171,895 171,891 171,887 175,886Z" fill="#ffb6b6" stroke="#ffb6b6" stroke-width="1.2" fill-rule="evenodd"/>
<path d="M343,7 347,7 351,7 355,7 359,7 363,7 367,7 371,7 375,7 379,7 383,7 387,7 391,7 395,7 399,7 403,7 407,7 411,7 415,7 419,7 423,7 427,7 431,7 435,7 439,7 443,7 447,7 451,7 455,7 459,7 463,7 467,7 471,7 475,7 479,7 483,7 487,7 491,7 495,7 499,7 503,7 507,7 511,7 515,7 519,7 523,7 527,7 531,7 535,7 539,7 543,7 547,7 551,7 555,7 559,7 563,7 567,7 571,7 575,7 579,7 583,7 587,7 591,7 595,7 599,7 603,7 607,7 611,7 615,7 619,7 623,7 627,7 631,7 635,7 639,7 643,7 647,7 651,8 655,11 659,14 663,18 667,23 670,27 673,31 675,34 677,39 679,43 680,47 681,51 682,55 682,59 683,63 683,66 683,71 683,75 683,79 683,83 683,87 682,91 682,95 681,99 679,103 677,107 675,111 673,115 671,119 670,123 669,127 668,131 667,135 667,139 668,143 669,147 670,151 673,155 675,158 679,162 683,165 687,167 691,169 695,171 699,173 702,175 707,179 709,183 710,187 711,190 711,195 711,199 711,203 711,207 711,211 710,215 710,219 710,223 709,227 709,231 709,235 710,239 711,243 712,247 714,251 717,255 723,258 727,260 731,263 735,265 738,267 742,271 743,273 746,279 748,283 751,287 753,291 755,293 759,299 763,303 766,307 769,311 771,313 772,315 775,318 779,323 782,327 786,331 791,335 795,337 799,338 803,339 807,339 811,339 814,339 819,338 823,336 825,335 831,332 835,329 838,327 842,323 847,319 851,315 855,312 859,308 861,307 863,305 866,303 871,300 873,299 879,297 883,295 887,294 891,294 895,293 899,293 903,294 907,294 911,294 915,295 919,295 923,296 927,297 931,297 935,298 939,299 943,299 947,300 951,300 955,300 959,301 963,301 967,301 971,301 975,300 979,300 983,299 987,299 991,298 995,296 999,295 1003,293 1007,292 1011,289 1014,287 1019,283 1023,279 1027,275 1030,271 1031,268 1033,263 1034,259 1035,255 1034,251 1034,247 1032,243 1031,240 1028,235 1027,233 1023,227 1020,223 1016,219 1013,215 1011,213 1009,211 1007,209 1005,207 1003,205 999,200 995,195 992,191 989,187 987,184 984,179 983,177 980,171 979,167 978,163 977,159 976,155 976,151 976,147 976,143 976,139 976,135 977,131 978,127 978,123 980,119 981,115 982,111 983,108 985,103 986,99 988,95 989,91 991,87 993,83 994,79 996,75 998,71 999,68 1001,63 1003,59 1005,55 1007,51 1008,47 1010,43 1012,39 1014,35 1015,32 1017,27 1019,23 1020,19 1022,15 1023,12 1025,7 1031,7 1035,7 1039,7 1040,11 1039,13 1036,19 1035,22 1033,27 1031,31 1029,35 1027,39 1025,43 1024,47 1022,51 1020,55 1018,59 1016,63 1014,67 1012,71 1011,73 1008,79 1007,82 1005,87 1003,90 1001,95 999,99 997,103 996,107 995,109 993,115 991,119 990,123 989,127 988,131 988,135 987,139 987,143 987,147 987,150 988,155 989,159 990,163 992,167 994,171 997,175 999,178 1003,183 1007,187 1011,191 1015,195 1019,198 1023,201 1025,203 1027,205 1030,207 1035,211 1039,214 1043,218 1045,219 1047,221 1050,223 1054,227 1059,231 1063,235 1067,239 1070,243 1073,247 1074,251 1075,255 1073,259 1071,263 1068,267 1064,271 1060,275 1055,279 1051,283 1047,286 1043,289 1040,291 1035,295 1031,297 1028,299 1023,302 1021,303 1015,306 1012,307 1007,309 1003,310 1000,311 995,312 991,313 987,314 983,315 980,315 975,316 971,316 967,316 963,316 959,316 955,316 951,316 947,316 943,315 939,315 935,314 931,313 927,312 923,312 920,311 915,310 911,309 907,309 903,308 899,308 895,308 891,308 887,309 883,310 880,311 875,313 873,315 867,319 863,323 859,326 855,330 851,333 849,335 847,337 844,339 839,343 835,345 832,347 827,349 823,351 819,351 815,352 811,352 808,351 803,350 799,348 795,346 791,343 787,340 783,336 781,335 779,333 776,331 771,327 767,325 764,323 759,320 757,319 751,316 747,315 743,314 739,313 735,312 731,311 727,311 723,310 719,309 715,309 711,308 707,308 703,308 699,307 695,307 691,306 687,305 683,304 680,303 675,301 672,299 667,296 663,293 661,291 659,289 656,287 652,283 648,279 645,275 643,273 641,271 639,269 637,267 635,264 632,259 631,255 630,251 629,247 629,243 629,239 628,235 628,231 627,227 627,224 626,219 625,215 624,211 624,207 623,203 623,199 622,195 622,191 622,187 621,183 621,179 620,175 619,172 617,167 615,163 613,159 611,156 608,151 604,147 603,145 600,143 595,139 591,136 589,135 583,132 580,131 575,129 571,128 568,127 563,126 559,125 555,124 551,124 547,124 543,124 539,124 535,124 531,124 527,125 523,125 519,125 515,125 511,125 507,125 503,124 499,124 495,124 491,124 487,124 483,123 479,123 475,123 471,122 467,122 463,122 459,121 455,120 451,120 448,119 443,117 439,116 435,113 432,111 428,107 424,103 423,101 421,99 419,96 415,91 412,87 409,83 407,81 403,76 399,72 395,68 393,67 391,65 387,63 383,60 379,57 377,55 375,54 372,51 368,47 365,43 363,41 359,35 356,31 355,29 354,27 351,23 349,19 347,17 343,11 340,7ZM1143,235 1147,234 1151,233 1155,233 1159,233 1163,233 1167,233 1171,234 1175,234 1178,235 1183,236 1187,238 1190,239 1195,241 1198,243 1203,247 1207,251 1210,255 1211,257 1213,263 1213,267 1212,271 1210,275 1207,279 1203,282 1199,285 1195,287 1191,288 1187,289 1183,290 1179,290 1175,290 1171,290 1167,289 1163,289 1159,288 1155,286 1151,285 1147,283 1143,282 1139,280 1135,277 1131,275 1127,272 1125,271 1123,269 1120,267 1116,263 1113,259 1112,255 1113,251 1115,248 1119,245 1121,243 1127,240 1131,238 1135,237 1139,236 1143,235ZM1161,251 1159,253 1157,255 1155,259 1155,263 1157,267 1159,269 1161,271 1163,272 1167,275 1171,276 1175,277 1179,277 1183,276 1187,275 1191,272 1195,267 1195,263 1194,259 1191,255 1187,252 1183,250 1179,249 1175,248 1171,248 1167,249 1163,250ZM415,615 419,614 423,615 426,615 431,616 435,617 439,618 443,620 447,622 451,625 454,627 458,631 461,635 463,637 464,639 467,643 469,647 470,651 471,654 472,659 473,663 474,667 474,671 475,675 475,678 475,683 476,687 477,691 477,695 479,699 481,703 483,705 486,707 491,709 495,710 499,710 503,710 507,709 511,708 515,706 519,704 522,703 527,701 531,699 535,697 539,696 542,695 547,693 551,692 555,691 559,690 563,689 567,688 571,686 575,685 579,685 583,684 587,684 591,684 595,684 599,685 603,685 607,686 611,688 615,689 619,691 623,693 627,695 631,697 635,698 639,700 643,700 647,700 651,700 655,699 659,698 663,697 667,696 670,695 675,694 679,692 683,691 687,690 691,688 695,687 699,686 703,685 707,683 711,682 715,681 719,680 721,679 727,677 731,676 735,675 739,674 743,673 747,672 751,671 755,671 759,670 763,670 767,671 771,672 775,673 779,673 783,674 786,675 791,676 795,677 799,677 803,678 807,678 811,678 815,678 819,678 823,677 827,677 831,676 835,676 839,675 843,675 847,675 851,675 855,675 859,675 863,675 867,676 871,676 875,677 879,678 883,679 887,680 891,681 895,682 898,683 903,684 907,685 911,685 915,686 919,686 923,686 927,686 931,685 935,685 939,684 943,683 947,683 951,682 955,681 959,680 963,680 967,680 971,680 975,680 979,681 983,682 987,683 991,684 995,686 998,687 1003,689 1007,691 1011,693 1014,695 1018,699 1021,703 1023,706 1026,711 1027,715 1028,719 1029,723 1029,727 1029,731 1029,735 1029,739 1029,743 1028,747 1028,751 1027,754 1026,759 1025,763 1024,767 1022,771 1021,775 1019,779 1018,783 1016,787 1015,790 1013,795 1011,799 1009,803 1007,807 1005,811 1003,815 1001,819 999,822 996,827 995,829 994,831 991,835 989,839 987,842 984,847 983,849 982,851 979,855 977,859 975,862 972,867 971,869 968,875 965,879 963,883 961,887 959,890 956,895 951,895 947,895 943,895 939,895 941,891 943,887 946,883 947,881 950,875 953,871 955,867 957,863 959,860 962,855 963,852 966,847 967,845 970,839 971,837 974,831 975,828 977,823 979,819 980,815 982,811 983,808 985,803 986,799 987,795 988,791 989,787 989,783 990,779 990,775 991,771 991,767 991,763 990,759 990,755 989,751 988,747 987,744 985,739 983,735 981,731 979,729 975,724 971,721 969,719 967,718 963,715 959,713 955,712 952,711 947,710 943,709 939,708 935,708 931,707 927,706 923,706 919,705 915,704 911,703 907,702 903,701 899,700 895,698 891,696 889,695 883,693 879,691 875,690 871,689 867,688 863,687 859,687 855,687 851,687 847,688 843,688 839,689 835,690 831,691 827,692 823,692 819,693 815,694 811,694 807,694 803,694 799,693 795,693 791,692 787,691 783,690 779,689 775,688 771,687 767,686 763,686 759,686 755,686 751,687 747,688 743,689 739,690 735,692 731,693 727,695 723,697 719,698 715,700 711,702 709,703 703,706 700,707 695,710 692,711 687,714 684,715 679,717 676,719 671,721 667,723 663,724 659,725 655,726 651,727 647,727 643,727 639,727 635,726 631,725 627,724 624,723 619,720 616,719 611,716 609,715 607,714 603,712 599,710 595,709 591,708 587,707 583,707 579,707 575,708 571,710 568,711 563,714 561,715 555,719 551,723 547,727 544,731 541,735 539,737 535,743 533,747 531,751 529,755 528,759 527,762 526,767 527,771 528,775 531,779 535,783 539,786 543,789 547,791 551,793 555,795 559,797 563,799 567,800 571,802 574,803 579,805 583,806 587,808 591,810 594,811 599,814 602,815 607,818 611,821 614,823 619,826 623,830 627,833 629,835 631,837 632,839 635,842 639,846 643,851 646,855 649,859 651,862 655,867 658,871 659,873 660,875 663,879 666,883 669,887 671,891 674,895 671,895 667,895 663,895 659,895 655,895 651,895 647,895 643,892 639,887 636,883 633,879 631,877 630,875 627,872 623,868 619,865 617,863 615,861 612,859 607,856 603,853 599,851 595,849 591,848 587,846 583,845 579,844 575,843 571,842 567,842 563,841 559,840 555,840 551,840 547,840 543,840 539,840 535,840 531,841 527,841 523,842 519,843 515,844 511,845 507,846 503,848 499,850 496,851 491,853 488,855 483,858 481,859 475,862 471,865 467,867 463,869 460,871 455,874 451,876 447,879 443,881 439,883 435,885 431,887 427,889 424,891 419,893 415,895 411,895 407,895 403,895 399,895 395,895 391,895 387,895 383,895 379,895 375,895 371,895 367,895 363,895 359,895 355,895 351,895 347,895 343,895 339,895 335,895 331,895 327,895 323,895 319,895 315,895 311,895 307,895 303,895 299,895 295,895 291,895 287,895 283,895 279,895 275,895 271,895 267,895 263,895 259,895 255,895 251,895 247,895 243,895 239,895 235,895 231,895 227,895 223,895 219,895 215,895 211,895 207,895 203,895 199,894 195,893 191,891 187,890 183,888 179,887 175,886 171,885 171,879 171,875 171,871 171,867 171,863 171,859 171,855 171,851 171,847 171,843 171,839 171,835 171,831 175,831 179,832 183,834 187,836 191,838 195,840 199,842 203,844 207,846 211,848 215,850 217,851 223,854 226,855 231,857 235,859 239,861 243,863 247,864 251,866 255,867 259,868 263,870 267,871 271,872 275,873 279,874 283,875 287,876 291,877 295,877 299,878 303,878 307,879 311,879 315,879 319,879 323,879 327,879 331,879 335,879 339,879 343,878 347,878 351,877 355,877 359,876 362,875 367,874 371,873 375,872 379,870 383,869 387,868 391,866 395,864 398,863 403,861 406,859 411,857 414,855 419,852 423,850 427,847 431,844 435,841 438,839 443,835 447,832 451,828 455,825 457,823 459,821 461,819 463,817 465,815 467,812 471,808 475,803 477,799 479,796 482,791 484,787 485,783 486,779 485,775 485,771 483,767 481,763 479,759 477,755 475,752 472,747 470,743 467,739 465,735 463,731 462,727 460,723 458,719 457,715 455,711 454,707 453,703 452,699 451,695 451,691 450,687 449,683 448,679 447,676 446,671 444,667 443,664 440,659 439,657 435,651 431,647 427,644 423,641 419,640 416,639 411,638 407,638 403,638 399,638 395,638 391,639 387,639 383,640 379,641 375,641 371,642 367,643 363,644 359,644 355,645 351,645 347,645 343,646 339,646 335,647 331,648 327,649 323,650 319,652 315,654 311,657 307,659 303,661 299,663 295,664 291,665 287,666 283,666 279,666 275,665 271,664 267,664 263,665 259,665 255,666 252,667 247,668 243,669 239,669 235,670 231,670 227,670 223,669 219,669 215,668 212,667 207,666 203,665 199,663 195,662 191,661 187,660 184,659 179,658 175,657 171,657 171,651 171,647 171,643 171,639 171,635 171,631 171,627 171,623 171,619 171,616 175,618 178,619 183,620 187,621 191,622 195,624 199,625 203,626 206,627 211,629 215,630 218,631 223,633 227,634 231,635 235,636 239,637 243,637 247,637 251,637 255,637 259,637 263,637 267,637 271,638 275,638 277,639 283,640 287,641 291,641 295,642 299,641 303,641 307,640 311,639 315,639 319,638 323,637 327,637 331,637 335,636 339,637 343,637 347,637 351,637 355,636 359,635 363,634 367,632 371,630 375,628 377,627 383,624 386,623 391,621 395,619 399,618 403,617 407,616 411,615 415,615ZM1647,626 1651,625 1655,624 1659,624 1663,624 1667,624 1671,625 1675,627 1679,630 1683,633 1684,635 1687,639 1689,643 1691,647 1692,651 1693,655 1693,659 1694,663 1694,667 1693,671 1693,675 1692,679 1691,682 1690,687 1688,691 1687,694 1685,699 1683,702 1680,707 1677,711 1675,714 1671,719 1667,723 1663,727 1659,730 1657,731 1655,732 1651,734 1647,736 1643,737 1639,738 1635,738 1631,738 1627,737 1623,736 1621,735 1615,731 1611,727 1608,723 1605,719 1604,715 1602,711 1601,707 1600,703 1600,699 1599,695 1599,691 1598,687 1598,683 1599,679 1600,675 1601,671 1602,667 1604,663 1606,659 1609,655 1611,652 1615,647 1619,643 1623,640 1627,637 1630,635 1635,632 1638,631 1643,628 1646,627ZM1649,635 1647,636 1643,638 1641,639 1639,640 1635,643 1631,647 1627,651 1625,655 1623,658 1621,663 1619,667 1619,671 1618,675 1618,679 1619,683 1620,687 1621,691 1623,695 1626,699 1627,701 1629,703 1631,705 1635,707 1639,709 1643,709 1647,709 1651,708 1655,707 1659,705 1662,703 1667,699 1670,695 1673,691 1675,688 1678,683 1679,680 1680,675 1681,671 1682,667 1682,663 1682,659 1681,655 1680,651 1679,648 1676,643 1672,639 1667,636 1663,634 1659,634 1655,634 1651,634Z" fill="#ffa4a4" stroke="#ffa4a4" stroke-width="1.2" fill-rule="evenodd"/>
<path d="M651,7 655,7 659,7 663,7 667,7 671,7 675,7 679,7 683,7 687,7 691,7 695,7 699,7 702,11 703,14 705,19 706,23 707,27 708,31 709,35 709,39 710,43 710,47 710,51 711,55 710,59 710,63 710,67 710,71 710,75 710,79 709,83 709,87 709,91 708,95 708,99 707,103 706,107 706,111 705,115 705,119 704,123 704,127 704,131 705,135 707,139 709,143 711,145 715,151 718,155 721,159 723,162 726,167 728,171 730,175 731,177 733,183 735,187 736,191 737,195 738,199 739,203 740,207 741,211 742,215 744,219 745,223 747,227 749,231 751,235 753,239 755,243 757,247 759,250 762,255 763,257 764,259 766,263 768,267 770,271 772,275 774,279 775,282 777,287 779,291 781,295 783,299 784,303 785,307 787,311 788,315 790,319 791,321 795,325 799,327 803,327 807,326 811,325 815,323 819,321 822,319 827,316 831,313 834,311 839,307 843,304 847,300 849,299 851,297 854,295 859,291 863,289 866,287 871,284 874,283 879,281 883,280 887,280 891,279 895,279 899,279 902,279 907,279 911,280 915,280 919,281 923,281 927,282 931,282 935,283 939,283 943,284 947,284 951,284 955,284 959,285 963,285 967,285 971,285 975,284 979,284 983,283 987,282 991,281 995,279 999,276 1003,272 1006,267 1008,263 1009,259 1010,255 1009,251 1009,247 1008,243 1006,239 1004,235 1002,231 999,227 997,223 995,221 991,215 988,211 985,207 983,203 980,199 979,197 978,195 976,191 974,187 972,183 971,181 969,175 968,171 967,167 966,163 966,159 965,155 965,151 965,147 965,143 965,139 966,135 966,131 967,127 968,123 969,119 970,115 971,111 972,107 973,103 974,99 976,95 977,91 979,87 980,83 982,79 983,76 985,71 986,67 988,63 990,59 991,56 993,51 994,47 996,43 998,39 999,35 1001,31 1002,27 1003,25 1005,19 1007,15 1008,11 1009,7 1015,7 1019,7 1023,7 1023,11 1022,15 1020,19 1019,22 1017,27 1015,31 1014,35 1012,39 1010,43 1008,47 1007,50 1005,55 1003,59 1001,63 1000,67 998,71 996,75 995,78 993,83 991,87 989,91 988,95 986,99 985,103 983,107 982,111 981,115 980,119 978,123 978,127 977,131 976,135 976,139 976,143 976,147 976,151 976,155 977,159 978,163 979,167 980,171 982,175 984,179 986,183 989,187 991,190 995,195 998,199 1002,203 1005,207 1007,209 1009,211 1011,213 1013,215 1015,218 1019,222 1023,227 1026,231 1028,235 1031,239 1032,243 1034,247 1034,251 1035,255 1034,259 1033,263 1032,267 1030,271 1027,275 1023,279 1019,283 1015,287 1011,289 1008,291 1003,293 999,295 995,296 991,298 987,299 983,299 979,300 975,300 971,301 967,301 963,301 959,301 955,300 951,300 947,300 943,299 939,299 935,298 931,297 927,297 923,296 919,295 916,295 911,294 907,294 903,294 899,293 895,293 891,294 887,294 884,295 879,297 875,298 871,300 867,303 863,305 861,307 859,308 856,311 851,315 847,319 843,322 839,326 835,329 832,331 827,334 823,336 819,338 815,339 811,339 807,339 803,339 799,338 795,337 791,335 787,332 783,328 779,323 776,319 772,315 771,313 769,311 767,308 763,303 759,299 756,295 753,291 751,287 748,283 747,280 744,275 742,271 739,268 735,265 732,263 727,260 724,259 719,256 715,253 712,247 711,244 710,239 709,235 709,231 709,227 710,223 710,219 710,215 711,211 711,207 711,203 711,199 711,195 711,191 710,187 709,183 707,179 703,175 699,173 695,171 691,169 687,167 683,165 680,163 676,159 673,155 671,152 669,147 668,143 667,139 667,135 668,131 669,127 670,123 671,120 673,115 675,112 677,107 679,104 681,99 682,95 682,91 683,87 683,84 683,79 683,75 683,71 683,67 683,63 682,59 682,55 681,51 680,47 679,43 677,39 675,35 673,31 671,28 667,23 664,19 660,15 655,11 651,8ZM1163,250 1167,249 1171,248 1175,248 1179,249 1183,250 1186,251 1191,255 1194,259 1195,262 1195,267 1193,271 1187,275 1183,276 1179,277 1175,277 1171,276 1168,275 1163,272 1161,271 1159,269 1157,267 1155,263 1155,259 1157,255 1159,253 1161,251ZM1651,634 1655,634 1659,634 1663,634 1667,636 1671,638 1675,642 1679,647 1680,651 1681,655 1682,659 1682,663 1682,667 1681,671 1680,675 1679,679 1678,683 1676,687 1673,691 1671,694 1667,699 1663,702 1659,705 1655,707 1651,708 1647,709 1643,709 1639,709 1635,707 1631,705 1629,703 1627,701 1626,699 1623,695 1621,691 1620,687 1619,684 1618,679 1618,675 1619,671 1619,667 1621,663 1622,659 1625,655 1627,652 1631,647 1635,643 1639,640 1641,639 1643,638 1647,636 1649,635ZM1647,647 1643,651 1641,655 1639,659 1638,663 1638,667 1639,671 1641,675 1643,678 1647,680 1651,681 1655,680 1659,677 1661,675 1663,673 1664,671 1666,667 1667,663 1667,659 1666,655 1664,651 1660,647 1655,645 1651,645 1647,647ZM391,639 395,638 399,638 403,638 407,638 411,638 415,639 419,640 423,641 426,643 431,647 435,651 438,655 440,659 442,663 444,667 446,671 447,675 448,679 449,683 450,687 451,691 451,695 452,699 453,703 454,707 455,709 457,715 458,719 460,723 462,727 463,730 465,735 467,738 470,743 471,745 474,751 477,755 479,759 481,763 483,767 485,771 485,775 486,779 485,783 484,787 482,791 480,795 477,799 475,802 472,807 468,811 465,815 463,817 461,819 459,821 457,823 455,825 452,827 448,831 443,835 439,838 435,841 433,843 427,847 423,850 421,851 415,854 411,857 407,859 403,861 399,863 395,864 391,866 389,867 383,869 379,870 375,872 371,873 367,874 363,875 359,876 355,877 351,877 347,878 343,878 339,879 335,879 331,879 327,879 323,879 319,879 315,879 311,879 307,879 303,878 299,878 295,877 291,877 287,876 283,875 279,874 275,873 271,872 267,871 263,870 259,868 255,867 251,866 247,864 244,863 239,861 235,859 231,857 227,856 223,854 219,852 215,850 211,848 209,847 203,844 201,843 195,840 192,839 187,836 184,835 179,832 176,831 171,829 171,823 171,819 171,815 171,811 171,807 171,803 171,799 171,795 171,791 171,787 171,783 171,779 171,775 171,771 171,767 171,763 171,759 171,755 171,751 171,747 171,743 171,739 171,735 171,731 171,727 171,723 171,719 171,715 171,711 171,707 171,703 171,699 171,695 171,691 171,687 171,683 171,679 171,675 171,671 171,667 171,663 171,659 175,657 179,658 183,659 187,660 191,661 195,662 198,663 203,665 207,666 211,667 215,668 219,669 223,669 227,670 231,670 235,670 239,669 243,669 247,668 251,667 255,666 259,665 263,665 267,664 271,664 275,665 279,666 283,666 287,666 291,665 295,664 298,663 303,661 306,659 311,657 314,655 319,652 322,651 327,649 331,648 333,647 339,646 343,646 347,645 351,645 355,645 359,644 363,644 367,643 371,642 375,641 379,641 383,640 387,639 391,639ZM336,655 331,658 329,659 327,660 324,663 319,667 315,671 311,675 307,679 303,683 299,686 295,690 293,691 291,692 287,695 283,697 279,699 275,701 271,703 267,705 263,707 259,709 255,711 251,712 247,714 243,716 239,718 236,719 231,721 227,722 223,724 219,726 216,727 211,730 207,733 205,735 203,739 202,743 202,747 202,751 203,755 204,759 206,763 208,767 210,771 213,775 215,778 219,783 222,787 226,791 230,795 234,799 239,803 243,807 247,810 251,813 254,815 259,818 263,821 267,823 271,825 275,827 279,829 283,831 287,832 291,834 295,835 299,836 303,837 307,838 311,839 315,840 319,840 323,841 327,841 331,841 335,841 339,841 343,841 347,840 351,840 355,839 359,838 363,837 367,836 371,835 375,834 379,832 382,831 387,829 390,827 395,824 397,823 403,819 407,816 411,813 413,811 415,809 417,807 419,805 421,803 423,800 427,795 429,791 431,788 433,783 435,779 436,775 437,771 438,767 438,763 439,759 439,755 439,751 439,747 439,743 438,739 438,735 437,731 437,727 436,723 436,719 435,715 434,711 434,707 433,703 432,699 431,695 430,691 429,687 427,683 426,679 424,675 421,671 419,668 415,664 411,660 409,659 403,656 399,655 395,654 391,653 387,653 383,652 379,652 375,652 371,652 367,652 363,652 359,652 355,652 351,652 347,652 343,653 339,654 336,655ZM751,687 755,686 759,686 763,686 767,686 771,687 775,688 779,689 783,690 787,691 791,692 795,693 799,693 803,694 807,694 811,694 815,694 819,693 823,692 827,692 830,691 835,690 839,689 843,688 847,688 851,687 855,687 859,687 863,687 867,688 871,689 875,690 879,691 883,693 887,694 891,696 895,698 898,699 903,701 907,702 910,703 915,704 919,705 923,706 927,706 931,707 935,708 939,708 943,709 947,710 951,711 955,712 959,713 962,715 967,718 969,719 971,721 974,723 978,727 981,731 983,735 985,739 987,743 988,747 989,751 990,755 990,759 991,763 991,767 991,771 990,775 990,779 989,783 989,787 988,791 987,794 986,799 985,803 983,807 982,811 980,815 979,819 977,823 975,827 974,831 972,835 970,839 968,843 966,847 964,851 962,855 959,859 957,863 955,867 953,871 951,874 948,879 946,883 943,887 941,891 939,894 935,895 931,895 927,895 923,895 920,895 923,891 925,887 927,885 928,883 931,879 933,875 935,873 938,867 941,863 943,859 945,855 947,851 949,847 951,843 953,839 954,835 956,831 958,827 959,823 960,819 961,815 962,811 963,807 964,803 965,799 965,795 966,791 966,787 966,783 965,779 965,775 964,771 963,767 962,763 961,759 959,756 956,751 953,747 951,744 947,740 943,737 940,735 935,732 931,730 927,728 923,726 919,724 916,723 911,721 907,719 903,717 899,715 895,713 891,711 887,708 885,707 879,704 875,702 871,701 867,699 863,699 859,698 855,698 851,699 848,699 843,700 839,701 835,702 832,703 827,704 823,705 819,706 815,707 811,707 807,708 803,708 799,708 795,708 791,708 787,707 784,707 779,706 775,706 771,705 767,705 763,705 759,705 755,706 751,707 747,708 743,709 739,710 735,712 731,714 729,715 723,718 719,720 715,723 711,725 708,727 703,730 699,733 696,735 691,738 687,741 684,743 679,747 675,750 671,753 668,755 663,759 659,763 655,766 651,771 649,775 647,779 647,783 646,787 647,791 648,795 649,799 650,803 651,806 653,811 655,815 657,819 659,823 660,827 663,831 665,835 667,839 669,843 671,847 673,851 675,854 678,859 679,861 680,863 683,867 685,871 687,874 690,879 693,883 695,886 699,891 702,895 695,895 691,895 687,895 683,895 679,895 675,895 671,891 669,887 667,885 663,879 660,875 659,873 658,871 655,867 652,863 649,859 647,856 643,851 640,847 636,843 632,839 631,837 629,835 627,833 624,831 620,827 615,823 611,821 608,819 603,816 599,814 595,812 591,810 587,808 584,807 579,805 575,803 571,802 567,800 564,799 559,797 555,795 551,793 547,791 543,789 540,787 535,783 531,779 528,775 527,771 526,767 527,763 528,759 529,755 531,751 533,747 535,744 538,739 541,735 543,732 547,727 551,723 555,719 559,716 563,714 567,711 571,710 575,708 579,707 583,707 587,707 591,708 595,709 599,710 603,712 607,714 609,715 611,716 615,718 619,720 623,722 627,724 631,725 635,726 638,727 643,727 647,727 650,727 655,726 659,725 663,724 666,723 671,721 675,719 679,717 683,716 687,714 691,712 695,710 699,708 703,706 707,704 711,702 715,700 717,699 723,697 727,695 731,693 735,692 739,690 743,689 747,688 750,687Z" fill="#ff9292" stroke="#ff9292" stroke-width="1.2" fill-rule="evenodd"/>
<path d="M703,7 707,7 711,7 715,7 719,7 723,7 727,7 728,11 728,15 729,19 729,23 729,27 730,31 730,35 730,39 730,43 731,47 731,51 730,55 730,59 730,63 730,67 730,71 730,75 729,79 729,83 729,87 729,91 729,95 728,99 728,103 728,107 728,111 728,115 729,119 729,123 730,127 731,131 732,135 733,139 735,143 736,147 738,151 740,155 742,159 743,162 745,167 747,171 748,175 750,179 751,182 753,187 755,191 756,195 758,199 759,202 761,207 763,211 764,215 766,219 768,223 771,227 773,231 775,235 777,239 779,242 782,247 784,251 787,255 789,259 791,262 794,267 797,271 799,274 803,279 807,283 811,287 815,289 819,291 823,291 826,291 831,289 835,287 839,285 841,283 847,279 851,277 854,275 859,272 862,271 867,269 871,267 875,266 879,265 883,264 887,264 891,264 895,263 899,263 903,264 907,264 911,264 915,265 919,265 923,265 927,266 931,266 935,267 939,267 943,267 947,267 951,266 955,266 959,265 963,264 967,264 971,262 975,260 977,259 979,257 981,251 982,247 981,243 980,239 979,235 978,231 976,227 975,224 973,219 971,216 969,211 967,207 965,203 963,199 962,195 960,191 959,187 958,183 957,179 956,175 956,171 955,167 955,163 954,159 954,155 954,151 954,147 954,143 955,139 955,135 956,131 956,127 957,123 958,119 959,115 960,111 961,107 962,103 963,99 964,95 966,91 967,87 968,83 970,79 971,76 973,71 974,67 975,64 977,59 978,55 980,51 981,47 983,43 984,39 985,35 987,31 988,27 989,23 991,19 992,15 993,11 994,7 999,7 1003,7 1007,7 1008,11 1007,14 1005,19 1004,23 1002,27 1001,31 999,35 998,39 996,43 995,46 993,51 991,55 990,59 988,63 987,66 985,71 983,75 982,79 980,83 979,86 977,91 976,95 974,99 973,103 972,107 971,110 970,115 969,119 968,123 967,126 966,131 966,135 965,139 965,143 965,147 965,151 965,155 966,159 966,163 967,167 968,171 969,175 970,179 972,183 974,187 975,190 978,195 979,197 980,199 983,203 985,207 987,209 991,215 994,219 997,223 999,227 1002,231 1003,233 1006,239 1007,242 1009,247 1009,251 1010,255 1009,259 1008,263 1007,266 1004,271 1000,275 995,279 991,281 987,282 984,283 979,284 975,284 971,285 967,285 963,285 959,285 955,284 951,284 947,284 943,284 939,283 935,283 931,282 927,282 923,281 919,281 915,280 911,280 907,279 903,279 899,279 895,279 891,279 887,280 883,280 879,281 875,283 871,284 867,286 863,289 859,291 855,294 851,297 849,299 847,300 844,303 839,307 835,310 831,313 828,315 823,319 819,321 815,323 811,325 807,326 803,327 799,327 795,325 792,323 790,319 788,315 787,312 785,307 784,303 783,300 781,295 779,291 777,287 776,283 774,279 772,275 770,271 768,267 767,265 764,259 763,257 762,255 760,251 757,247 755,243 753,239 751,236 749,231 747,228 745,223 744,219 742,215 741,211 740,207 739,203 738,199 737,195 736,191 735,189 733,183 732,179 730,175 728,171 727,169 724,163 721,159 719,156 715,151 712,147 709,143 707,139 705,135 704,131 704,127 704,123 705,119 705,115 706,111 706,107 707,103 708,99 708,95 709,91 709,87 709,83 710,79 710,75 710,71 710,67 710,63 710,59 711,55 710,51 710,47 710,43 709,39 709,35 708,31 707,27 706,23 705,19 703,15 702,11 700,7ZM1647,647 1651,645 1655,645 1659,646 1663,650 1666,655 1667,659 1667,663 1666,667 1664,671 1663,673 1661,675 1659,677 1656,679 1651,681 1647,680 1645,679 1641,675 1639,672 1638,667 1638,663 1639,660 1641,655 1643,651 1647,647ZM339,654 343,653 347,652 351,652 355,652 359,652 363,652 367,652 371,652 375,652 379,652 383,652 387,653 391,653 395,654 399,655 403,656 407,658 411,660 414,663 418,667 421,671 423,674 426,679 427,682 429,687 430,691 431,695 432,699 433,703 434,707 434,711 435,715 436,719 436,723 437,727 437,731 438,735 438,739 439,743 439,747 439,751 439,755 439,759 438,763 438,767 437,771 436,775 435,779 433,783 432,787 429,791 427,795 424,799 421,803 419,805 417,807 415,809 413,811 411,813 409,815 403,819 399,822 395,824 391,827 387,829 383,831 379,832 375,834 371,835 367,836 363,837 359,838 355,839 351,840 347,840 343,841 339,841 335,841 331,841 327,841 323,841 319,840 315,840 311,839 307,838 303,837 299,836 295,835 291,834 287,832 284,831 279,829 275,827 271,825 267,823 263,821 260,819 255,816 251,813 248,811 243,807 239,803 235,800 231,796 227,792 223,788 219,783 216,779 213,775 211,772 208,767 207,765 204,759 203,755 202,751 202,747 202,743 203,739 205,735 207,733 210,731 215,728 219,726 223,724 226,723 231,721 235,719 239,718 243,716 245,715 251,712 254,711 259,709 263,707 267,705 271,703 275,701 279,699 283,697 287,695 291,692 293,691 295,690 298,687 303,683 307,679 311,675 315,671 319,667 323,664 327,660 329,659 331,658 335,655 339,654ZM350,659 347,659 343,660 339,662 335,665 333,667 331,670 328,675 325,679 323,681 319,687 316,691 315,693 314,695 311,699 308,703 307,705 303,711 301,715 299,718 296,723 295,725 292,731 291,734 289,739 288,743 287,747 286,751 286,755 287,759 287,763 288,767 290,771 292,775 295,779 299,783 303,787 307,790 311,793 315,795 319,796 323,798 327,799 331,800 335,800 339,801 343,801 347,801 351,801 355,800 359,799 363,798 367,797 371,796 375,794 379,792 383,789 386,787 391,783 395,779 399,775 402,771 403,769 404,767 406,763 408,759 410,755 411,751 412,747 413,743 414,739 414,735 415,731 415,727 415,723 415,719 415,715 414,711 414,707 413,703 412,699 411,695 410,691 408,687 406,683 403,679 399,675 395,671 391,669 388,667 383,665 379,663 375,662 371,661 367,660 363,660 359,659 355,659 351,659ZM851,699 855,698 859,698 863,699 867,699 871,701 875,702 877,703 883,706 887,708 891,711 895,713 899,715 903,717 907,719 911,721 915,722 919,724 923,726 925,727 931,730 934,731 939,734 943,737 945,739 950,743 953,747 955,749 959,755 961,759 962,763 963,766 964,771 965,775 965,779 966,783 966,787 966,791 965,795 965,799 964,803 963,807 962,811 961,815 960,819 959,823 958,827 956,831 955,833 953,839 951,843 949,847 947,851 945,855 943,859 941,863 939,866 936,871 933,875 931,879 928,883 927,885 925,887 923,890 920,895 915,895 911,895 907,895 903,895 899,895 903,891 906,887 910,883 913,879 915,876 919,871 921,867 923,865 926,859 929,855 931,851 933,847 935,843 937,839 938,835 939,833 941,827 942,823 943,820 944,815 945,811 946,807 946,803 946,799 946,795 946,791 946,787 945,783 944,779 943,775 942,771 940,767 938,763 935,759 932,755 928,751 923,747 919,744 915,741 912,739 907,736 905,735 899,732 895,729 891,727 887,724 883,721 881,719 875,715 871,712 868,711 863,709 859,709 855,709 851,709 847,710 844,711 839,713 835,714 831,715 827,716 823,717 819,718 815,718 812,719 807,720 803,721 799,721 795,721 791,722 787,722 783,722 779,722 775,723 771,723 767,723 763,724 759,725 755,726 752,727 747,729 743,731 739,733 735,735 731,737 729,739 723,743 719,746 715,750 711,753 709,755 707,758 703,762 699,767 696,771 695,773 692,779 691,781 689,787 688,791 687,795 687,799 687,803 687,807 687,811 688,815 688,819 689,823 690,827 692,831 693,835 695,839 696,843 698,847 699,849 702,855 703,857 706,863 709,867 711,871 714,875 715,877 717,879 719,882 723,887 726,891 730,895 723,895 719,895 715,895 711,895 707,895 703,895 699,892 696,887 693,883 691,880 688,875 685,871 683,868 680,863 679,861 678,859 675,855 673,851 671,847 669,843 667,840 665,835 663,832 660,827 659,824 657,819 655,815 653,811 651,807 650,803 649,799 648,795 647,791 646,787 647,783 647,779 649,775 651,771 654,767 658,763 663,759 667,756 671,753 673,751 679,747 683,744 687,741 690,739 695,736 699,733 702,731 707,727 711,725 714,723 719,720 721,719 727,716 731,714 735,712 737,711 743,709 747,708 751,707 755,706 759,705 763,705 767,705 771,705 775,706 779,706 783,707 787,707 791,708 795,708 799,708 803,708 807,708 811,707 815,707 819,706 823,705 827,704 831,703 835,702 839,701 843,700 847,699 851,699Z" fill="#ff8080" stroke="#ff8080" stroke-width="1.2" fill-rule="evenodd"/>
<path d="M731,7 735,7 739,7 743,7 747,7 751,7 755,7 754,11 754,15 754,19 753,23 752,27 752,31 751,35 751,39 750,43 750,47 749,51 749,55 749,59 748,63 748,67 748,71 747,75 747,79 747,82 747,87 747,91 746,95 746,99 746,103 747,107 747,111 747,114 747,119 748,123 749,127 750,131 751,135 752,139 753,143 754,147 756,151 757,155 759,159 760,163 762,167 763,170 765,175 767,179 768,183 770,187 772,191 774,195 776,199 778,203 780,207 783,211 785,215 787,218 791,223 793,227 795,229 796,231 799,234 803,239 807,243 811,247 815,250 819,252 823,254 827,256 831,256 835,257 839,256 843,256 846,255 851,254 855,253 859,252 862,251 867,250 871,249 875,248 878,247 883,246 887,246 891,246 895,246 899,246 903,246 907,246 911,246 915,246 919,246 923,246 927,246 931,246 935,246 939,245 943,243 947,239 949,235 950,231 950,227 950,223 949,219 949,215 948,211 947,207 947,203 946,199 945,195 945,191 944,187 944,183 943,179 943,175 943,171 943,167 943,163 943,159 943,155 943,151 943,147 944,143 944,139 945,135 945,131 946,127 947,123 947,120 948,115 949,111 950,107 951,103 952,99 953,95 954,91 956,87 957,83 958,79 959,76 961,71 962,67 963,64 965,59 966,55 967,52 969,47 970,43 971,39 972,35 973,31 975,27 976,23 977,19 978,15 979,11 980,7 983,7 987,7 991,7 994,7 993,11 992,15 991,18 989,23 988,27 987,30 985,35 984,39 983,42 981,47 980,51 979,53 977,59 976,63 974,67 973,71 971,75 970,79 968,83 967,87 966,91 964,95 963,99 962,103 961,107 960,111 959,114 958,119 957,123 956,127 956,131 955,135 955,139 954,143 954,147 954,151 954,155 954,159 955,163 955,167 956,171 956,175 957,179 958,183 959,186 960,191 962,195 963,198 965,203 967,207 969,211 971,215 973,219 974,223 976,227 978,231 979,234 980,239 981,243 982,247 981,251 980,255 977,259 975,260 971,262 967,264 963,264 959,265 955,266 951,266 947,267 943,267 939,267 935,267 931,266 927,266 923,265 919,265 915,265 911,264 907,264 903,264 899,263 895,263 891,264 887,264 883,264 879,265 875,266 873,267 867,269 863,271 859,272 855,275 851,277 847,279 843,282 839,285 835,287 831,289 827,291 823,291 819,291 815,289 812,287 807,283 803,279 800,275 797,271 795,268 792,263 789,259 787,255 784,251 783,249 780,243 777,239 775,235 773,231 771,228 768,223 767,220 764,215 763,212 761,207 759,203 758,199 756,195 755,192 753,187 751,183 750,179 748,175 747,172 745,167 743,163 742,159 740,155 739,153 736,147 735,143 733,139 732,135 731,131 730,127 729,123 729,119 728,115 728,111 728,107 728,103 728,99 729,95 729,91 729,87 729,83 729,79 730,75 730,71 730,67 730,63 730,59 730,55 731,51 731,47 730,43 730,39 730,35 730,31 729,27 729,23 729,19 728,15 728,11 727,7 731,7ZM351,659 355,659 359,659 363,660 367,660 371,661 375,662 378,663 383,665 387,667 391,669 395,671 399,675 403,679 406,683 407,685 410,691 411,695 412,699 413,703 414,707 414,711 415,715 415,719 415,723 415,727 415,731 414,735 414,739 413,743 412,747 411,751 410,755 408,759 407,762 404,767 403,769 402,771 399,775 395,779 391,783 387,787 383,789 380,791 375,794 373,795 367,797 363,798 361,799 355,800 351,801 347,801 343,801 339,801 335,800 331,800 327,799 323,798 319,796 316,795 311,793 308,791 303,787 299,783 295,779 292,775 291,773 288,767 287,763 287,759 286,755 286,751 287,747 288,743 289,739 290,735 292,731 294,727 296,723 298,719 301,715 303,712 306,707 308,703 311,699 314,695 315,693 316,691 319,687 322,683 325,679 327,676 331,671 333,667 335,665 338,663 343,660 347,659 350,659ZM342,671 340,675 338,679 336,683 335,685 333,691 332,695 330,699 329,703 328,707 327,711 327,715 326,719 326,723 326,727 327,731 327,735 329,739 331,743 333,747 335,749 337,751 343,754 347,756 351,756 355,757 359,756 363,755 367,754 371,752 375,749 377,747 379,745 381,743 383,740 386,735 387,733 389,727 390,723 391,720 392,715 392,711 392,707 391,703 391,699 389,695 388,691 385,687 383,684 379,680 375,677 373,675 367,672 363,670 359,669 355,668 351,667 347,668 343,670ZM847,710 851,709 855,709 859,709 863,709 867,711 871,712 875,715 879,718 883,721 886,723 891,727 895,729 898,731 903,734 907,736 911,739 915,741 918,743 923,747 927,750 931,754 935,759 938,763 939,765 942,771 943,774 944,779 945,783 946,787 946,791 946,795 946,799 946,803 946,807 945,811 944,815 943,819 942,823 941,827 940,831 938,835 937,839 935,842 933,847 931,851 929,855 927,858 924,863 921,867 919,871 916,875 913,879 911,882 907,886 903,891 899,895 895,895 891,895 887,895 883,895 879,895 875,895 879,891 883,888 887,885 889,883 891,881 893,879 895,877 897,875 899,872 903,868 907,863 909,859 911,857 914,851 917,847 919,843 921,839 922,835 924,831 925,827 927,823 928,819 928,815 929,811 930,807 930,803 930,799 930,795 929,791 928,787 927,783 926,779 924,775 923,773 920,767 917,763 915,761 913,759 911,757 909,755 907,753 904,751 899,747 895,745 892,743 887,740 883,738 879,735 875,732 871,728 867,724 863,721 859,720 855,720 851,721 847,723 843,724 839,725 835,726 831,726 827,727 823,728 819,728 815,729 811,730 807,731 803,732 799,733 795,734 791,735 787,736 783,736 779,738 775,739 771,740 767,741 763,743 759,745 755,747 751,749 748,751 743,755 739,758 735,762 731,766 727,771 725,775 723,778 720,783 719,786 717,791 716,795 716,799 715,803 715,807 715,811 715,815 715,818 716,823 716,827 717,831 719,835 720,839 721,843 723,847 725,851 727,855 729,859 731,862 734,867 737,871 739,873 741,875 743,878 747,882 751,886 755,890 757,891 759,893 762,895 759,895 755,895 751,895 747,895 743,895 739,895 735,895 731,895 727,892 723,887 720,883 717,879 715,877 714,875 711,871 709,867 707,864 704,859 702,855 700,851 698,847 696,843 695,840 693,835 692,831 690,827 689,823 688,819 688,815 687,811 687,807 687,803 687,799 687,795 688,791 689,787 690,783 692,779 694,775 696,771 699,767 702,763 706,759 709,755 711,753 714,751 718,747 723,743 727,740 731,737 735,735 739,733 742,731 747,729 751,727 755,726 759,725 763,724 767,723 771,723 775,723 779,722 783,722 787,722 791,722 795,721 799,721 803,721 807,720 811,719 815,718 819,718 823,717 827,716 831,715 835,714 839,713 843,711 847,710Z" fill="#ff6d6d" stroke="#ff6d6d" stroke-width="1.2" fill-rule="evenodd"/>
<path d="M755,7 759,7 763,7 767,7 771,7 775,7 779,7 781,11 780,15 779,19 778,23 777,27 775,31 773,35 772,39 771,42 769,47 768,51 768,55 767,58 766,63 766,67 765,71 765,75 764,79 764,83 764,87 763,91 763,95 763,98 763,103 763,107 763,111 764,115 764,119 764,123 765,127 766,131 767,135 768,139 769,143 770,147 771,150 773,155 774,159 776,163 778,167 779,170 781,175 783,178 786,183 787,186 790,191 793,195 795,198 799,203 802,207 805,211 807,213 809,215 811,217 814,219 819,223 823,225 826,227 831,229 835,230 839,231 843,232 847,232 851,232 855,232 859,231 863,231 867,230 871,230 875,229 879,228 883,228 886,227 891,226 895,225 899,224 903,223 907,222 911,220 913,219 915,218 918,215 921,211 923,207 924,203 925,199 926,195 927,191 927,187 928,183 928,179 929,175 929,171 929,167 930,163 930,159 931,155 931,151 932,147 932,143 933,139 934,135 934,131 935,127 936,123 936,119 937,115 938,111 939,107 940,103 941,99 942,95 943,91 944,87 945,83 946,79 948,75 949,71 950,67 951,64 952,59 954,55 955,51 956,47 957,43 958,39 959,36 960,31 961,27 962,23 963,19 964,15 965,11 965,7 971,7 975,7 979,7 979,11 978,15 977,19 976,23 975,26 973,31 972,35 971,39 970,43 969,47 967,51 966,55 965,59 963,63 962,67 961,71 959,75 958,79 957,83 956,87 954,91 953,95 952,99 951,103 950,107 949,111 948,115 947,119 947,123 946,127 945,131 945,135 944,139 944,143 943,147 943,151 943,155 943,159 943,163 943,167 943,171 943,175 943,179 944,183 944,187 945,191 945,195 946,199 947,203 947,207 948,211 949,215 949,219 950,223 950,227 950,231 949,235 947,239 943,243 939,245 935,246 931,246 927,246 923,246 919,246 915,246 911,246 907,246 903,246 899,246 895,246 891,246 887,246 883,246 879,247 875,248 871,249 867,250 863,251 859,252 855,253 851,254 847,255 843,256 839,256 835,257 831,256 827,256 825,255 819,252 817,251 811,247 807,243 803,239 800,235 796,231 795,229 793,227 791,224 788,219 785,215 783,211 780,207 779,204 776,199 775,197 772,191 771,189 768,183 767,180 765,175 763,171 762,167 760,163 759,160 757,155 756,151 754,147 753,143 752,139 751,136 750,131 749,127 748,123 747,119 747,115 747,111 747,107 746,103 746,99 746,95 747,91 747,87 747,83 747,79 747,75 748,71 748,67 748,63 749,59 749,55 749,51 750,47 750,43 751,39 751,35 752,31 752,27 753,23 754,19 754,15 754,11 755,7ZM343,670 347,668 351,667 355,668 359,669 363,670 367,672 371,674 375,677 378,679 382,683 385,687 387,690 389,695 391,699 391,703 392,707 392,711 392,715 391,719 390,723 389,727 388,731 386,735 384,739 381,743 379,745 377,747 375,749 372,751 367,754 364,755 359,756 355,757 351,756 347,756 345,755 339,752 335,749 333,747 331,744 329,739 327,735 327,731 326,727 326,723 326,719 327,715 327,711 328,707 329,703 330,699 331,697 333,691 334,687 336,683 338,679 339,676 342,671ZM847,723 851,721 855,720 859,720 863,721 866,723 870,727 874,731 879,735 883,738 885,739 891,742 895,745 899,747 903,750 907,753 909,755 911,757 913,759 915,761 917,763 919,766 922,771 924,775 926,779 927,782 928,787 929,791 930,795 930,799 930,803 930,807 929,811 928,815 928,819 927,823 925,827 924,831 923,833 921,839 919,842 917,847 915,850 912,855 909,859 907,862 904,867 900,871 897,875 895,877 893,879 891,881 889,883 887,885 884,887 879,891 875,894 871,895 867,895 863,895 859,895 855,895 851,895 847,895 843,895 839,895 835,895 831,895 827,895 823,895 819,895 815,895 811,895 807,895 803,895 799,895 795,895 791,895 787,895 783,895 779,895 775,895 771,895 767,895 763,895 759,893 757,891 755,890 752,887 748,883 744,879 741,875 739,873 737,871 735,868 732,863 729,859 727,855 725,851 723,847 721,843 720,839 719,836 717,831 716,827 716,823 715,819 715,815 715,811 715,807 715,803 716,799 716,795 717,791 719,787 720,783 722,779 725,775 727,772 731,767 734,763 738,759 743,755 747,752 751,749 755,747 759,745 763,743 767,741 771,740 774,739 779,738 783,736 787,736 791,735 795,734 799,733 803,732 807,731 811,730 815,729 819,728 823,728 827,727 831,726 835,726 839,725 843,724 846,723ZM845,735 839,736 835,736 831,737 827,737 823,738 819,739 815,740 811,741 807,742 803,744 799,745 795,747 791,748 787,750 784,751 779,754 776,755 771,758 767,761 764,763 760,767 756,771 752,775 751,777 750,779 747,783 745,787 743,791 742,795 741,799 740,803 740,807 739,811 739,815 740,819 740,823 741,827 742,831 743,835 745,839 746,843 748,847 750,851 753,855 755,858 759,863 763,867 767,871 771,875 775,878 777,879 779,880 783,883 787,885 791,886 795,888 799,889 803,890 806,891 811,892 815,892 819,892 823,892 827,892 831,892 835,891 839,891 843,890 847,888 851,887 855,885 859,883 863,881 867,879 871,876 873,875 875,873 878,871 883,867 887,863 890,859 894,855 897,851 899,848 902,843 904,839 906,835 908,831 910,827 911,823 912,819 913,815 914,811 914,807 914,803 914,799 914,795 913,791 912,787 911,783 910,779 908,775 905,771 903,768 899,763 895,759 891,756 887,752 885,751 883,750 879,747 875,745 872,743 867,739 863,736 861,735 855,733 851,734 847,734 845,735Z" fill="#ff5b5b" stroke="#ff5b5b" stroke-width="1.2" fill-rule="evenodd"/>
<path d="M783,7 787,7 791,7 795,7 798,7 798,11 797,15 797,19 796,23 794,27 793,31 792,35 790,39 789,43 788,47 787,50 786,55 785,59 784,63 783,67 782,71 782,75 781,79 780,83 780,87 779,91 779,95 779,99 779,103 779,107 779,111 779,114 779,119 780,123 780,127 781,131 782,135 783,139 784,143 785,147 787,151 788,155 790,159 792,163 794,167 796,171 799,175 801,179 803,181 804,183 807,186 811,191 815,195 819,198 823,201 826,203 831,206 834,207 839,209 843,210 847,210 851,211 855,211 859,211 863,211 867,210 871,210 875,209 879,208 883,206 887,205 891,203 895,200 897,199 899,197 901,195 903,193 904,191 907,187 909,183 911,179 912,175 914,171 915,167 916,163 917,159 918,155 919,151 919,147 920,143 921,139 922,135 923,131 923,127 924,123 925,119 926,115 927,111 928,107 928,103 929,99 930,95 931,92 932,87 933,83 934,79 936,75 937,71 938,67 939,63 940,59 941,55 942,51 943,47 944,43 945,39 946,35 947,31 947,27 948,23 949,19 950,15 950,11 951,7 955,7 959,7 963,7 965,11 964,15 963,19 962,23 961,27 960,31 959,35 958,39 957,43 956,47 955,50 954,55 952,59 951,63 950,67 949,71 948,75 946,79 945,83 944,87 943,91 942,95 941,99 940,103 939,107 938,111 937,115 936,119 936,123 935,126 934,131 934,135 933,139 932,143 932,147 931,151 931,155 930,159 930,163 929,167 929,171 929,175 928,179 928,183 927,187 927,190 926,195 925,199 924,203 923,207 921,211 919,214 915,218 913,219 911,220 907,222 904,223 899,224 895,225 891,226 887,227 883,228 879,228 875,229 871,230 867,230 863,231 859,231 855,232 851,232 847,232 843,232 839,231 835,230 831,229 827,227 823,225 819,223 815,220 811,217 809,215 807,213 805,211 803,208 799,204 796,199 793,195 791,192 788,187 786,183 783,179 781,175 780,171 778,167 776,163 775,161 773,155 771,151 770,147 769,143 768,139 767,136 766,131 765,127 764,123 764,119 764,115 763,111 763,107 763,103 763,99 763,95 763,91 764,87 764,83 764,79 765,75 765,71 766,67 766,63 767,59 768,55 768,51 769,47 771,43 772,39 773,35 775,31 777,27 778,23 779,20 780,15 781,11 781,7ZM847,734 851,734 855,733 859,734 863,736 867,739 871,743 875,745 879,747 883,750 885,751 887,752 890,755 895,759 899,763 902,767 905,771 907,774 910,779 911,782 912,787 913,791 914,795 914,799 914,803 914,807 914,811 913,815 912,819 911,823 910,827 908,831 907,834 904,839 903,841 900,847 897,851 895,853 891,858 887,863 883,867 879,870 875,873 873,875 871,876 867,879 863,881 860,883 855,885 851,887 847,888 843,890 839,891 835,891 831,892 827,892 823,892 819,892 815,892 811,892 807,891 803,890 799,889 795,888 792,887 787,885 784,883 779,880 777,879 775,878 771,875 767,871 763,867 759,863 756,859 753,855 751,852 748,847 747,844 745,839 743,835 742,831 741,827 740,823 740,819 739,815 739,811 740,807 740,803 741,799 742,795 743,792 745,787 747,783 750,779 751,777 752,775 755,772 759,768 763,764 767,761 770,759 775,756 779,754 783,752 787,750 791,748 794,747 799,745 803,744 807,742 811,741 815,740 819,739 823,738 827,737 831,737 835,736 839,736 843,735 847,734ZM842,743 839,744 835,745 831,746 827,747 823,748 819,750 816,751 811,753 807,755 803,757 799,759 795,762 793,763 787,767 783,771 779,774 775,779 772,783 771,785 770,787 768,791 766,795 765,799 764,803 763,807 763,811 763,815 764,819 764,823 765,827 767,831 768,835 770,839 773,843 775,846 779,851 783,855 787,858 791,861 794,863 799,866 802,867 807,869 811,870 815,871 819,871 823,872 827,872 831,871 835,871 839,870 843,869 847,868 850,867 855,865 859,863 863,861 865,859 871,855 875,852 879,848 883,843 886,839 889,835 891,831 893,827 895,823 896,819 898,815 899,811 899,808 899,803 900,799 899,795 899,791 898,787 897,783 895,779 893,775 891,772 888,767 884,763 880,759 876,755 871,751 867,748 863,745 859,743 855,742 851,741 847,742 843,743Z" fill="#ff4949" stroke="#ff4949" stroke-width="1.2" fill-rule="evenodd"/>
<path d="M799,7 803,7 807,7 811,7 815,7 814,11 813,15 813,19 812,23 811,26 810,31 809,35 808,39 807,43 805,47 804,51 803,55 802,59 802,63 801,67 800,71 799,74 798,79 797,83 796,87 796,91 795,95 795,99 794,103 794,107 794,111 794,115 795,119 795,122 796,127 796,131 797,135 798,139 800,143 801,147 803,151 805,155 807,159 810,163 811,165 813,167 815,170 819,174 823,178 827,181 830,183 835,186 838,187 843,189 847,190 851,190 855,191 859,190 863,190 867,189 871,188 875,187 879,185 882,183 887,179 891,175 894,171 897,167 899,163 901,159 903,155 904,151 905,147 907,143 908,139 909,135 910,131 911,127 912,123 912,119 913,115 914,111 915,107 916,103 917,99 918,95 919,91 920,87 920,83 921,79 922,75 923,71 924,67 925,63 926,59 927,55 928,51 929,47 930,43 931,39 932,35 932,31 933,27 934,23 934,19 935,15 935,11 935,7 939,7 943,7 947,7 951,7 950,11 950,15 949,19 948,23 947,27 947,31 946,35 945,39 944,43 943,47 942,51 941,55 940,59 939,62 938,67 937,71 936,75 934,79 933,83 932,87 931,91 930,95 929,99 928,103 928,107 927,110 926,115 925,119 924,123 923,127 923,131 922,135 921,139 920,143 919,147 919,151 918,155 917,159 916,163 915,166 914,171 912,175 911,178 909,183 907,187 904,191 903,193 901,195 899,197 897,199 895,200 891,203 887,205 883,206 879,208 875,209 871,210 867,210 863,211 859,211 855,211 851,211 847,210 843,210 839,209 835,207 831,206 827,204 823,201 820,199 815,195 811,191 808,187 804,183 803,181 801,179 799,175 796,171 795,169 792,163 791,161 788,155 787,151 785,147 784,143 783,139 782,135 781,131 780,127 780,123 779,119 779,115 779,111 779,107 779,103 779,99 779,95 779,91 780,87 780,83 781,79 782,75 782,71 783,68 784,63 785,59 786,55 787,51 788,47 789,43 790,39 792,35 793,31 794,27 796,23 797,19 797,15 798,11 798,7ZM843,743 847,742 851,741 855,742 859,743 863,745 866,747 871,751 875,754 879,758 883,762 887,766 891,771 893,775 895,779 897,783 898,787 899,791 899,795 900,799 899,803 899,807 899,811 898,815 896,819 895,823 893,827 891,831 889,835 887,838 883,843 880,847 876,851 871,855 867,858 863,861 859,863 855,865 851,867 847,868 843,869 839,870 835,871 831,871 827,872 823,872 819,871 815,871 811,870 807,869 803,867 799,866 795,864 791,861 788,859 783,855 779,851 776,847 773,843 771,840 768,835 767,832 765,827 764,823 764,819 763,815 763,811 763,807 764,803 765,799 766,795 768,791 770,787 771,785 772,783 775,779 778,775 782,771 787,767 791,764 795,762 799,759 803,757 807,755 811,753 815,751 819,750 823,748 827,747 831,746 835,745 839,744 842,743ZM841,751 839,752 835,754 832,755 827,758 824,759 819,762 815,765 812,767 807,771 803,774 799,779 796,783 793,787 791,791 790,795 789,799 788,803 788,807 788,811 788,815 789,819 790,823 792,827 795,831 798,835 802,839 807,843 811,845 815,846 819,848 823,849 827,849 831,849 835,849 839,848 843,848 847,846 851,845 855,843 859,841 861,839 866,835 870,831 874,827 877,823 879,819 881,815 882,811 883,808 884,803 884,799 885,795 884,791 884,787 883,784 881,779 880,775 878,771 875,767 872,763 869,759 867,757 865,755 863,753 860,751 855,748 851,748 847,749 843,750Z" fill="#ff3737" stroke="#ff3737" stroke-width="1.2" fill-rule="evenodd"/>
<path d="M815,7 819,7 823,7 827,7 831,7 831,11 830,15 830,19 829,23 828,27 827,31 826,35 825,39 825,43 824,47 823,50 822,55 821,59 820,63 819,67 818,71 817,75 816,79 815,82 814,87 813,91 812,95 812,99 811,103 811,107 810,111 811,115 811,119 811,122 812,127 813,131 814,135 815,138 817,143 819,147 822,151 823,153 825,155 827,157 829,159 831,161 834,163 839,166 841,167 847,169 851,169 855,170 859,169 863,169 867,167 871,165 875,163 879,160 883,155 886,151 888,147 890,143 892,139 894,135 895,131 896,127 897,123 898,119 899,115 900,111 901,107 902,103 902,99 903,96 904,91 905,87 906,83 907,79 907,75 908,71 909,67 910,63 911,60 912,55 913,51 914,47 915,43 915,39 916,35 917,31 917,27 917,23 918,19 918,15 918,11 918,7 923,7 927,7 931,7 935,7 935,11 935,15 934,19 934,23 933,27 932,31 932,35 931,39 930,43 929,47 928,51 927,55 926,59 925,63 924,67 923,71 922,75 921,79 920,83 920,87 919,89 918,95 917,99 916,103 915,107 914,111 913,115 912,119 912,123 911,126 910,131 909,135 908,139 907,142 905,147 904,151 903,154 901,159 899,163 897,167 895,170 891,175 887,179 883,182 879,185 875,187 871,188 867,189 863,190 859,190 855,191 851,190 847,190 843,189 839,187 835,186 831,184 827,181 824,179 820,175 816,171 813,167 811,165 810,163 807,159 805,155 803,151 801,147 800,143 799,141 797,135 796,131 796,127 795,123 795,119 794,115 794,111 794,107 794,103 795,99 795,95 796,91 796,87 797,83 798,79 799,75 800,71 801,67 802,63 802,59 803,55 804,51 805,47 807,43 808,39 809,35 810,31 811,27 812,23 813,19 813,15 814,11 815,7ZM843,750 847,749 851,748 855,748 859,750 863,753 865,755 867,757 869,759 871,762 875,767 878,771 879,774 881,779 883,783 884,787 884,791 885,795 884,799 884,803 883,807 882,811 881,815 879,819 877,823 875,825 871,830 867,834 863,838 859,841 855,843 851,845 847,846 843,848 839,848 835,849 831,849 827,849 823,849 819,848 817,847 811,845 808,843 803,840 799,836 795,831 792,827 791,824 789,819 788,815 788,811 788,807 788,803 789,799 790,795 791,792 793,787 795,784 799,779 802,775 807,771 811,767 815,765 817,763 823,760 827,758 831,756 835,754 839,752 841,751ZM847,759 843,761 840,763 835,767 831,770 827,774 823,778 820,783 817,787 816,791 815,794 814,799 815,803 815,807 817,811 819,814 823,818 825,819 827,820 831,822 835,822 839,822 843,822 847,820 850,819 855,816 859,812 863,807 865,803 867,799 867,795 868,791 868,787 868,783 867,779 866,775 864,771 863,769 859,763 855,759 851,758 847,759Z" fill="#ff2424" stroke="#ff2424" stroke-width="1.2" fill-rule="evenodd"/>
<path d="M835,7 839,7 843,7 847,7 851,7 854,7 853,11 851,15 850,19 849,23 849,27 848,31 848,35 847,39 847,43 847,47 846,51 846,55 845,59 844,63 843,67 842,71 840,75 839,79 837,83 836,87 835,89 833,95 832,99 831,103 830,107 830,111 830,115 830,119 830,123 831,127 832,131 834,135 837,139 839,141 842,143 847,146 851,147 855,147 859,146 863,144 867,141 869,139 871,137 872,135 875,131 877,127 878,123 879,120 880,115 881,111 882,107 882,103 883,99 883,95 884,91 884,87 885,83 885,79 886,75 887,71 888,67 889,63 890,59 891,55 892,51 893,47 894,43 895,39 896,35 896,31 896,27 897,23 896,19 896,15 895,11 894,7 899,7 903,7 907,7 911,7 915,7 918,11 918,15 918,19 917,23 917,27 917,31 916,35 915,39 915,43 914,47 913,51 912,55 911,59 910,63 909,67 908,71 907,75 907,79 906,83 905,87 904,91 903,95 902,99 902,103 901,107 900,111 899,115 898,119 897,123 896,127 895,131 894,135 892,139 891,141 888,147 887,149 883,155 880,159 875,163 871,165 868,167 863,169 859,169 855,170 851,169 847,169 843,168 839,166 835,164 831,161 829,159 827,157 825,155 823,153 822,151 819,147 817,143 815,139 814,135 813,131 812,127 811,123 811,119 811,115 810,111 811,107 811,103 812,99 812,95 813,91 814,87 815,83 816,79 817,75 818,71 819,67 820,63 821,59 822,55 823,51 824,47 825,43 825,39 826,35 827,31 828,27 829,23 830,19 830,15 831,12 832,7ZM851,758 855,759 859,762 862,767 864,771 866,775 867,779 868,783 868,787 868,791 867,795 867,799 865,803 863,807 860,811 856,815 851,818 847,820 843,822 839,822 835,822 831,822 827,820 825,819 823,818 820,815 817,811 815,807 815,803 814,799 815,795 816,791 817,787 819,784 822,779 826,775 830,771 834,767 839,764 843,761 847,759 851,758Z" fill="#ff1212" stroke="#ff1212" stroke-width="1.2" fill-rule="evenodd"/>
<path d="M855,7 859,7 863,7 867,7 871,7 875,7 879,7 883,7 887,7 891,7 895,10 896,15 896,19 897,23 896,27 896,31 896,35 895,38 894,43 893,47 892,51 891,55 890,59 889,63 888,67 887,71 886,75 885,79 885,83 884,87 884,91 883,95 883,98 882,103 882,107 881,111 880,115 879,119 878,123 877,127 875,131 872,135 871,137 869,139 867,141 865,143 859,146 855,147 851,147 847,146 843,144 839,141 837,139 835,136 832,131 831,127 830,123 830,119 830,115 830,111 830,107 831,104 832,99 833,95 835,91 836,87 837,83 839,79 840,75 842,71 843,67 844,63 845,59 846,55 846,51 847,47 847,43 847,39 848,35 848,31 849,27 849,23 850,19 851,16 853,11 854,7Z" fill="#ff0000" stroke="#ff0000" stroke-width="1.2" fill-rule="evenodd"/>
<rect x="353.5" y="638.1" width="117.6" height="51.9" fill="#fff"/>
<rect x="997.3" y="250" width="177.0" height="76.7" fill="#fff"/>
<rect x="1494.8" y="91.4" width="28.5" height="50.1" fill="#fff"/>
<rect x="1947.6" y="638.7" width="219.7" height="51.3" fill="#fff"/>
<rect x="2218.6" y="824.8" width="7.4" height="45.2" fill="#fff"/>
<path d="M874.5,15.0 1586.5,15.0 1585.7,18.1 1581.6,29.0 1565.3,37.1 1546.3,56.1 1527.3,75.1 1516.5,91.4 1511.1,113.1 1508.4,126.6 1494.8,137.5 1478.5,156.5 1473.1,175.4 1456.8,189.0 1440.6,197.1 1429.7,210.7 1418.9,216.1 1402.6,210.7 1389.0,208.0 1375.5,216.1 1361.9,221.6 1356.5,235.1 1348.3,243.3 1334.8,248.7 1323.9,262.2 1318.5,273.1 1305.0,274.4 1294.1,278.5 1283.3,281.2 1267.0,277.2 1258.8,281.2 1253.4,308.3 1248.0,305.6 1242.6,281.2 1234.4,271.7 1212.7,270.4 1204.6,265.0 1201.9,255.5 1185.6,258.2 1174.8,262.2 1161.2,254.1 1153.1,262.2 1131.4,259.5 1126.0,267.7 1123.2,289.4 1115.1,294.8 1104.2,311.1 1090.7,308.3 1077.1,307.0 1066.6,305.9 1054.8,311.8 1042.9,304.9 1027.1,307.8 1017.3,299.9 1023.2,282.2 1015.3,274.3 997.6,274.3 981.8,272.3 968.0,264.4 956.1,256.5 952.2,252.6 944.3,242.7 944.3,230.9 932.5,228.0 912.7,228.9 897.0,234.9 877.2,236.8 869.3,246.7 867.4,262.5 859.5,264.4 857.5,260.5 857.5,246.7 853.6,238.8 841.7,232.9 827.9,232.9 822.0,236.8 822.0,244.7 808.2,256.5 790.5,274.3 776.6,290.1 766.8,303.9 762.8,317.7 755.0,327.6 745.1,329.5 741.1,325.6 743.1,313.7 739.2,296.0 741.1,274.3 745.1,264.4 758.9,248.7 764.8,236.8 764.8,217.1 760.9,203.3 757.5,199.9 754.0,186.3 751.7,174.5 752.8,162.8 750.5,159.3 745.8,154.6 739.9,145.2 734.0,139.3 725.8,136.9 722.3,132.2 708.2,127.5 702.3,128.7 692.9,122.8 689.4,115.8 690.5,111.1 689.4,104.0 684.7,101.7 684.7,93.5 689.4,89.9 698.8,89.9 703.5,86.4 696.4,81.1 683.5,81.7 680.0,77.0 674.1,71.1 663.5,68.8 660.0,66.4 663.5,62.9 668.2,62.3 675.3,66.4 681.1,68.8 689.4,66.4 703.5,64.1 708.2,61.7 711.7,57.0 712.3,45.3 713.5,38.2 716.4,33.5 721.1,27.6 724.6,22.9 727.0,22.3 727.6,28.8 727.0,38.2 732.9,41.7 738.7,47.6 745.8,46.4 752.8,44.1 762.2,44.1 765.8,50.0 769.3,57.0 775.2,66.4 781.0,68.8 792.8,68.8 806.9,65.2 816.3,68.8 821.0,75.8 817.5,80.5 808.1,85.2 804.5,92.3 806.9,99.3 816.3,107.6 824.5,118.1 829.2,127.5 830.4,139.3 826.9,146.3 829.2,152.2 833.9,152.2 837.5,145.2 845.7,141.6 857.4,138.1 862.1,131.1 862.1,121.7 865.7,115.8 879.8,112.3 879.8,102.9 868.0,107.6 857.4,112.3 856.3,121.7 857.4,129.9 851.6,136.9 845.7,138.1 839.8,134.6 837.5,127.5 838.6,115.8 837.5,107.6 830.4,101.7 825.7,97.0 839.8,92.3 846.9,85.2 851.6,78.2 863.3,71.1 870.4,59.4 873.9,45.3 875.1,27.6 874.5,18.2Z" fill="#b8b8b8"/>
<path d="M175.0,794.5 178.1,794.5 186.3,782.7 184.5,779.1 189.9,770.1 191.7,757.4 195.3,748.4 206.2,744.8 220.6,741.2 226.1,735.7 231.5,728.5 242.3,721.3 247.8,710.4 256.8,697.8 265.8,692.3 287.5,686.9 309.2,679.7 349.0,680.6 359.9,674.2 368.9,672.4 374.3,665.2 396.0,658.0 410.5,659.8 423.2,657.1 441.2,653.5 444.9,648.0 450.3,652.5 464.8,661.6 468.4,674.2 473.8,688.7 481.1,692.3 495.5,705.0 513.6,720.4 531.7,720.4 549.7,717.6 570.0,721.3 570.8,721.4 568.1,734.0 571.8,748.5 575.4,755.7 576.3,760.3 578.1,753.9 587.1,753.0 593.5,748.5 595.3,737.6 593.5,721.4 591.6,708.7 589.8,697.9 587.1,688.8 588.9,678.9 591.6,678.0 596.2,683.4 596.2,692.4 605.2,692.4 614.2,697.9 619.7,706.9 622.4,721.4 624.2,732.2 623.3,741.3 632.3,748.5 639.6,752.1 652.2,753.0 657.6,756.6 661.3,748.5 672.1,739.5 677.5,726.8 673.9,719.6 684.8,717.8 690.2,708.7 692.0,697.9 686.6,692.4 679.3,687.0 677.5,682.5 681.2,683.4 686.6,687.0 697.4,687.0 704.7,692.4 719.1,691.5 730.0,687.9 735.4,686.1 744.5,690.6 751.7,683.4 760.7,679.8 768.0,680.7 773.4,685.2 777.0,696.1 784.2,705.1 784.2,714.1 795.1,725.0 813.2,739.5 831.2,753.9 835.8,759.3 874.6,766.6 881.9,757.5 885.5,748.5 887.3,744.9 878.3,743.1 874.6,738.6 883.7,730.4 894.5,726.8 907.2,721.4 916.2,712.3 918.0,705.1 927.1,697.9 939.7,696.1 948.8,692.4 960.0,690.6 968.1,688.2 995.2,680.9 1018.7,672.8 1026.0,664.7 1036.8,653.8 1045.8,641.2 1053.1,626.7 1056.7,610.4 1062.1,595.9 1067.5,583.3 1073.0,574.2 1083.8,572.4 1098.3,571.5 1116.4,572.4 1139.9,574.2 1148.9,579.7 1163.4,592.3 1177.8,603.2 1195.9,614.0 1212.2,623.1 1226.7,626.7 1248.4,626.7 1268.3,620.4 1284.5,614.0 1293.6,608.6 1295.4,599.6 1300.8,592.3 1299.0,587.8 1290.0,586.9 1284.5,581.5 1286.3,570.6 1295.4,552.5 1304.4,545.3 1317.1,543.5 1326.1,538.1 1338.8,540.8 1354.2,541.7 1368.7,539.9 1372.3,536.3 1379.6,536.3 1390.4,545.3 1397.6,552.5 1408.5,556.2 1426.6,565.2 1444.7,576.1 1462.7,586.9 1480.8,599.6 1498.9,608.6 1517.0,615.8 1535.1,626.7 1553.2,633.9 1571.2,638.4 1589.3,637.5 1607.4,633.9 1614.6,635.7 1657.6,634.4 1651.7,619.7 1647.3,608.0 1651.7,590.4 1651.7,567.0 1657.6,558.2 1657.6,537.7 1653.2,528.9 1660.5,523.0 1681.0,517.2 1684.0,505.5 1692.7,499.6 1713.2,502.5 1751.3,505.5 1763.0,499.6 1774.8,485.0 1780.6,476.2 1792.3,470.3 1799.7,458.6 1798.2,443.9 1795.3,438.1 1807.0,432.2 1814.3,424.9 1818.7,432.2 1821.6,446.9 1833.3,467.4 1839.2,487.9 1845.1,511.3 1856.8,540.6 1874.4,567.0 1897.8,587.5 1915.4,596.3 1924.2,602.1 1927.1,616.8 1938.8,631.4 1956.4,646.1 1985.7,651.9 2006.2,660.7 2020.8,666.6 2023.8,672.4 2050.1,681.2 2073.6,678.3 2088.2,672.4 2097.0,663.6 2126.3,657.8 2138.0,649.0 2152.7,635.8 2164.4,646.1 2173.2,669.5 2184.9,698.8 2187.8,736.9 2202.5,780.8 2217.1,824.8 2228.8,868.7 2230.0,892.0 175.0,892.0Z" fill="#b8b8b8"/>
<path d="M1620.2,182.4 1637.0,174.0 1653.7,153.1 1662.1,123.8 1657.9,102.9 1674.6,100.8 1683.0,111.2 1678.8,128.0 1666.3,140.5 1653.7,161.4 1641.2,178.2 1624.4,186.5Z" fill="#b8b8b8"/>
<path d="M572.7,700.0 577.0,696.5 583.5,697.0 583.0,701.5 577.0,704.2 573.0,703.0Z" fill="#b8b8b8"/>
<path d="M881.2,104.7 893.0,102.7 894.0,99.7 898.9,100.7 900.9,106.6 908.8,108.6 912.7,111.6 908.8,115.5 902.9,116.5 897.0,112.6 889.1,116.5 883.2,112.6Z" fill="#fff"/>
<path d="M1633.6,639.4 1657.3,635.5 1665.2,636.8 1678.3,635.5 1691.5,638.1 1698.1,639.4 1704.6,632.9 1709.9,630.2 1702.0,638.1 1694.1,643.4 1692.8,652.6 1699.4,661.8 1704.6,672.3 1704.6,685.5 1707.3,699.9 1716.5,709.1 1715.2,731.5 1720.4,748.6 1725.7,763.0 1724.4,770.9 1717.8,781.5 1715.2,786.7 1711.2,795.9 1704.6,788.0 1699.4,781.5 1700.7,765.7 1691.5,761.7 1684.9,755.2 1675.7,748.6 1673.1,738.1 1675.7,731.5 1667.8,718.3 1663.9,705.2 1666.5,697.3 1671.8,692.0 1673.1,681.5 1670.5,673.6 1665.2,671.0 1659.9,671.0 1657.3,665.7 1652.0,664.4 1649.4,668.4 1645.5,673.6 1644.2,681.5 1646.8,689.4 1654.7,692.0 1657.3,694.7 1652.0,694.7 1638.9,699.9 1629.7,705.2 1623.1,707.8 1620.5,698.6 1620.5,689.4 1621.8,684.2 1627.1,673.6 1631.0,665.7 1632.3,655.2 1633.6,647.3Z" fill="#ff0000"/>
<path d="M835.8,759.3 827.6,770.2 813.2,777.4 787.8,779.2 791.5,788.3 802.3,797.3 816.8,808.2 831.2,810.9 838.5,810.0 840.3,824.5 845.7,824.5 843.9,813.6 842.1,797.3 847.5,797.3 852.9,806.4 858.4,813.6 856.6,802.7 865.6,802.7 867.4,793.7 860.2,788.3 852.9,782.9 842.1,781.0 836.7,777.4 838.5,770.2 849.3,772.0 863.8,770.2 874.6,766.6Z" fill="#ff0000"/>
<path d="M177.4,863.5 183.2,864.6 188.7,858.8 204.9,860.3 205.7,868.9 212.2,873.3 230.2,873.6 232.1,876.2 241.1,879.1 237.5,880.9 230.2,881.2 212.2,882.0 211.4,885.9 194.1,886.3 178.0,886.3Z" fill="#ff1a1a"/>
<path d="M190.7,864.5 195.9,864.6 195.5,872.0 192.5,886.0 186.5,886.0 189.5,872.0Z" fill="#b8b8b8"/>
<path d="M953.6,691.8 968.1,698.1 995.2,696.3 1022.3,693.6 1031.4,686.4 1033.2,679.1 1038.6,680.9 1036.8,691.8 1027.8,699.0 1018.7,704.4 1018.7,715.3 1013.3,726.1 1011.5,711.7 1004.2,704.4 995.2,702.6 968.1,709.9 955.4,708.1Z" fill="#ff8080"/>
<path d="M1700.2,664.4 1705.0,664.4 1706.5,701.3 1702.5,701.3Z" fill="#fff"/>
<path d="M1694.0,764.0 1700.7,764.0 1700.7,781.5 1697.0,781.5Z" fill="#fff"/>
<path d="M1670.0,725.0 1675.0,722.0 1678.0,726.0 1674.0,730.0Z" fill="#b8b8b8"/>
<ellipse cx="1001.5" cy="313.5" rx="2.6" ry="2.6" fill="#b8b8b8" stroke="#000" stroke-width="1.5"/>
<ellipse cx="1009.5" cy="318.5" rx="2.2" ry="3.2" fill="#b8b8b8" stroke="#000" stroke-width="1.5"/>
<ellipse cx="1013.5" cy="312.5" rx="2.2" ry="2.8" fill="#b8b8b8" stroke="#000" stroke-width="1.5"/>
<path d="M1325.5,543.4 1330.4,547.8 1338.0,554.3 1342.9,558.6 1343.4,565.7 1346.7,572.2 1350.5,578.2 1353.2,586.3M1335.8,578.7 1340.2,576.5 1346.1,579.8 1350.5,584.1 1353.7,586.9M1353.7,587.4 1356.4,591.7 1362.4,592.3 1369.5,591.2 1372.2,591.7 1377.0,598.3 1381.4,604.2 1383.6,605.3M1368.9,582.0 1371.6,571.1 1373.3,560.3 1376.0,552.1 1377.6,545.6 1381.4,544.0 1384.6,547.8M1384.6,550.5 1389.5,550.0 1392.2,551.0 1395.0,555.4" fill="none" stroke="#000" stroke-width="5" stroke-linejoin="round" stroke-linecap="round"/>
<path d="M1325.5,543.4 1330.4,547.8 1338.0,554.3 1342.9,558.6 1343.4,565.7 1346.7,572.2 1350.5,578.2 1353.2,586.3M1335.8,578.7 1340.2,576.5 1346.1,579.8 1350.5,584.1 1353.7,586.9M1353.7,587.4 1356.4,591.7 1362.4,592.3 1369.5,591.2 1372.2,591.7 1377.0,598.3 1381.4,604.2 1383.6,605.3M1368.9,582.0 1371.6,571.1 1373.3,560.3 1376.0,552.1 1377.6,545.6 1381.4,544.0 1384.6,547.8M1384.6,550.5 1389.5,550.0 1392.2,551.0 1395.0,555.4" fill="none" stroke="#fff" stroke-width="2.2" stroke-linejoin="round" stroke-linecap="round"/>
<path d="M619.7,771.1 625.0,764.0 632.0,758.0 640.0,755.0 652.0,754.0" fill="none" stroke="#000" stroke-width="5" stroke-linejoin="round" stroke-linecap="round"/>
<path d="M619.7,771.1 625.0,764.0 632.0,758.0 640.0,755.0 652.0,754.0" fill="none" stroke="#ff6060" stroke-width="2.2" stroke-linejoin="round" stroke-linecap="round"/>
<path d="M1586.5,15.0 1585.7,18.1 1581.6,29.0 1565.3,37.1 1546.3,56.1 1527.3,75.1 1516.5,91.4 1511.1,113.1 1508.4,126.6 1494.8,137.5 1478.5,156.5 1473.1,175.4 1456.8,189.0 1440.6,197.1 1429.7,210.7 1418.9,216.1 1402.6,210.7 1389.0,208.0 1375.5,216.1 1361.9,221.6 1356.5,235.1 1348.3,243.3 1334.8,248.7 1323.9,262.2 1318.5,273.1 1305.0,274.4 1294.1,278.5 1283.3,281.2 1267.0,277.2 1258.8,281.2 1253.4,308.3 1248.0,305.6 1242.6,281.2 1234.4,271.7 1212.7,270.4 1204.6,265.0 1201.9,255.5 1185.6,258.2 1174.8,262.2 1161.2,254.1 1153.1,262.2 1131.4,259.5 1126.0,267.7 1123.2,289.4 1115.1,294.8 1104.2,311.1 1090.7,308.3 1077.1,307.0 1066.6,305.9 1054.8,311.8 1042.9,304.9 1027.1,307.8 1017.3,299.9 1023.2,282.2 1015.3,274.3 997.6,274.3 981.8,272.3 968.0,264.4 956.1,256.5 952.2,252.6 944.3,242.7 944.3,230.9 932.5,228.0 912.7,228.9 897.0,234.9 877.2,236.8 869.3,246.7 867.4,262.5 859.5,264.4 857.5,260.5 857.5,246.7 853.6,238.8 841.7,232.9 827.9,232.9 822.0,236.8 822.0,244.7 808.2,256.5 790.5,274.3 776.6,290.1 766.8,303.9 762.8,317.7 755.0,327.6 745.1,329.5 741.1,325.6 743.1,313.7 739.2,296.0 741.1,274.3 745.1,264.4 758.9,248.7 764.8,236.8 764.8,217.1 760.9,203.3 757.5,199.9 754.0,186.3 751.7,174.5 752.8,162.8 750.5,159.3 745.8,154.6 739.9,145.2 734.0,139.3 725.8,136.9 722.3,132.2 708.2,127.5 702.3,128.7 692.9,122.8 689.4,115.8 690.5,111.1 689.4,104.0 684.7,101.7 684.7,93.5 689.4,89.9 698.8,89.9 703.5,86.4 696.4,81.1 683.5,81.7 680.0,77.0 674.1,71.1 663.5,68.8 660.0,66.4 663.5,62.9 668.2,62.3 675.3,66.4 681.1,68.8 689.4,66.4 703.5,64.1 708.2,61.7 711.7,57.0 712.3,45.3 713.5,38.2 716.4,33.5 721.1,27.6 724.6,22.9 727.0,22.3 727.6,28.8 727.0,38.2 732.9,41.7 738.7,47.6 745.8,46.4 752.8,44.1 762.2,44.1 765.8,50.0 769.3,57.0 775.2,66.4 781.0,68.8 792.8,68.8 806.9,65.2 816.3,68.8 821.0,75.8 817.5,80.5 808.1,85.2 804.5,92.3 806.9,99.3 816.3,107.6 824.5,118.1 829.2,127.5 830.4,139.3 826.9,146.3 829.2,152.2 833.9,152.2 837.5,145.2 845.7,141.6 857.4,138.1 862.1,131.1 862.1,121.7 865.7,115.8 879.8,112.3 879.8,102.9 868.0,107.6 857.4,112.3 856.3,121.7 857.4,129.9 851.6,136.9 845.7,138.1 839.8,134.6 837.5,127.5 838.6,115.8 837.5,107.6 830.4,101.7 825.7,97.0 839.8,92.3 846.9,85.2 851.6,78.2 863.3,71.1 870.4,59.4 873.9,45.3 875.1,27.6 874.5,18.2M175.0,794.5 178.1,794.5 186.3,782.7 184.5,779.1 189.9,770.1 191.7,757.4 195.3,748.4 206.2,744.8 220.6,741.2 226.1,735.7 231.5,728.5 242.3,721.3 247.8,710.4 256.8,697.8 265.8,692.3 287.5,686.9 309.2,679.7 349.0,680.6 359.9,674.2 368.9,672.4 374.3,665.2 396.0,658.0 410.5,659.8 423.2,657.1 441.2,653.5 444.9,648.0 450.3,652.5 464.8,661.6 468.4,674.2 473.8,688.7 481.1,692.3 495.5,705.0 513.6,720.4 531.7,720.4 549.7,717.6 570.0,721.3 570.8,721.4 568.1,734.0 571.8,748.5 575.4,755.7 576.3,760.3 578.1,753.9 587.1,753.0 593.5,748.5 595.3,737.6 593.5,721.4 591.6,708.7 589.8,697.9 587.1,688.8 588.9,678.9 591.6,678.0 596.2,683.4 596.2,692.4 605.2,692.4 614.2,697.9 619.7,706.9 622.4,721.4 624.2,732.2 623.3,741.3 632.3,748.5 639.6,752.1 652.2,753.0 657.6,756.6 661.3,748.5 672.1,739.5 677.5,726.8 673.9,719.6 684.8,717.8 690.2,708.7 692.0,697.9 686.6,692.4 679.3,687.0 677.5,682.5 681.2,683.4 686.6,687.0 697.4,687.0 704.7,692.4 719.1,691.5 730.0,687.9 735.4,686.1 744.5,690.6 751.7,683.4 760.7,679.8 768.0,680.7 773.4,685.2 777.0,696.1 784.2,705.1 784.2,714.1 795.1,725.0 813.2,739.5 831.2,753.9 835.8,759.3M874.6,766.6 881.9,757.5 885.5,748.5 887.3,744.9 878.3,743.1 874.6,738.6 883.7,730.4 894.5,726.8 907.2,721.4 916.2,712.3 918.0,705.1 927.1,697.9 939.7,696.1 948.8,692.4 960.0,690.6 968.1,688.2 995.2,680.9 1018.7,672.8 1026.0,664.7 1036.8,653.8 1045.8,641.2 1053.1,626.7 1056.7,610.4 1062.1,595.9 1067.5,583.3 1073.0,574.2 1083.8,572.4 1098.3,571.5 1116.4,572.4 1139.9,574.2 1148.9,579.7 1163.4,592.3 1177.8,603.2 1195.9,614.0 1212.2,623.1 1226.7,626.7 1248.4,626.7 1268.3,620.4 1284.5,614.0 1293.6,608.6 1295.4,599.6 1300.8,592.3 1299.0,587.8 1290.0,586.9 1284.5,581.5 1286.3,570.6 1295.4,552.5 1304.4,545.3 1317.1,543.5 1326.1,538.1 1338.8,540.8 1354.2,541.7 1368.7,539.9 1372.3,536.3 1379.6,536.3 1390.4,545.3 1397.6,552.5 1408.5,556.2 1426.6,565.2 1444.7,576.1 1462.7,586.9 1480.8,599.6 1498.9,608.6 1517.0,615.8 1535.1,626.7 1553.2,633.9 1571.2,638.4 1589.3,637.5 1607.4,633.9 1614.6,635.7M1657.6,634.4 1651.7,619.7 1647.3,608.0 1651.7,590.4 1651.7,567.0 1657.6,558.2 1657.6,537.7 1653.2,528.9 1660.5,523.0 1681.0,517.2 1684.0,505.5 1692.7,499.6 1713.2,502.5 1751.3,505.5 1763.0,499.6 1774.8,485.0 1780.6,476.2 1792.3,470.3 1799.7,458.6 1798.2,443.9 1795.3,438.1 1807.0,432.2 1814.3,424.9 1818.7,432.2 1821.6,446.9 1833.3,467.4 1839.2,487.9 1845.1,511.3 1856.8,540.6 1874.4,567.0 1897.8,587.5 1915.4,596.3 1924.2,602.1 1927.1,616.8 1938.8,631.4 1956.4,646.1 1985.7,651.9 2006.2,660.7 2020.8,666.6 2023.8,672.4 2050.1,681.2 2073.6,678.3 2088.2,672.4 2097.0,663.6 2126.3,657.8 2138.0,649.0 2152.7,635.8 2164.4,646.1 2173.2,669.5 2184.9,698.8 2187.8,736.9 2202.5,780.8 2217.1,824.8 2228.8,868.7M1620.2,182.4 1637.0,174.0 1653.7,153.1 1662.1,123.8 1657.9,102.9 1674.6,100.8 1683.0,111.2 1678.8,128.0 1666.3,140.5 1653.7,161.4 1641.2,178.2 1624.4,186.5 1620.2,182.4M572.7,700.0 577.0,696.5 583.5,697.0 583.0,701.5 577.0,704.2 573.0,703.0 572.7,700.0M881.2,104.7 893.0,102.7 894.0,99.7 898.9,100.7 900.9,106.6 908.8,108.6 912.7,111.6 908.8,115.5 902.9,116.5 897.0,112.6 889.1,116.5 883.2,112.6 881.2,104.7M1657.3,635.5 1665.2,636.8 1678.3,635.5 1691.5,638.1 1698.1,639.4 1704.6,632.9 1709.9,630.2 1702.0,638.1 1694.1,643.4 1692.8,652.6 1699.4,661.8 1704.6,672.3 1704.6,685.5 1707.3,699.9 1716.5,709.1 1715.2,731.5 1720.4,748.6 1725.7,763.0 1724.4,770.9 1717.8,781.5 1715.2,786.7 1711.2,795.9 1704.6,788.0 1699.4,781.5 1700.7,765.7 1691.5,761.7 1684.9,755.2 1675.7,748.6 1673.1,738.1 1675.7,731.5 1667.8,718.3 1663.9,705.2 1666.5,697.3 1671.8,692.0 1673.1,681.5 1670.5,673.6 1665.2,671.0 1659.9,671.0 1657.3,665.7 1652.0,664.4 1649.4,668.4 1645.5,673.6 1644.2,681.5 1646.8,689.4 1654.7,692.0 1657.3,694.7 1652.0,694.7 1638.9,699.9 1629.7,705.2 1623.1,707.8 1620.5,698.6 1620.5,689.4 1621.8,684.2 1627.1,673.6 1631.0,665.7 1632.3,655.2 1633.6,647.3M835.8,759.3 827.6,770.2 813.2,777.4 787.8,779.2 791.5,788.3 802.3,797.3 816.8,808.2 831.2,810.9 838.5,810.0 840.3,824.5 845.7,824.5 843.9,813.6 842.1,797.3 847.5,797.3 852.9,806.4 858.4,813.6 856.6,802.7 865.6,802.7 867.4,793.7 860.2,788.3 852.9,782.9 842.1,781.0 836.7,777.4 838.5,770.2 849.3,772.0 863.8,770.2 874.6,766.6M177.4,863.5 183.2,864.6 188.7,858.8 204.9,860.3 205.7,868.9 212.2,873.3 230.2,873.6 232.1,876.2 241.1,879.1 237.5,880.9 230.2,881.2 212.2,882.0 211.4,885.9M190.7,864.5 195.9,864.6 195.5,872.0 192.5,886.0M186.5,886.0 189.5,872.0 190.7,864.5M953.6,691.8 968.1,698.1 995.2,696.3 1022.3,693.6 1031.4,686.4 1033.2,679.1 1038.6,680.9 1036.8,691.8 1027.8,699.0 1018.7,704.4 1018.7,715.3 1013.3,726.1 1011.5,711.7 1004.2,704.4 995.2,702.6 968.1,709.9 955.4,708.1 953.6,691.8M1670.0,725.0 1675.0,722.0 1678.0,726.0 1674.0,730.0 1670.0,725.0" fill="none" stroke="#000" stroke-width="1.7" stroke-linejoin="round"/></g>
<rect x="179" y="15" width="2045" height="873" fill="none" stroke="#000" stroke-width="2.2"/>
<line x1="179" y1="70.5" x2="198" y2="70.5" stroke="#000" stroke-width="2.2"/>
<text x="169.4" y="86.1" font-size="39.5" text-anchor="end" fill="#000">24'</text>
<line x1="179" y1="220.1" x2="198" y2="220.1" stroke="#000" stroke-width="2.2"/>
<text x="169.4" y="235.7" font-size="39.5" text-anchor="end" fill="#000">18'</text>
<line x1="179" y1="370" x2="198" y2="370" stroke="#000" stroke-width="2.2"/>
<text x="169.4" y="385.6" font-size="39.5" text-anchor="end" fill="#000">12'</text>
<line x1="179" y1="519.5" x2="198" y2="519.5" stroke="#000" stroke-width="2.2"/>
<text x="169.4" y="535.1" font-size="39.5" text-anchor="end" fill="#000">6'</text>
<line x1="179" y1="669.3" x2="198" y2="669.3" stroke="#000" stroke-width="2.2"/>
<text x="163.8" y="688.2" font-size="53" text-anchor="end" fill="#000">20°N</text>
<line x1="179" y1="819" x2="198" y2="819" stroke="#000" stroke-width="2.2"/>
<text x="169.4" y="834.6" font-size="39.5" text-anchor="end" fill="#000">54'</text>
<line x1="499.2" y1="888" x2="499.2" y2="869" stroke="#000" stroke-width="2.2"/>
<text x="499.2" y="929" font-size="39.5" text-anchor="middle" fill="#000">45'</text>
<line x1="850.5" y1="888" x2="850.5" y2="869" stroke="#000" stroke-width="2.2"/>
<text x="851.0" y="942.7" font-size="53" text-anchor="middle" fill="#000">110°E</text>
<line x1="1202.7" y1="888" x2="1202.7" y2="869" stroke="#000" stroke-width="2.2"/>
<text x="1202.7" y="929" font-size="39.5" text-anchor="middle" fill="#000">15'</text>
<line x1="1554.2" y1="888" x2="1554.2" y2="869" stroke="#000" stroke-width="2.2"/>
<text x="1554.2" y="929" font-size="39.5" text-anchor="middle" fill="#000">30'</text>
<line x1="1905.8" y1="888" x2="1905.8" y2="869" stroke="#000" stroke-width="2.2"/>
<text x="1905.8" y="929" font-size="39.5" text-anchor="middle" fill="#000">45'</text>
<polyline points="1019.4,457.1 1059.5,451.8 1099.7,445.7 1139.8,438.8 1180.0,431.0 1220.1,422.5 1260.3,413.1 1300.4,402.8 1340.5,391.8 1380.7,379.9 1420.8,367.3 1461.0,353.7 1501.1,339.4 1541.3,324.3 1581.4,308.3" fill="none" stroke="#0000ff" stroke-width="10.5" stroke-linejoin="round"/>
<line x1="1290.2" y1="265" x2="1290.2" y2="577.8" stroke="#ff00ff" stroke-width="10.4"/>
<circle cx="1019.4" cy="456.2" r="8.5" fill="#00ff00"/>
<circle cx="1581.4" cy="309.3" r="8.5" fill="#00ff00"/>
<circle cx="1290.3" cy="265" r="8.7" fill="#ff0000"/>
<circle cx="1290.4" cy="577.8" r="8.5" fill="#ff0000"/>
<text x="963.7" y="480.0" font-size="58" font-weight="bold" fill="#000">A</text>
<text x="1613.0" y="319.1" font-size="58" font-weight="bold" fill="#000">B</text>
<text x="1267.9" y="243.7" font-size="58" font-weight="bold" fill="#000">C</text>
<text x="1270.8" y="660.1" font-size="58" font-weight="bold" fill="#000">D</text>
<text x="193.5" y="71.1" font-size="61" font-weight="bold" fill="#000">(a)</text>
<rect x="2265.5" y="856.97" width="63.5" height="29.63" fill="#0000ff"/>
<rect x="2265.5" y="827.93" width="63.5" height="29.63" fill="#1212ff"/>
<rect x="2265.5" y="798.90" width="63.5" height="29.63" fill="#2424ff"/>
<rect x="2265.5" y="769.87" width="63.5" height="29.63" fill="#3737ff"/>
<rect x="2265.5" y="740.83" width="63.5" height="29.63" fill="#4949ff"/>
<rect x="2265.5" y="711.80" width="63.5" height="29.63" fill="#5b5bff"/>
<rect x="2265.5" y="682.77" width="63.5" height="29.63" fill="#6d6dff"/>
<rect x="2265.5" y="653.73" width="63.5" height="29.63" fill="#8080ff"/>
<rect x="2265.5" y="624.70" width="63.5" height="29.63" fill="#9292ff"/>
<rect x="2265.5" y="595.67" width="63.5" height="29.63" fill="#a4a4ff"/>
<rect x="2265.5" y="566.63" width="63.5" height="29.63" fill="#b6b6ff"/>
<rect x="2265.5" y="537.60" width="63.5" height="29.63" fill="#c8c8ff"/>
<rect x="2265.5" y="508.57" width="63.5" height="29.63" fill="#dbdbff"/>
<rect x="2265.5" y="479.53" width="63.5" height="29.63" fill="#ededff"/>
<rect x="2265.5" y="450.50" width="63.5" height="29.63" fill="#ffffff"/>
<rect x="2265.5" y="421.47" width="63.5" height="29.63" fill="#ffffff"/>
<rect x="2265.5" y="392.43" width="63.5" height="29.63" fill="#ffeded"/>
<rect x="2265.5" y="363.40" width="63.5" height="29.63" fill="#ffdbdb"/>
<rect x="2265.5" y="334.37" width="63.5" height="29.63" fill="#ffc8c8"/>
<rect x="2265.5" y="305.33" width="63.5" height="29.63" fill="#ffb6b6"/>
<rect x="2265.5" y="276.30" width="63.5" height="29.63" fill="#ffa4a4"/>
<rect x="2265.5" y="247.27" width="63.5" height="29.63" fill="#ff9292"/>
<rect x="2265.5" y="218.23" width="63.5" height="29.63" fill="#ff8080"/>
<rect x="2265.5" y="189.20" width="63.5" height="29.63" fill="#ff6d6d"/>
<rect x="2265.5" y="160.17" width="63.5" height="29.63" fill="#ff5b5b"/>
<rect x="2265.5" y="131.13" width="63.5" height="29.63" fill="#ff4949"/>
<rect x="2265.5" y="102.10" width="63.5" height="29.63" fill="#ff3737"/>
<rect x="2265.5" y="73.07" width="63.5" height="29.63" fill="#ff2424"/>
<rect x="2265.5" y="44.03" width="63.5" height="29.63" fill="#ff1212"/>
<rect x="2265.5" y="15.00" width="63.5" height="29.63" fill="#ff0000"/>
<rect x="2265.5" y="15" width="63.5" height="871" fill="none" stroke="#262626" stroke-width="1.7"/>
<text x="2343.9" y="901.1" font-size="36.5" fill="#262626">28</text>
<line x1="2318" y1="777.1" x2="2329" y2="777.1" stroke="#262626" stroke-width="1.7"/>
<text x="2343.9" y="792.2" font-size="36.5" fill="#262626">28.5</text>
<line x1="2318" y1="668.2" x2="2329" y2="668.2" stroke="#262626" stroke-width="1.7"/>
<text x="2343.9" y="683.4" font-size="36.5" fill="#262626">29</text>
<line x1="2318" y1="559.4" x2="2329" y2="559.4" stroke="#262626" stroke-width="1.7"/>
<text x="2343.9" y="574.5" font-size="36.5" fill="#262626">29.5</text>
<line x1="2318" y1="450.5" x2="2329" y2="450.5" stroke="#262626" stroke-width="1.7"/>
<text x="2343.9" y="465.6" font-size="36.5" fill="#262626">30</text>
<line x1="2318" y1="341.6" x2="2329" y2="341.6" stroke="#262626" stroke-width="1.7"/>
<text x="2343.9" y="356.7" font-size="36.5" fill="#262626">30.5</text>
<line x1="2318" y1="232.8" x2="2329" y2="232.8" stroke="#262626" stroke-width="1.7"/>
<text x="2343.9" y="247.8" font-size="36.5" fill="#262626">31</text>
<line x1="2318" y1="123.9" x2="2329" y2="123.9" stroke="#262626" stroke-width="1.7"/>
<text x="2343.9" y="139.0" font-size="36.5" fill="#262626">31.5</text>
<text x="2343.9" y="30.1" font-size="36.5" fill="#262626">32</text>
<text transform="translate(2479.5,451.6) rotate(-90)" font-size="53.5" text-anchor="middle" fill="#262626">SST (°C)</text>
<rect x="177.3" y="988" width="1057.6000000000001" height="750.3" fill="#fff" stroke="#262626" stroke-width="1.7"/>
<line x1="410.7" y1="1738.3" x2="410.7" y2="1727.3" stroke="#262626" stroke-width="1.7"/>
<line x1="410.7" y1="988" x2="410.7" y2="999" stroke="#262626" stroke-width="1.7"/>
<text x="410.7" y="1805.8" font-size="49.5" text-anchor="middle" fill="#262626">110.2</text>
<line x1="657.3" y1="1738.3" x2="657.3" y2="1727.3" stroke="#262626" stroke-width="1.7"/>
<line x1="657.3" y1="988" x2="657.3" y2="999" stroke="#262626" stroke-width="1.7"/>
<text x="657.3" y="1805.8" font-size="49.5" text-anchor="middle" fill="#262626">110.3</text>
<line x1="903.4" y1="1738.3" x2="903.4" y2="1727.3" stroke="#262626" stroke-width="1.7"/>
<line x1="903.4" y1="988" x2="903.4" y2="999" stroke="#262626" stroke-width="1.7"/>
<text x="903.4" y="1805.8" font-size="49.5" text-anchor="middle" fill="#262626">110.4</text>
<line x1="1149" y1="1738.3" x2="1149" y2="1727.3" stroke="#262626" stroke-width="1.7"/>
<line x1="1149" y1="988" x2="1149" y2="999" stroke="#262626" stroke-width="1.7"/>
<text x="1149" y="1805.8" font-size="49.5" text-anchor="middle" fill="#262626">110.5</text>
<text x="160.8" y="1007.8" font-size="49.5" text-anchor="end" fill="#262626">30.2</text>
<line x1="177.3" y1="1113.0" x2="188.3" y2="1113.0" stroke="#262626" stroke-width="1.7"/>
<line x1="1234.9" y1="1113.0" x2="1223.9" y2="1113.0" stroke="#262626" stroke-width="1.7"/>
<text x="160.8" y="1132.8" font-size="49.5" text-anchor="end" fill="#262626">30</text>
<line x1="177.3" y1="1238.1" x2="188.3" y2="1238.1" stroke="#262626" stroke-width="1.7"/>
<line x1="1234.9" y1="1238.1" x2="1223.9" y2="1238.1" stroke="#262626" stroke-width="1.7"/>
<text x="160.8" y="1257.9" font-size="49.5" text-anchor="end" fill="#262626">29.8</text>
<line x1="177.3" y1="1363.1" x2="188.3" y2="1363.1" stroke="#262626" stroke-width="1.7"/>
<line x1="1234.9" y1="1363.1" x2="1223.9" y2="1363.1" stroke="#262626" stroke-width="1.7"/>
<text x="160.8" y="1382.9" font-size="49.5" text-anchor="end" fill="#262626">29.6</text>
<line x1="177.3" y1="1488.2" x2="188.3" y2="1488.2" stroke="#262626" stroke-width="1.7"/>
<line x1="1234.9" y1="1488.2" x2="1223.9" y2="1488.2" stroke="#262626" stroke-width="1.7"/>
<text x="160.8" y="1508.0" font-size="49.5" text-anchor="end" fill="#262626">29.4</text>
<line x1="177.3" y1="1613.2" x2="188.3" y2="1613.2" stroke="#262626" stroke-width="1.7"/>
<line x1="1234.9" y1="1613.2" x2="1223.9" y2="1613.2" stroke="#262626" stroke-width="1.7"/>
<text x="160.8" y="1633.0" font-size="49.5" text-anchor="end" fill="#262626">29.2</text>
<text x="160.8" y="1758.1" font-size="49.5" text-anchor="end" fill="#262626">29</text>
<polyline points="213.9,1110.9 262.8,1142.1 314.0,1163.1 362.9,1184.1 411.7,1203.6 460.5,1214.4 509.3,1229.0 558.2,1229.0 607.0,1242.7 655.8,1269.0 705.6,1297.4 754.4,1335.4 804.7,1374.5 853.6,1407.7 902.4,1411.6 951.2,1444.3 1000.0,1477.0 1048.9,1532.2 1097.7,1583.5 1146.5,1620.6 1197.8,1661.1" fill="none" stroke="#0000ff" stroke-width="7" stroke-linejoin="round"/>
<circle cx="214.2" cy="1111.2" r="8.6" fill="#00ff00"/>
<circle cx="1198.1" cy="1662.1" r="8.5" fill="#00ff00"/>
<text x="193.8" y="1044.4" font-size="61" font-weight="bold" fill="#000">(b)</text>
<text x="195.9" y="1179.7" font-size="58" font-weight="bold" fill="#000">A</text>
<text x="1177.2" y="1724.7" font-size="58" font-weight="bold" fill="#000">B</text>
<text x="705.2" y="1875" font-size="53" text-anchor="middle" fill="#262626">Longitude (°E)</text>
<text transform="translate(42.3,1364.7) rotate(-90)" font-size="53.5" text-anchor="middle" fill="#262626">SST (°C)</text>
<rect x="1426.9" y="989.6" width="1058.1" height="748.6999999999999" fill="#fff" stroke="#262626" stroke-width="1.7"/>
<line x1="1570.4" y1="1738.3" x2="1570.4" y2="1727.3" stroke="#262626" stroke-width="1.7"/>
<line x1="1570.4" y1="989.6" x2="1570.4" y2="1000.6" stroke="#262626" stroke-width="1.7"/>
<text x="1568.9" y="1807.1" font-size="49.5" text-anchor="middle" fill="#262626">20.1</text>
<line x1="1858.6" y1="1738.3" x2="1858.6" y2="1727.3" stroke="#262626" stroke-width="1.7"/>
<line x1="1858.6" y1="989.6" x2="1858.6" y2="1000.6" stroke="#262626" stroke-width="1.7"/>
<text x="1857.1" y="1807.1" font-size="49.5" text-anchor="middle" fill="#262626">20.15</text>
<line x1="2148.5" y1="1738.3" x2="2148.5" y2="1727.3" stroke="#262626" stroke-width="1.7"/>
<line x1="2148.5" y1="989.6" x2="2148.5" y2="1000.6" stroke="#262626" stroke-width="1.7"/>
<text x="2147.0" y="1807.1" font-size="49.5" text-anchor="middle" fill="#262626">20.2</text>
<line x1="2437.8" y1="1738.3" x2="2437.8" y2="1727.3" stroke="#262626" stroke-width="1.7"/>
<line x1="2437.8" y1="989.6" x2="2437.8" y2="1000.6" stroke="#262626" stroke-width="1.7"/>
<text x="2436.3" y="1807.1" font-size="49.5" text-anchor="middle" fill="#262626">20.25</text>
<text x="1408.1" y="1009.4" font-size="49.5" text-anchor="end" fill="#262626">0</text>
<line x1="1426.9" y1="1176.8" x2="1437.9" y2="1176.8" stroke="#262626" stroke-width="1.7"/>
<line x1="2485" y1="1176.8" x2="2474" y2="1176.8" stroke="#262626" stroke-width="1.7"/>
<text x="1408.1" y="1196.6" font-size="49.5" text-anchor="end" fill="#262626">-20</text>
<line x1="1426.9" y1="1364.0" x2="1437.9" y2="1364.0" stroke="#262626" stroke-width="1.7"/>
<line x1="2485" y1="1364.0" x2="2474" y2="1364.0" stroke="#262626" stroke-width="1.7"/>
<text x="1408.1" y="1383.8" font-size="49.5" text-anchor="end" fill="#262626">-40</text>
<line x1="1426.9" y1="1551.1" x2="1437.9" y2="1551.1" stroke="#262626" stroke-width="1.7"/>
<line x1="2485" y1="1551.1" x2="2474" y2="1551.1" stroke="#262626" stroke-width="1.7"/>
<text x="1408.1" y="1570.9" font-size="49.5" text-anchor="end" fill="#262626">-60</text>
<text x="1408.1" y="1758.1" font-size="49.5" text-anchor="end" fill="#262626">-80</text>
<polyline points="1473.8,1070.4 1593.0,1145.5 1714.5,1143.8 1836.0,1506.6 1955.2,1735.5 2076.2,1564.8 2196.0,1582.9 2315.8,1471.0 2438.4,1109.4" fill="none" stroke="#ff00ff" stroke-width="7" stroke-linejoin="round"/>
<circle cx="1473" cy="1071.3" r="8.6" fill="#ff0000"/>
<circle cx="2437.5" cy="1108" r="8.5" fill="#ff0000"/>
<text x="1441.8" y="1045.1" font-size="61" font-weight="bold" fill="#000">(c)</text>
<text x="1444.2" y="1138.8" font-size="58" font-weight="bold" fill="#000">D</text>
<text x="2425.4" y="1083.5" font-size="58" font-weight="bold" fill="#000">C</text>
<text x="1955.5" y="1874.3" font-size="53" text-anchor="middle" fill="#262626">Latitude (°N)</text>
<text transform="translate(1315.3,1363.3) rotate(-90)" font-size="53.5" text-anchor="middle" fill="#262626">Depth (m)</text></svg>
</body></html>
